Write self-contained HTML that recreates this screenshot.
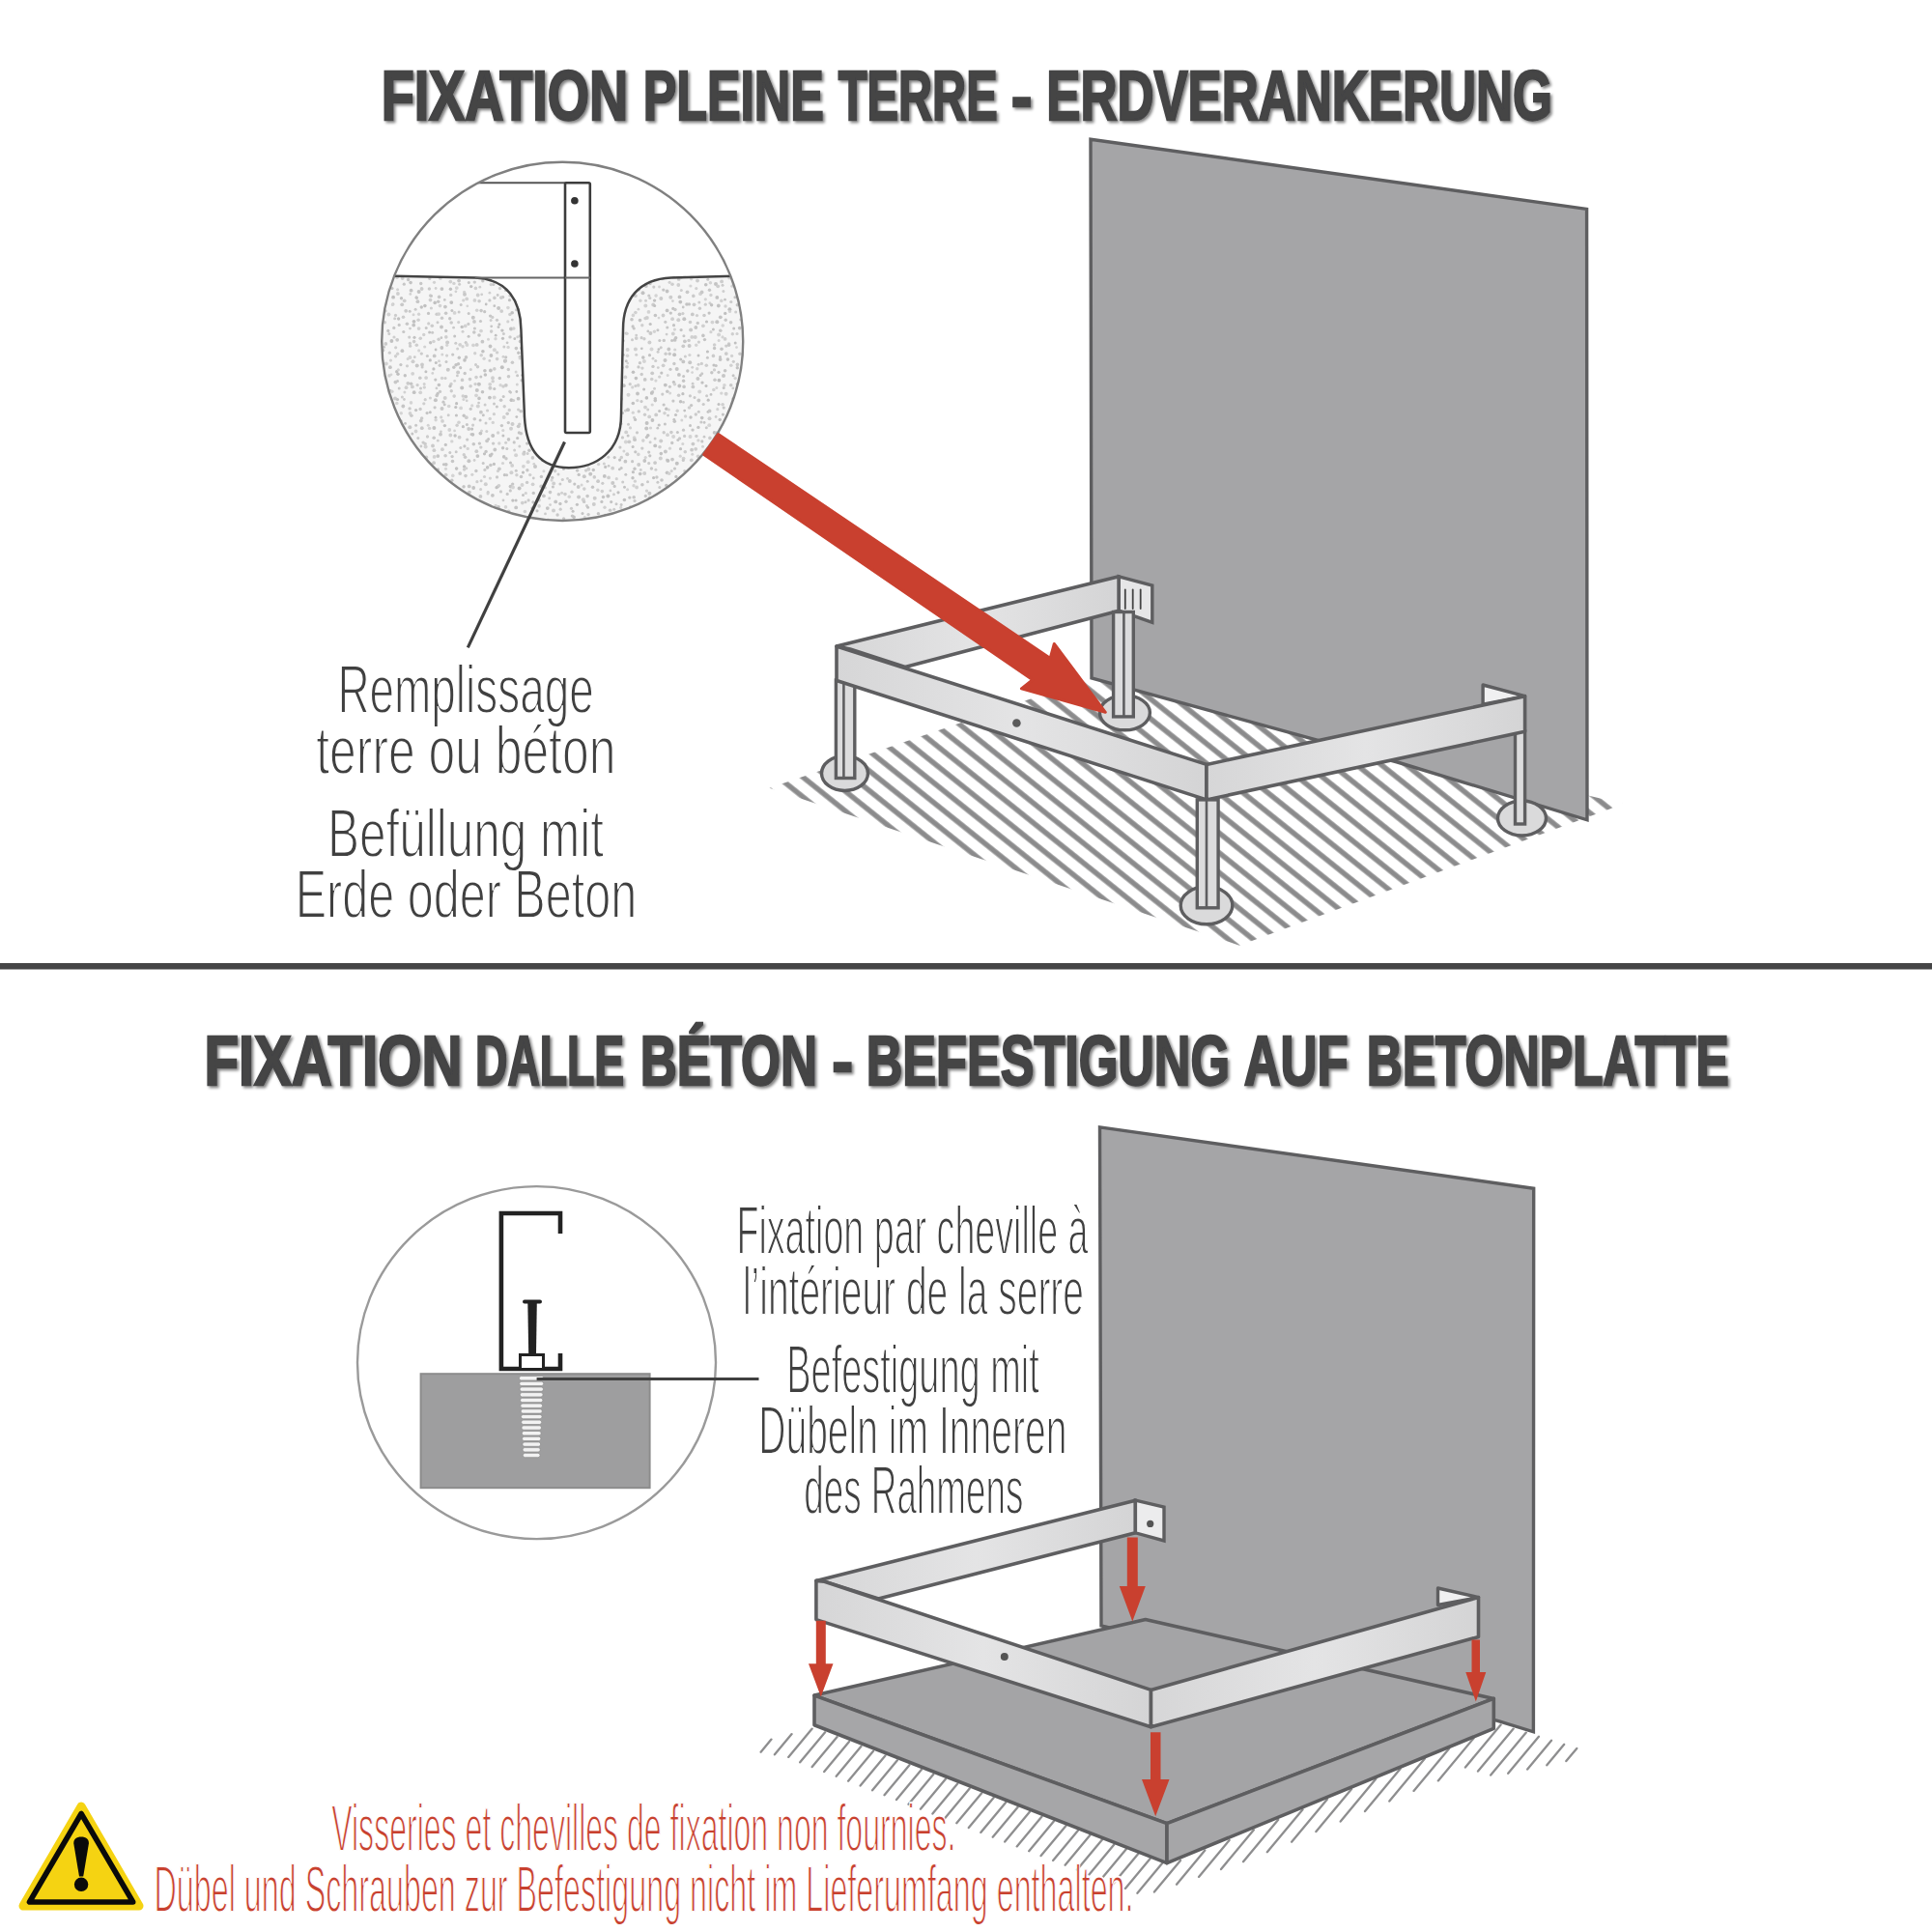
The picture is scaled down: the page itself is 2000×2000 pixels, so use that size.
<!DOCTYPE html>
<html><head><meta charset="utf-8"><title>Fixation</title>
<style>html,body{margin:0;padding:0;background:#fff;width:2000px;height:2000px;overflow:hidden}svg{display:block}text{font-family:"Liberation Sans",sans-serif}</style>
</head><body>
<svg width="2000" height="2000" viewBox="0 0 2000 2000"><defs>
<filter id="tsh" x="-5%" y="-30%" width="110%" height="160%">
  <feGaussianBlur in="SourceAlpha" stdDeviation="1.4"/>
  <feOffset dx="2.2" dy="2.4" result="b"/>
  <feComponentTransfer><feFuncA type="linear" slope="0.5"/></feComponentTransfer>
  <feMerge><feMergeNode/><feMergeNode in="SourceGraphic"/></feMerge>
</filter>
<pattern id="hatch1" patternUnits="userSpaceOnUse" width="40" height="16" patternTransform="rotate(38.66)">
  <rect x="0" y="10.24" width="40" height="5.4" fill="#8b8b8c"/>
</pattern>
<filter id="dblur" x="-5%" y="-5%" width="110%" height="110%"><feGaussianBlur stdDeviation="0.7"/></filter>
<clipPath id="c1"><ellipse cx="582.2" cy="353.4" rx="187" ry="185.6"/></clipPath>
<linearGradient id="railg" x1="0" y1="0" x2="1" y2="0">
  <stop offset="0" stop-color="#d6d6d7"/><stop offset="0.5" stop-color="#e4e4e5"/><stop offset="1" stop-color="#d4d4d5"/>
</linearGradient>
</defs>
<g filter="url(#tsh)">
<text x="394.64" y="124.4" font-family="Liberation Sans" font-size="72.3" font-weight="bold" fill="#444445" textLength="255.71" lengthAdjust="spacingAndGlyphs" stroke="#444445" stroke-width="2.4" stroke-linejoin="miter">FIXATION</text>
<text x="665.73" y="124.4" font-family="Liberation Sans" font-size="72.3" font-weight="bold" fill="#444445" textLength="187.09" lengthAdjust="spacingAndGlyphs" stroke="#444445" stroke-width="2.4" stroke-linejoin="miter">PLEINE</text>
<text x="867.80" y="124.4" font-family="Liberation Sans" font-size="72.3" font-weight="bold" fill="#444445" textLength="164.80" lengthAdjust="spacingAndGlyphs" stroke="#444445" stroke-width="2.4" stroke-linejoin="miter">TERRE</text>
<text x="1046.67" y="124.4" font-family="Liberation Sans" font-size="72.3" font-weight="bold" fill="#444445" textLength="21.68" lengthAdjust="spacingAndGlyphs" stroke="#444445" stroke-width="2.4" stroke-linejoin="miter">-</text>
<text x="1083.27" y="124.4" font-family="Liberation Sans" font-size="72.3" font-weight="bold" fill="#444445" textLength="523.65" lengthAdjust="spacingAndGlyphs" stroke="#444445" stroke-width="2.4" stroke-linejoin="miter">ERDVERANKERUNG</text>
<text x="211.43" y="1122.7" font-family="Liberation Sans" font-size="72.3" font-weight="bold" fill="#444445" textLength="266.94" lengthAdjust="spacingAndGlyphs" stroke="#444445" stroke-width="2.4" stroke-linejoin="miter">FIXATION</text>
<text x="491.96" y="1122.7" font-family="Liberation Sans" font-size="72.3" font-weight="bold" fill="#444445" textLength="154.26" lengthAdjust="spacingAndGlyphs" stroke="#444445" stroke-width="2.4" stroke-linejoin="miter">DALLE</text>
<text x="662.71" y="1122.7" font-family="Liberation Sans" font-size="72.3" font-weight="bold" fill="#444445" textLength="183.35" lengthAdjust="spacingAndGlyphs" stroke="#444445" stroke-width="2.4" stroke-linejoin="miter">BÉTON</text>
<text x="861.33" y="1122.7" font-family="Liberation Sans" font-size="72.3" font-weight="bold" fill="#444445" textLength="21.86" lengthAdjust="spacingAndGlyphs" stroke="#444445" stroke-width="2.4" stroke-linejoin="miter">-</text>
<text x="896.76" y="1122.7" font-family="Liberation Sans" font-size="72.3" font-weight="bold" fill="#444445" textLength="376.27" lengthAdjust="spacingAndGlyphs" stroke="#444445" stroke-width="2.4" stroke-linejoin="miter">BEFESTIGUNG</text>
<text x="1287.70" y="1122.7" font-family="Liberation Sans" font-size="72.3" font-weight="bold" fill="#444445" textLength="107.81" lengthAdjust="spacingAndGlyphs" stroke="#444445" stroke-width="2.4" stroke-linejoin="miter">AUF</text>
<text x="1414.67" y="1122.7" font-family="Liberation Sans" font-size="72.3" font-weight="bold" fill="#444445" textLength="375.04" lengthAdjust="spacingAndGlyphs" stroke="#444445" stroke-width="2.4" stroke-linejoin="miter">BETONPLATTE</text>
</g>
<rect x="0" y="997" width="2000" height="6.5" fill="#454546"/>
<g clip-path="url(#c1)">
<path d="M 380 285.8 L 800 285.8 L 800 560 L 380 560 Z M 491.8 285.8 L 491.8 287.5 C 526 289 539 312 539.4 341 L 543 432 C 545 470 563 484.2 589 484.2 C 616 484.2 643 468 643 430 L 645 341 C 645 310 661 289 694.7 287.5 L 694.7 285.8 Z" fill="#f5f5f5" fill-rule="evenodd"/>
<clipPath id="soilclip"><path d="M 380 285.8 L 800 285.8 L 800 560 L 380 560 Z M 491.8 285.8 L 491.8 287.5 C 526 289 539 312 539.4 341 L 543 432 C 545 470 563 484.2 589 484.2 C 616 484.2 643 468 643 430 L 645 341 C 645 310 661 289 694.7 287.5 L 694.7 285.8 Z" clip-rule="evenodd"/></clipPath>
<g clip-path="url(#soilclip)"><g filter="url(#dblur)"><circle cx="392.3" cy="281.1" r="1.8" fill="#c2c2c2"/><circle cx="402.7" cy="280.7" r="1.7" fill="#d0d0d0"/><circle cx="405.5" cy="280.6" r="1.7" fill="#c7c7c7"/><circle cx="411.6" cy="283.0" r="1.9" fill="#c3c3c3"/><circle cx="424.6" cy="284.4" r="1.7" fill="#c1c1c1"/><circle cx="429.0" cy="282.8" r="2.0" fill="#c1c1c1"/><circle cx="435.9" cy="280.9" r="1.7" fill="#d1d1d1"/><circle cx="439.8" cy="282.2" r="1.9" fill="#c5c5c5"/><circle cx="446.7" cy="284.0" r="1.5" fill="#c3c3c3"/><circle cx="456.8" cy="280.4" r="1.4" fill="#c6c6c6"/><circle cx="463.5" cy="283.7" r="1.9" fill="#cecece"/><circle cx="471.1" cy="283.2" r="1.6" fill="#c5c5c5"/><circle cx="478.9" cy="281.7" r="1.7" fill="#d0d0d0"/><circle cx="484.5" cy="282.4" r="1.7" fill="#d3d3d3"/><circle cx="494.9" cy="280.8" r="1.7" fill="#cacaca"/><circle cx="496.1" cy="283.4" r="1.4" fill="#c2c2c2"/><circle cx="507.4" cy="284.0" r="1.9" fill="#cacaca"/><circle cx="511.4" cy="282.5" r="1.7" fill="#cecece"/><circle cx="516.5" cy="280.7" r="1.6" fill="#c2c2c2"/><circle cx="523.4" cy="284.9" r="1.8" fill="#cecece"/><circle cx="532.0" cy="282.7" r="1.8" fill="#c0c0c0"/><circle cx="543.6" cy="282.5" r="1.8" fill="#cfcfcf"/><circle cx="544.4" cy="285.4" r="1.5" fill="#c7c7c7"/><circle cx="553.8" cy="286.4" r="1.7" fill="#c5c5c5"/><circle cx="561.1" cy="283.8" r="1.9" fill="#cdcdcd"/><circle cx="571.0" cy="281.9" r="1.6" fill="#cbcbcb"/><circle cx="576.8" cy="282.7" r="1.5" fill="#c2c2c2"/><circle cx="580.2" cy="281.6" r="1.5" fill="#cfcfcf"/><circle cx="591.8" cy="281.3" r="1.6" fill="#c4c4c4"/><circle cx="595.9" cy="282.6" r="1.7" fill="#c4c4c4"/><circle cx="604.8" cy="283.6" r="1.8" fill="#c1c1c1"/><circle cx="610.2" cy="286.1" r="2.0" fill="#d1d1d1"/><circle cx="616.7" cy="282.8" r="1.5" fill="#d4d4d4"/><circle cx="623.8" cy="281.3" r="2.0" fill="#cecece"/><circle cx="629.1" cy="282.4" r="1.4" fill="#c0c0c0"/><circle cx="639.0" cy="283.8" r="2.0" fill="#d3d3d3"/><circle cx="642.2" cy="286.1" r="1.8" fill="#c4c4c4"/><circle cx="653.4" cy="286.7" r="1.8" fill="#cfcfcf"/><circle cx="656.9" cy="285.9" r="2.0" fill="#cecece"/><circle cx="666.4" cy="282.2" r="1.5" fill="#cacaca"/><circle cx="675.2" cy="283.4" r="1.8" fill="#d0d0d0"/><circle cx="677.2" cy="286.7" r="1.7" fill="#c4c4c4"/><circle cx="688.8" cy="286.4" r="1.9" fill="#c9c9c9"/><circle cx="697.8" cy="286.0" r="1.8" fill="#c8c8c8"/><circle cx="701.6" cy="286.4" r="1.6" fill="#c7c7c7"/><circle cx="708.7" cy="285.5" r="1.6" fill="#c7c7c7"/><circle cx="716.3" cy="285.5" r="1.9" fill="#c6c6c6"/><circle cx="724.6" cy="285.7" r="1.8" fill="#c7c7c7"/><circle cx="727.4" cy="283.4" r="1.8" fill="#c0c0c0"/><circle cx="738.5" cy="283.3" r="1.5" fill="#d3d3d3"/><circle cx="746.7" cy="283.1" r="2.0" fill="#cbcbcb"/><circle cx="753.7" cy="282.6" r="1.5" fill="#c7c7c7"/><circle cx="757.3" cy="282.4" r="1.7" fill="#d3d3d3"/><circle cx="766.9" cy="283.4" r="1.8" fill="#d4d4d4"/><circle cx="768.6" cy="284.6" r="1.9" fill="#c6c6c6"/><circle cx="778.3" cy="281.2" r="1.9" fill="#cacaca"/><circle cx="390.6" cy="293.6" r="1.8" fill="#cecece"/><circle cx="399.8" cy="293.6" r="1.8" fill="#c5c5c5"/><circle cx="411.0" cy="287.2" r="1.8" fill="#cecece"/><circle cx="416.6" cy="288.0" r="1.9" fill="#cfcfcf"/><circle cx="422.6" cy="289.5" r="1.7" fill="#c4c4c4"/><circle cx="425.1" cy="292.6" r="1.8" fill="#c3c3c3"/><circle cx="435.7" cy="293.5" r="1.7" fill="#c6c6c6"/><circle cx="444.8" cy="288.5" r="1.6" fill="#c9c9c9"/><circle cx="449.5" cy="292.3" r="1.6" fill="#d1d1d1"/><circle cx="455.9" cy="287.9" r="1.9" fill="#cbcbcb"/><circle cx="466.3" cy="291.6" r="1.9" fill="#d0d0d0"/><circle cx="469.9" cy="293.4" r="1.7" fill="#d1d1d1"/><circle cx="475.1" cy="290.6" r="1.9" fill="#c5c5c5"/><circle cx="485.3" cy="292.4" r="1.5" fill="#c4c4c4"/><circle cx="491.3" cy="292.1" r="1.7" fill="#cacaca"/><circle cx="499.8" cy="290.7" r="1.7" fill="#c3c3c3"/><circle cx="508.2" cy="287.4" r="1.5" fill="#c1c1c1"/><circle cx="514.4" cy="290.6" r="1.7" fill="#c2c2c2"/><circle cx="519.1" cy="291.3" r="1.7" fill="#d0d0d0"/><circle cx="524.4" cy="288.9" r="1.7" fill="#cfcfcf"/><circle cx="533.6" cy="288.7" r="1.7" fill="#c8c8c8"/><circle cx="543.5" cy="293.2" r="1.5" fill="#cecece"/><circle cx="545.0" cy="287.9" r="1.7" fill="#c2c2c2"/><circle cx="555.7" cy="290.0" r="1.5" fill="#c9c9c9"/><circle cx="563.5" cy="293.3" r="1.5" fill="#d4d4d4"/><circle cx="569.6" cy="288.0" r="1.9" fill="#cecece"/><circle cx="573.5" cy="293.7" r="1.6" fill="#cfcfcf"/><circle cx="580.1" cy="291.7" r="1.5" fill="#cdcdcd"/><circle cx="593.0" cy="289.8" r="1.7" fill="#cbcbcb"/><circle cx="595.2" cy="292.1" r="1.4" fill="#d1d1d1"/><circle cx="603.2" cy="291.9" r="1.6" fill="#d0d0d0"/><circle cx="611.4" cy="290.6" r="1.4" fill="#c7c7c7"/><circle cx="620.8" cy="287.7" r="1.6" fill="#c1c1c1"/><circle cx="627.3" cy="288.3" r="1.9" fill="#cdcdcd"/><circle cx="633.9" cy="291.7" r="2.0" fill="#cccccc"/><circle cx="636.0" cy="293.4" r="1.7" fill="#cacaca"/><circle cx="642.6" cy="287.4" r="1.8" fill="#cdcdcd"/><circle cx="655.3" cy="288.9" r="1.4" fill="#c2c2c2"/><circle cx="661.6" cy="287.6" r="1.9" fill="#c2c2c2"/><circle cx="664.9" cy="287.9" r="1.4" fill="#d1d1d1"/><circle cx="672.9" cy="293.4" r="1.8" fill="#c1c1c1"/><circle cx="680.7" cy="288.7" r="1.5" fill="#c5c5c5"/><circle cx="685.8" cy="288.3" r="2.0" fill="#d4d4d4"/><circle cx="693.1" cy="292.3" r="1.6" fill="#d0d0d0"/><circle cx="702.7" cy="288.9" r="1.9" fill="#c8c8c8"/><circle cx="705.3" cy="287.1" r="1.7" fill="#c6c6c6"/><circle cx="715.6" cy="288.7" r="1.7" fill="#d4d4d4"/><circle cx="722.0" cy="290.5" r="1.9" fill="#cccccc"/><circle cx="732.8" cy="289.2" r="1.5" fill="#c7c7c7"/><circle cx="735.4" cy="292.8" r="1.8" fill="#d4d4d4"/><circle cx="741.0" cy="293.9" r="2.0" fill="#c4c4c4"/><circle cx="747.1" cy="291.4" r="1.9" fill="#cdcdcd"/><circle cx="755.1" cy="287.6" r="1.9" fill="#d0d0d0"/><circle cx="765.7" cy="289.0" r="1.5" fill="#c9c9c9"/><circle cx="768.3" cy="288.3" r="1.6" fill="#c0c0c0"/><circle cx="776.8" cy="293.7" r="2.0" fill="#d1d1d1"/><circle cx="392.3" cy="294.2" r="1.9" fill="#c6c6c6"/><circle cx="399.5" cy="294.0" r="1.6" fill="#cfcfcf"/><circle cx="406.0" cy="298.6" r="1.5" fill="#c0c0c0"/><circle cx="411.6" cy="299.7" r="1.5" fill="#d2d2d2"/><circle cx="418.3" cy="294.2" r="1.6" fill="#c7c7c7"/><circle cx="425.6" cy="300.7" r="1.9" fill="#c4c4c4"/><circle cx="436.6" cy="299.0" r="1.9" fill="#cccccc"/><circle cx="444.4" cy="299.0" r="1.7" fill="#c9c9c9"/><circle cx="451.1" cy="298.5" r="1.4" fill="#d0d0d0"/><circle cx="457.4" cy="299.1" r="1.9" fill="#c4c4c4"/><circle cx="466.4" cy="299.3" r="1.7" fill="#c0c0c0"/><circle cx="472.8" cy="298.1" r="1.9" fill="#d4d4d4"/><circle cx="475.6" cy="294.2" r="1.5" fill="#cbcbcb"/><circle cx="487.7" cy="296.6" r="1.7" fill="#c1c1c1"/><circle cx="492.4" cy="298.4" r="1.8" fill="#cfcfcf"/><circle cx="496.8" cy="297.2" r="1.4" fill="#d0d0d0"/><circle cx="508.3" cy="294.6" r="1.7" fill="#cfcfcf"/><circle cx="510.8" cy="294.5" r="1.6" fill="#c6c6c6"/><circle cx="517.6" cy="298.5" r="1.7" fill="#cccccc"/><circle cx="523.5" cy="300.4" r="1.6" fill="#c1c1c1"/><circle cx="534.3" cy="298.5" r="1.4" fill="#c4c4c4"/><circle cx="539.3" cy="298.6" r="1.8" fill="#d3d3d3"/><circle cx="548.0" cy="294.1" r="1.4" fill="#c8c8c8"/><circle cx="557.8" cy="294.7" r="1.5" fill="#cfcfcf"/><circle cx="560.0" cy="297.6" r="1.7" fill="#cecece"/><circle cx="570.4" cy="301.0" r="1.7" fill="#c9c9c9"/><circle cx="578.8" cy="300.6" r="1.4" fill="#cecece"/><circle cx="579.5" cy="297.5" r="2.0" fill="#c8c8c8"/><circle cx="588.7" cy="300.4" r="2.0" fill="#c2c2c2"/><circle cx="597.1" cy="295.0" r="1.7" fill="#cbcbcb"/><circle cx="600.9" cy="299.7" r="1.7" fill="#c3c3c3"/><circle cx="611.9" cy="295.6" r="1.9" fill="#cfcfcf"/><circle cx="616.8" cy="295.1" r="2.0" fill="#cecece"/><circle cx="623.8" cy="299.1" r="1.6" fill="#cccccc"/><circle cx="630.2" cy="299.9" r="1.4" fill="#cacaca"/><circle cx="640.9" cy="294.8" r="2.0" fill="#c0c0c0"/><circle cx="648.3" cy="296.0" r="1.6" fill="#cccccc"/><circle cx="651.7" cy="300.1" r="1.4" fill="#cdcdcd"/><circle cx="661.3" cy="300.0" r="1.6" fill="#c1c1c1"/><circle cx="668.8" cy="296.0" r="2.0" fill="#c7c7c7"/><circle cx="676.8" cy="297.1" r="1.6" fill="#cbcbcb"/><circle cx="682.5" cy="297.0" r="1.4" fill="#d4d4d4"/><circle cx="686.8" cy="300.1" r="1.7" fill="#c6c6c6"/><circle cx="696.0" cy="294.3" r="1.8" fill="#cecece"/><circle cx="702.3" cy="295.0" r="1.9" fill="#cfcfcf"/><circle cx="705.3" cy="300.5" r="1.5" fill="#cfcfcf"/><circle cx="714.9" cy="296.0" r="1.6" fill="#d4d4d4"/><circle cx="720.8" cy="298.6" r="1.6" fill="#d1d1d1"/><circle cx="730.7" cy="294.8" r="1.8" fill="#c2c2c2"/><circle cx="734.5" cy="300.3" r="1.7" fill="#c7c7c7"/><circle cx="743.2" cy="296.3" r="1.9" fill="#cdcdcd"/><circle cx="748.0" cy="295.3" r="1.5" fill="#cacaca"/><circle cx="757.9" cy="296.2" r="1.6" fill="#d2d2d2"/><circle cx="762.4" cy="294.1" r="1.9" fill="#cccccc"/><circle cx="770.9" cy="297.7" r="1.6" fill="#cacaca"/><circle cx="780.3" cy="297.5" r="1.7" fill="#cbcbcb"/><circle cx="390.9" cy="304.5" r="1.8" fill="#c6c6c6"/><circle cx="397.6" cy="307.3" r="1.6" fill="#d4d4d4"/><circle cx="407.1" cy="307.7" r="1.9" fill="#c0c0c0"/><circle cx="411.9" cy="304.0" r="1.9" fill="#cfcfcf"/><circle cx="424.8" cy="304.4" r="1.4" fill="#d0d0d0"/><circle cx="431.0" cy="307.8" r="1.5" fill="#c3c3c3"/><circle cx="433.6" cy="302.1" r="2.0" fill="#c3c3c3"/><circle cx="445.6" cy="306.1" r="1.8" fill="#cecece"/><circle cx="446.6" cy="306.4" r="1.4" fill="#c4c4c4"/><circle cx="454.6" cy="307.4" r="1.8" fill="#c9c9c9"/><circle cx="466.7" cy="305.4" r="1.7" fill="#cdcdcd"/><circle cx="471.9" cy="301.8" r="1.4" fill="#d0d0d0"/><circle cx="480.6" cy="302.3" r="1.6" fill="#d3d3d3"/><circle cx="481.0" cy="304.8" r="2.0" fill="#c8c8c8"/><circle cx="494.7" cy="305.5" r="1.9" fill="#cfcfcf"/><circle cx="498.7" cy="304.8" r="1.4" fill="#cdcdcd"/><circle cx="506.9" cy="303.2" r="1.4" fill="#cfcfcf"/><circle cx="515.2" cy="305.5" r="1.4" fill="#c7c7c7"/><circle cx="520.7" cy="307.5" r="1.5" fill="#c1c1c1"/><circle cx="527.9" cy="306.0" r="1.6" fill="#cccccc"/><circle cx="531.4" cy="306.6" r="1.8" fill="#d0d0d0"/><circle cx="537.5" cy="304.5" r="1.5" fill="#c6c6c6"/><circle cx="545.6" cy="302.6" r="1.9" fill="#c9c9c9"/><circle cx="551.8" cy="305.4" r="1.8" fill="#c7c7c7"/><circle cx="561.4" cy="307.4" r="1.4" fill="#d3d3d3"/><circle cx="566.0" cy="303.8" r="1.5" fill="#d3d3d3"/><circle cx="573.0" cy="301.4" r="1.4" fill="#cccccc"/><circle cx="582.1" cy="306.0" r="1.6" fill="#c3c3c3"/><circle cx="593.0" cy="307.5" r="1.6" fill="#c5c5c5"/><circle cx="597.6" cy="304.7" r="1.7" fill="#c9c9c9"/><circle cx="604.7" cy="303.7" r="1.6" fill="#cacaca"/><circle cx="610.1" cy="301.8" r="1.4" fill="#c2c2c2"/><circle cx="616.5" cy="307.7" r="1.5" fill="#c6c6c6"/><circle cx="623.7" cy="306.4" r="1.6" fill="#cdcdcd"/><circle cx="628.6" cy="305.9" r="1.5" fill="#d1d1d1"/><circle cx="641.4" cy="302.4" r="1.6" fill="#cfcfcf"/><circle cx="642.2" cy="303.9" r="1.9" fill="#cccccc"/><circle cx="649.3" cy="301.2" r="1.4" fill="#c1c1c1"/><circle cx="657.8" cy="306.2" r="1.9" fill="#cacaca"/><circle cx="665.5" cy="303.3" r="2.0" fill="#c1c1c1"/><circle cx="671.8" cy="306.0" r="1.6" fill="#c8c8c8"/><circle cx="679.1" cy="306.1" r="1.8" fill="#d4d4d4"/><circle cx="690.6" cy="301.5" r="1.9" fill="#c3c3c3"/><circle cx="694.3" cy="307.7" r="2.0" fill="#cccccc"/><circle cx="703.5" cy="307.4" r="1.9" fill="#c4c4c4"/><circle cx="711.5" cy="302.3" r="1.9" fill="#c9c9c9"/><circle cx="717.8" cy="306.4" r="1.8" fill="#cacaca"/><circle cx="725.0" cy="304.2" r="1.9" fill="#d3d3d3"/><circle cx="726.6" cy="302.4" r="1.9" fill="#c7c7c7"/><circle cx="735.9" cy="305.5" r="1.7" fill="#d1d1d1"/><circle cx="742.3" cy="307.9" r="1.9" fill="#c2c2c2"/><circle cx="748.9" cy="301.6" r="1.5" fill="#cfcfcf"/><circle cx="760.9" cy="307.8" r="1.5" fill="#c4c4c4"/><circle cx="763.9" cy="305.3" r="1.8" fill="#d1d1d1"/><circle cx="773.9" cy="305.7" r="1.5" fill="#c9c9c9"/><circle cx="777.1" cy="305.0" r="1.6" fill="#c8c8c8"/><circle cx="391.4" cy="309.7" r="1.5" fill="#c4c4c4"/><circle cx="399.0" cy="314.4" r="1.5" fill="#c2c2c2"/><circle cx="406.8" cy="314.9" r="1.7" fill="#c7c7c7"/><circle cx="415.5" cy="308.7" r="1.7" fill="#c1c1c1"/><circle cx="418.7" cy="311.3" r="1.9" fill="#cecece"/><circle cx="431.4" cy="308.3" r="1.6" fill="#c3c3c3"/><circle cx="432.4" cy="312.2" r="1.9" fill="#c6c6c6"/><circle cx="445.5" cy="310.6" r="1.9" fill="#cecece"/><circle cx="450.2" cy="313.4" r="1.8" fill="#c0c0c0"/><circle cx="453.7" cy="312.2" r="1.8" fill="#c6c6c6"/><circle cx="460.3" cy="310.4" r="1.4" fill="#c8c8c8"/><circle cx="467.3" cy="313.1" r="1.9" fill="#c0c0c0"/><circle cx="479.7" cy="310.9" r="1.6" fill="#d3d3d3"/><circle cx="483.2" cy="309.4" r="1.9" fill="#d1d1d1"/><circle cx="491.4" cy="310.9" r="1.9" fill="#d1d1d1"/><circle cx="496.1" cy="311.7" r="1.8" fill="#cccccc"/><circle cx="506.9" cy="310.9" r="1.6" fill="#c9c9c9"/><circle cx="511.9" cy="308.4" r="1.8" fill="#cbcbcb"/><circle cx="518.9" cy="308.1" r="1.9" fill="#cbcbcb"/><circle cx="527.5" cy="310.7" r="1.6" fill="#c0c0c0"/><circle cx="533.0" cy="309.1" r="1.5" fill="#c2c2c2"/><circle cx="539.8" cy="314.2" r="1.7" fill="#c5c5c5"/><circle cx="544.9" cy="308.4" r="1.5" fill="#cccccc"/><circle cx="551.6" cy="312.4" r="1.6" fill="#d0d0d0"/><circle cx="559.2" cy="310.4" r="1.5" fill="#c5c5c5"/><circle cx="571.5" cy="308.8" r="1.7" fill="#c6c6c6"/><circle cx="574.1" cy="313.9" r="1.4" fill="#cfcfcf"/><circle cx="581.2" cy="312.3" r="1.8" fill="#c2c2c2"/><circle cx="592.3" cy="312.3" r="1.9" fill="#c5c5c5"/><circle cx="597.5" cy="314.0" r="1.8" fill="#d3d3d3"/><circle cx="605.9" cy="313.8" r="1.5" fill="#c6c6c6"/><circle cx="607.3" cy="314.6" r="1.5" fill="#cbcbcb"/><circle cx="614.9" cy="309.7" r="1.8" fill="#c6c6c6"/><circle cx="621.3" cy="311.9" r="1.9" fill="#c1c1c1"/><circle cx="632.7" cy="310.3" r="1.6" fill="#cecece"/><circle cx="638.9" cy="312.4" r="1.6" fill="#cdcdcd"/><circle cx="644.2" cy="309.7" r="1.6" fill="#cbcbcb"/><circle cx="652.1" cy="311.1" r="1.4" fill="#d3d3d3"/><circle cx="662.9" cy="311.3" r="1.7" fill="#d3d3d3"/><circle cx="668.5" cy="311.2" r="1.5" fill="#cfcfcf"/><circle cx="672.8" cy="308.5" r="1.6" fill="#cbcbcb"/><circle cx="677.6" cy="311.1" r="1.7" fill="#c1c1c1"/><circle cx="684.3" cy="308.9" r="2.0" fill="#cacaca"/><circle cx="696.4" cy="311.6" r="1.4" fill="#d0d0d0"/><circle cx="704.3" cy="312.6" r="1.9" fill="#c0c0c0"/><circle cx="711.0" cy="315.0" r="1.8" fill="#c3c3c3"/><circle cx="713.4" cy="314.9" r="1.7" fill="#c5c5c5"/><circle cx="723.8" cy="313.0" r="1.5" fill="#cbcbcb"/><circle cx="730.3" cy="309.8" r="1.6" fill="#d3d3d3"/><circle cx="734.9" cy="313.7" r="1.5" fill="#d0d0d0"/><circle cx="746.8" cy="311.4" r="1.8" fill="#d3d3d3"/><circle cx="750.5" cy="310.2" r="1.4" fill="#c5c5c5"/><circle cx="756.8" cy="312.5" r="1.6" fill="#cacaca"/><circle cx="767.3" cy="309.2" r="1.9" fill="#c3c3c3"/><circle cx="773.4" cy="308.3" r="1.9" fill="#cecece"/><circle cx="778.9" cy="312.1" r="1.9" fill="#c3c3c3"/><circle cx="391.8" cy="318.7" r="1.9" fill="#cbcbcb"/><circle cx="398.9" cy="321.9" r="1.7" fill="#cbcbcb"/><circle cx="406.3" cy="315.6" r="1.5" fill="#d3d3d3"/><circle cx="416.2" cy="315.3" r="1.9" fill="#c8c8c8"/><circle cx="420.2" cy="321.8" r="1.9" fill="#cacaca"/><circle cx="430.1" cy="320.2" r="1.5" fill="#c9c9c9"/><circle cx="436.3" cy="318.0" r="1.7" fill="#c1c1c1"/><circle cx="439.9" cy="316.6" r="1.8" fill="#c0c0c0"/><circle cx="446.4" cy="319.0" r="1.6" fill="#d0d0d0"/><circle cx="455.5" cy="316.6" r="1.8" fill="#d2d2d2"/><circle cx="460.9" cy="317.6" r="1.9" fill="#c5c5c5"/><circle cx="467.9" cy="321.6" r="1.5" fill="#c4c4c4"/><circle cx="477.2" cy="315.4" r="1.5" fill="#c8c8c8"/><circle cx="483.8" cy="316.8" r="1.4" fill="#d4d4d4"/><circle cx="493.7" cy="321.2" r="1.8" fill="#d2d2d2"/><circle cx="498.1" cy="321.6" r="1.8" fill="#c7c7c7"/><circle cx="503.2" cy="315.0" r="1.4" fill="#c0c0c0"/><circle cx="511.8" cy="316.7" r="1.4" fill="#c3c3c3"/><circle cx="516.1" cy="318.9" r="2.0" fill="#c4c4c4"/><circle cx="525.9" cy="318.6" r="1.8" fill="#d4d4d4"/><circle cx="534.5" cy="320.7" r="1.5" fill="#c9c9c9"/><circle cx="537.4" cy="319.4" r="2.0" fill="#cfcfcf"/><circle cx="549.0" cy="315.0" r="1.9" fill="#cecece"/><circle cx="551.6" cy="319.6" r="1.5" fill="#c3c3c3"/><circle cx="559.8" cy="319.5" r="1.5" fill="#c8c8c8"/><circle cx="570.0" cy="316.9" r="1.7" fill="#cdcdcd"/><circle cx="576.8" cy="321.4" r="2.0" fill="#c9c9c9"/><circle cx="583.5" cy="321.8" r="1.5" fill="#d0d0d0"/><circle cx="586.1" cy="316.8" r="1.5" fill="#c6c6c6"/><circle cx="599.6" cy="320.2" r="1.6" fill="#cccccc"/><circle cx="602.3" cy="316.7" r="1.9" fill="#d4d4d4"/><circle cx="613.5" cy="321.9" r="1.9" fill="#d1d1d1"/><circle cx="617.3" cy="320.9" r="1.8" fill="#c0c0c0"/><circle cx="624.1" cy="320.1" r="1.7" fill="#c9c9c9"/><circle cx="633.5" cy="317.7" r="1.8" fill="#d2d2d2"/><circle cx="641.4" cy="316.0" r="1.4" fill="#c3c3c3"/><circle cx="646.4" cy="316.1" r="2.0" fill="#c0c0c0"/><circle cx="649.2" cy="316.0" r="1.8" fill="#c1c1c1"/><circle cx="660.9" cy="320.2" r="1.4" fill="#d2d2d2"/><circle cx="668.3" cy="316.4" r="2.0" fill="#d1d1d1"/><circle cx="676.2" cy="315.5" r="1.9" fill="#cccccc"/><circle cx="677.7" cy="316.4" r="1.5" fill="#c1c1c1"/><circle cx="690.6" cy="321.4" r="1.9" fill="#c2c2c2"/><circle cx="696.8" cy="319.4" r="1.6" fill="#c3c3c3"/><circle cx="698.9" cy="320.5" r="1.8" fill="#c9c9c9"/><circle cx="707.2" cy="318.0" r="1.4" fill="#c8c8c8"/><circle cx="718.5" cy="315.3" r="1.9" fill="#cacaca"/><circle cx="724.4" cy="319.2" r="1.7" fill="#c9c9c9"/><circle cx="730.3" cy="315.2" r="1.6" fill="#cdcdcd"/><circle cx="736.6" cy="315.7" r="1.7" fill="#c1c1c1"/><circle cx="743.8" cy="316.5" r="1.9" fill="#c2c2c2"/><circle cx="751.0" cy="317.0" r="1.7" fill="#d0d0d0"/><circle cx="755.4" cy="320.3" r="2.0" fill="#c0c0c0"/><circle cx="763.4" cy="315.7" r="1.8" fill="#c5c5c5"/><circle cx="774.8" cy="319.1" r="2.0" fill="#d0d0d0"/><circle cx="776.8" cy="321.6" r="1.6" fill="#c6c6c6"/><circle cx="396.6" cy="323.6" r="1.5" fill="#d4d4d4"/><circle cx="402.4" cy="325.4" r="2.0" fill="#d1d1d1"/><circle cx="409.5" cy="326.4" r="1.6" fill="#cccccc"/><circle cx="417.5" cy="328.2" r="1.8" fill="#cdcdcd"/><circle cx="424.2" cy="322.2" r="1.5" fill="#c8c8c8"/><circle cx="428.0" cy="325.8" r="1.5" fill="#d4d4d4"/><circle cx="433.6" cy="325.2" r="1.7" fill="#d3d3d3"/><circle cx="443.5" cy="324.4" r="1.6" fill="#c4c4c4"/><circle cx="452.1" cy="325.2" r="1.7" fill="#cacaca"/><circle cx="454.2" cy="325.1" r="1.9" fill="#d2d2d2"/><circle cx="461.6" cy="324.3" r="1.8" fill="#c7c7c7"/><circle cx="470.6" cy="323.9" r="1.9" fill="#d3d3d3"/><circle cx="475.1" cy="323.1" r="1.5" fill="#cacaca"/><circle cx="485.2" cy="324.4" r="1.5" fill="#c6c6c6"/><circle cx="489.8" cy="328.7" r="2.0" fill="#c5c5c5"/><circle cx="501.7" cy="322.7" r="1.6" fill="#c4c4c4"/><circle cx="507.6" cy="327.1" r="1.7" fill="#c6c6c6"/><circle cx="509.8" cy="328.4" r="1.6" fill="#cccccc"/><circle cx="519.2" cy="322.1" r="1.9" fill="#cdcdcd"/><circle cx="527.9" cy="325.5" r="1.8" fill="#cecece"/><circle cx="530.2" cy="323.8" r="1.8" fill="#c0c0c0"/><circle cx="542.2" cy="328.4" r="1.7" fill="#d2d2d2"/><circle cx="548.1" cy="326.5" r="1.9" fill="#d4d4d4"/><circle cx="557.2" cy="327.4" r="1.8" fill="#c7c7c7"/><circle cx="562.8" cy="326.5" r="1.7" fill="#cacaca"/><circle cx="566.8" cy="326.9" r="1.9" fill="#c7c7c7"/><circle cx="577.5" cy="327.0" r="1.8" fill="#c8c8c8"/><circle cx="584.9" cy="325.4" r="1.4" fill="#cdcdcd"/><circle cx="589.6" cy="326.6" r="1.9" fill="#d4d4d4"/><circle cx="595.3" cy="322.1" r="1.9" fill="#c3c3c3"/><circle cx="600.3" cy="325.8" r="1.5" fill="#c6c6c6"/><circle cx="610.6" cy="322.7" r="1.7" fill="#d1d1d1"/><circle cx="615.4" cy="325.3" r="1.4" fill="#cbcbcb"/><circle cx="624.7" cy="324.9" r="2.0" fill="#c6c6c6"/><circle cx="634.9" cy="323.3" r="1.7" fill="#c3c3c3"/><circle cx="640.1" cy="326.3" r="1.8" fill="#c8c8c8"/><circle cx="643.9" cy="324.8" r="1.4" fill="#cdcdcd"/><circle cx="655.4" cy="326.4" r="1.8" fill="#d2d2d2"/><circle cx="657.9" cy="323.6" r="1.8" fill="#d0d0d0"/><circle cx="669.8" cy="329.0" r="2.0" fill="#cecece"/><circle cx="671.5" cy="322.9" r="1.9" fill="#d4d4d4"/><circle cx="678.4" cy="326.5" r="1.8" fill="#c4c4c4"/><circle cx="686.5" cy="326.5" r="1.9" fill="#cdcdcd"/><circle cx="694.3" cy="324.1" r="1.7" fill="#c4c4c4"/><circle cx="703.5" cy="325.3" r="1.9" fill="#c7c7c7"/><circle cx="706.9" cy="324.6" r="1.6" fill="#cdcdcd"/><circle cx="716.8" cy="325.4" r="1.9" fill="#c8c8c8"/><circle cx="721.5" cy="326.6" r="1.6" fill="#cfcfcf"/><circle cx="729.0" cy="326.5" r="1.8" fill="#cbcbcb"/><circle cx="734.1" cy="324.1" r="1.6" fill="#c2c2c2"/><circle cx="745.8" cy="328.3" r="1.9" fill="#c4c4c4"/><circle cx="750.7" cy="324.4" r="1.7" fill="#c0c0c0"/><circle cx="755.5" cy="322.5" r="1.6" fill="#d3d3d3"/><circle cx="761.7" cy="323.0" r="1.5" fill="#cecece"/><circle cx="770.4" cy="323.1" r="1.9" fill="#d1d1d1"/><circle cx="776.2" cy="328.2" r="1.8" fill="#c2c2c2"/><circle cx="394.7" cy="335.3" r="1.9" fill="#c9c9c9"/><circle cx="398.4" cy="333.8" r="1.7" fill="#cecece"/><circle cx="408.7" cy="329.8" r="1.5" fill="#cdcdcd"/><circle cx="412.6" cy="330.0" r="1.7" fill="#c1c1c1"/><circle cx="421.4" cy="335.3" r="1.8" fill="#c7c7c7"/><circle cx="428.5" cy="332.8" r="1.9" fill="#c0c0c0"/><circle cx="433.1" cy="331.2" r="1.8" fill="#cfcfcf"/><circle cx="443.7" cy="334.9" r="1.6" fill="#cdcdcd"/><circle cx="453.0" cy="333.7" r="1.5" fill="#cbcbcb"/><circle cx="457.5" cy="329.2" r="1.8" fill="#cacaca"/><circle cx="465.7" cy="329.7" r="1.7" fill="#c4c4c4"/><circle cx="467.2" cy="334.0" r="1.8" fill="#cacaca"/><circle cx="474.7" cy="333.6" r="1.6" fill="#d0d0d0"/><circle cx="484.9" cy="335.4" r="1.6" fill="#cacaca"/><circle cx="491.0" cy="332.9" r="1.9" fill="#c9c9c9"/><circle cx="497.5" cy="332.5" r="1.6" fill="#c8c8c8"/><circle cx="508.1" cy="331.4" r="1.5" fill="#cfcfcf"/><circle cx="514.5" cy="331.3" r="1.6" fill="#c9c9c9"/><circle cx="516.9" cy="335.8" r="1.5" fill="#c1c1c1"/><circle cx="525.8" cy="332.9" r="1.6" fill="#d2d2d2"/><circle cx="530.3" cy="331.1" r="1.4" fill="#c6c6c6"/><circle cx="542.8" cy="332.3" r="1.9" fill="#c1c1c1"/><circle cx="549.5" cy="335.4" r="1.8" fill="#d3d3d3"/><circle cx="552.0" cy="333.7" r="1.8" fill="#c2c2c2"/><circle cx="559.5" cy="333.7" r="1.7" fill="#c5c5c5"/><circle cx="565.7" cy="330.3" r="1.4" fill="#c3c3c3"/><circle cx="578.4" cy="333.6" r="1.6" fill="#c4c4c4"/><circle cx="584.5" cy="332.9" r="1.6" fill="#c9c9c9"/><circle cx="587.3" cy="329.2" r="1.4" fill="#d2d2d2"/><circle cx="597.5" cy="335.5" r="1.4" fill="#d2d2d2"/><circle cx="603.7" cy="334.8" r="1.9" fill="#cdcdcd"/><circle cx="611.0" cy="335.4" r="1.7" fill="#c0c0c0"/><circle cx="618.8" cy="333.2" r="2.0" fill="#c4c4c4"/><circle cx="624.3" cy="331.9" r="1.5" fill="#d4d4d4"/><circle cx="631.3" cy="335.3" r="1.8" fill="#cdcdcd"/><circle cx="635.0" cy="333.8" r="1.5" fill="#c2c2c2"/><circle cx="643.5" cy="329.8" r="1.7" fill="#c8c8c8"/><circle cx="654.0" cy="330.7" r="1.8" fill="#c5c5c5"/><circle cx="662.5" cy="331.6" r="1.8" fill="#c4c4c4"/><circle cx="668.1" cy="329.6" r="1.8" fill="#cfcfcf"/><circle cx="673.2" cy="335.5" r="1.6" fill="#c1c1c1"/><circle cx="682.0" cy="329.1" r="1.4" fill="#d4d4d4"/><circle cx="688.8" cy="333.3" r="1.6" fill="#c9c9c9"/><circle cx="696.1" cy="330.2" r="1.9" fill="#cfcfcf"/><circle cx="702.3" cy="331.2" r="2.0" fill="#cecece"/><circle cx="708.3" cy="330.2" r="2.0" fill="#c3c3c3"/><circle cx="714.5" cy="333.5" r="1.8" fill="#cdcdcd"/><circle cx="722.3" cy="334.4" r="1.7" fill="#c8c8c8"/><circle cx="731.5" cy="333.0" r="1.6" fill="#c1c1c1"/><circle cx="737.4" cy="333.6" r="1.9" fill="#d3d3d3"/><circle cx="742.3" cy="333.2" r="2.0" fill="#c4c4c4"/><circle cx="751.2" cy="331.2" r="1.7" fill="#c7c7c7"/><circle cx="756.6" cy="333.8" r="1.8" fill="#c7c7c7"/><circle cx="766.7" cy="331.0" r="1.4" fill="#c8c8c8"/><circle cx="769.9" cy="330.1" r="2.0" fill="#c1c1c1"/><circle cx="777.0" cy="330.0" r="1.9" fill="#d2d2d2"/><circle cx="391.0" cy="342.8" r="1.9" fill="#d1d1d1"/><circle cx="401.8" cy="342.4" r="1.6" fill="#c2c2c2"/><circle cx="407.8" cy="339.4" r="1.6" fill="#c7c7c7"/><circle cx="413.2" cy="336.4" r="1.6" fill="#c6c6c6"/><circle cx="424.5" cy="340.1" r="1.4" fill="#cccccc"/><circle cx="428.2" cy="336.6" r="1.9" fill="#c2c2c2"/><circle cx="433.6" cy="340.1" r="1.9" fill="#d0d0d0"/><circle cx="441.2" cy="339.5" r="1.5" fill="#c6c6c6"/><circle cx="447.3" cy="337.3" r="1.8" fill="#cbcbcb"/><circle cx="457.0" cy="338.5" r="1.9" fill="#c4c4c4"/><circle cx="461.7" cy="342.5" r="1.7" fill="#c3c3c3"/><circle cx="469.6" cy="339.2" r="1.4" fill="#cacaca"/><circle cx="478.2" cy="338.4" r="1.7" fill="#c0c0c0"/><circle cx="481.7" cy="337.4" r="1.9" fill="#d2d2d2"/><circle cx="491.4" cy="340.0" r="1.6" fill="#c8c8c8"/><circle cx="498.0" cy="342.6" r="1.9" fill="#d3d3d3"/><circle cx="508.7" cy="337.8" r="1.4" fill="#c6c6c6"/><circle cx="516.0" cy="338.6" r="1.4" fill="#c1c1c1"/><circle cx="519.9" cy="342.1" r="1.7" fill="#c2c2c2"/><circle cx="529.0" cy="340.5" r="2.0" fill="#c2c2c2"/><circle cx="531.8" cy="340.0" r="1.8" fill="#d0d0d0"/><circle cx="539.8" cy="339.1" r="1.5" fill="#c7c7c7"/><circle cx="550.9" cy="337.6" r="1.4" fill="#c8c8c8"/><circle cx="557.6" cy="336.4" r="1.7" fill="#c0c0c0"/><circle cx="563.9" cy="336.3" r="1.9" fill="#d4d4d4"/><circle cx="570.3" cy="339.4" r="1.5" fill="#cacaca"/><circle cx="577.3" cy="342.6" r="1.8" fill="#c9c9c9"/><circle cx="583.1" cy="339.1" r="1.8" fill="#cfcfcf"/><circle cx="588.3" cy="337.8" r="1.5" fill="#cfcfcf"/><circle cx="595.7" cy="339.1" r="1.9" fill="#c0c0c0"/><circle cx="603.3" cy="342.4" r="1.9" fill="#c5c5c5"/><circle cx="613.5" cy="337.5" r="2.0" fill="#cbcbcb"/><circle cx="620.2" cy="337.0" r="1.7" fill="#c3c3c3"/><circle cx="627.5" cy="338.7" r="1.4" fill="#c2c2c2"/><circle cx="631.2" cy="338.4" r="1.9" fill="#cfcfcf"/><circle cx="635.8" cy="338.6" r="1.6" fill="#c1c1c1"/><circle cx="643.3" cy="339.2" r="1.9" fill="#cecece"/><circle cx="655.1" cy="337.9" r="1.6" fill="#c4c4c4"/><circle cx="656.2" cy="340.0" r="1.6" fill="#c5c5c5"/><circle cx="664.8" cy="336.8" r="1.7" fill="#cfcfcf"/><circle cx="670.8" cy="342.9" r="1.4" fill="#c6c6c6"/><circle cx="680.9" cy="341.8" r="1.5" fill="#c6c6c6"/><circle cx="690.8" cy="339.0" r="1.6" fill="#c7c7c7"/><circle cx="697.5" cy="336.7" r="1.6" fill="#c5c5c5"/><circle cx="698.4" cy="341.1" r="1.6" fill="#d4d4d4"/><circle cx="705.1" cy="341.6" r="1.6" fill="#c4c4c4"/><circle cx="715.1" cy="341.5" r="2.0" fill="#c9c9c9"/><circle cx="720.3" cy="339.0" r="1.9" fill="#c6c6c6"/><circle cx="727.9" cy="337.3" r="1.9" fill="#d0d0d0"/><circle cx="738.4" cy="341.0" r="1.5" fill="#c2c2c2"/><circle cx="745.8" cy="342.2" r="1.8" fill="#c8c8c8"/><circle cx="748.2" cy="337.0" r="1.8" fill="#d4d4d4"/><circle cx="759.7" cy="340.1" r="1.5" fill="#c2c2c2"/><circle cx="765.8" cy="339.6" r="1.9" fill="#c1c1c1"/><circle cx="771.6" cy="338.4" r="1.6" fill="#d4d4d4"/><circle cx="781.1" cy="339.5" r="1.4" fill="#cfcfcf"/><circle cx="390.9" cy="347.7" r="1.5" fill="#d2d2d2"/><circle cx="402.8" cy="345.6" r="1.5" fill="#cbcbcb"/><circle cx="408.0" cy="349.0" r="1.6" fill="#cecece"/><circle cx="417.8" cy="343.5" r="1.6" fill="#c7c7c7"/><circle cx="423.7" cy="349.1" r="1.6" fill="#cccccc"/><circle cx="429.0" cy="349.3" r="1.6" fill="#c3c3c3"/><circle cx="438.7" cy="346.5" r="1.7" fill="#d0d0d0"/><circle cx="444.6" cy="343.9" r="1.5" fill="#c2c2c2"/><circle cx="447.6" cy="344.3" r="1.5" fill="#c8c8c8"/><circle cx="456.9" cy="349.7" r="1.4" fill="#c6c6c6"/><circle cx="461.8" cy="348.9" r="1.8" fill="#cecece"/><circle cx="470.7" cy="347.9" r="1.5" fill="#c3c3c3"/><circle cx="479.0" cy="343.3" r="1.5" fill="#cfcfcf"/><circle cx="485.1" cy="348.3" r="1.5" fill="#c3c3c3"/><circle cx="490.8" cy="344.0" r="1.8" fill="#c7c7c7"/><circle cx="496.0" cy="347.0" r="1.8" fill="#c5c5c5"/><circle cx="508.6" cy="343.1" r="1.8" fill="#cdcdcd"/><circle cx="513.2" cy="347.2" r="1.4" fill="#c1c1c1"/><circle cx="521.4" cy="345.4" r="1.5" fill="#cacaca"/><circle cx="528.0" cy="348.9" r="1.7" fill="#cacaca"/><circle cx="535.7" cy="348.9" r="1.4" fill="#d0d0d0"/><circle cx="538.0" cy="347.8" r="1.6" fill="#cdcdcd"/><circle cx="548.6" cy="343.1" r="1.5" fill="#c5c5c5"/><circle cx="551.5" cy="346.0" r="1.7" fill="#c0c0c0"/><circle cx="559.6" cy="345.9" r="1.6" fill="#cecece"/><circle cx="569.4" cy="348.7" r="1.9" fill="#c1c1c1"/><circle cx="572.2" cy="347.5" r="1.6" fill="#d3d3d3"/><circle cx="580.9" cy="346.8" r="2.0" fill="#d3d3d3"/><circle cx="586.7" cy="343.9" r="1.4" fill="#c7c7c7"/><circle cx="599.7" cy="345.0" r="1.6" fill="#d4d4d4"/><circle cx="601.2" cy="343.4" r="2.0" fill="#d0d0d0"/><circle cx="613.3" cy="343.6" r="1.8" fill="#c4c4c4"/><circle cx="617.1" cy="346.6" r="1.9" fill="#cdcdcd"/><circle cx="625.0" cy="344.9" r="1.8" fill="#d1d1d1"/><circle cx="630.0" cy="346.2" r="1.8" fill="#c7c7c7"/><circle cx="639.6" cy="344.4" r="1.8" fill="#cecece"/><circle cx="648.2" cy="345.1" r="1.7" fill="#c9c9c9"/><circle cx="649.2" cy="345.3" r="1.5" fill="#d1d1d1"/><circle cx="658.7" cy="347.1" r="1.4" fill="#cbcbcb"/><circle cx="664.1" cy="349.7" r="1.6" fill="#cacaca"/><circle cx="673.4" cy="345.0" r="2.0" fill="#c9c9c9"/><circle cx="677.4" cy="343.2" r="1.7" fill="#d3d3d3"/><circle cx="690.1" cy="346.1" r="1.4" fill="#cccccc"/><circle cx="696.8" cy="345.5" r="1.9" fill="#d0d0d0"/><circle cx="699.6" cy="349.7" r="1.8" fill="#c4c4c4"/><circle cx="707.9" cy="347.7" r="1.5" fill="#c6c6c6"/><circle cx="716.3" cy="348.9" r="1.9" fill="#d0d0d0"/><circle cx="719.7" cy="349.0" r="2.0" fill="#cfcfcf"/><circle cx="727.9" cy="347.4" r="1.8" fill="#c4c4c4"/><circle cx="735.9" cy="343.7" r="1.6" fill="#d1d1d1"/><circle cx="744.1" cy="346.5" r="2.0" fill="#d2d2d2"/><circle cx="748.0" cy="348.9" r="1.6" fill="#d3d3d3"/><circle cx="758.3" cy="345.7" r="1.7" fill="#cecece"/><circle cx="763.0" cy="345.5" r="1.6" fill="#d0d0d0"/><circle cx="771.9" cy="345.7" r="1.6" fill="#cfcfcf"/><circle cx="777.7" cy="345.1" r="1.7" fill="#c4c4c4"/><circle cx="393.0" cy="352.6" r="1.5" fill="#cacaca"/><circle cx="399.3" cy="355.9" r="1.9" fill="#cacaca"/><circle cx="405.4" cy="353.0" r="1.9" fill="#c0c0c0"/><circle cx="411.2" cy="351.8" r="1.9" fill="#c9c9c9"/><circle cx="424.4" cy="355.4" r="1.7" fill="#cdcdcd"/><circle cx="428.6" cy="353.6" r="1.8" fill="#cccccc"/><circle cx="435.2" cy="350.3" r="1.8" fill="#cecece"/><circle cx="445.6" cy="354.7" r="1.7" fill="#c3c3c3"/><circle cx="448.9" cy="353.5" r="1.8" fill="#d2d2d2"/><circle cx="454.1" cy="351.3" r="1.7" fill="#cccccc"/><circle cx="463.1" cy="354.4" r="2.0" fill="#cacaca"/><circle cx="471.8" cy="355.2" r="1.5" fill="#cbcbcb"/><circle cx="476.2" cy="356.8" r="1.9" fill="#d0d0d0"/><circle cx="482.2" cy="354.6" r="1.6" fill="#cacaca"/><circle cx="493.7" cy="356.9" r="1.9" fill="#cdcdcd"/><circle cx="499.4" cy="353.7" r="1.9" fill="#c6c6c6"/><circle cx="505.5" cy="351.3" r="1.5" fill="#d4d4d4"/><circle cx="513.0" cy="350.7" r="1.7" fill="#d4d4d4"/><circle cx="520.5" cy="350.3" r="1.6" fill="#c0c0c0"/><circle cx="525.1" cy="354.8" r="1.4" fill="#c9c9c9"/><circle cx="532.8" cy="350.7" r="1.4" fill="#c0c0c0"/><circle cx="538.4" cy="353.5" r="1.7" fill="#c8c8c8"/><circle cx="550.1" cy="356.3" r="1.7" fill="#c4c4c4"/><circle cx="555.0" cy="352.9" r="1.5" fill="#c5c5c5"/><circle cx="561.6" cy="353.6" r="1.4" fill="#c2c2c2"/><circle cx="566.2" cy="353.7" r="1.9" fill="#d3d3d3"/><circle cx="575.0" cy="355.6" r="1.8" fill="#d2d2d2"/><circle cx="581.3" cy="355.0" r="1.6" fill="#c5c5c5"/><circle cx="586.2" cy="354.4" r="1.9" fill="#d2d2d2"/><circle cx="593.4" cy="351.3" r="1.8" fill="#c0c0c0"/><circle cx="600.4" cy="356.2" r="1.7" fill="#c1c1c1"/><circle cx="610.1" cy="354.3" r="1.5" fill="#c1c1c1"/><circle cx="615.1" cy="354.1" r="1.5" fill="#c0c0c0"/><circle cx="627.3" cy="355.7" r="1.6" fill="#d3d3d3"/><circle cx="629.8" cy="356.2" r="2.0" fill="#c2c2c2"/><circle cx="636.7" cy="352.7" r="1.8" fill="#c7c7c7"/><circle cx="644.9" cy="352.8" r="1.8" fill="#c0c0c0"/><circle cx="654.5" cy="351.7" r="1.5" fill="#cbcbcb"/><circle cx="658.7" cy="350.1" r="1.9" fill="#cccccc"/><circle cx="666.9" cy="350.8" r="1.7" fill="#cccccc"/><circle cx="672.4" cy="354.6" r="2.0" fill="#cdcdcd"/><circle cx="682.8" cy="352.5" r="1.5" fill="#c6c6c6"/><circle cx="687.3" cy="352.4" r="1.7" fill="#c8c8c8"/><circle cx="695.6" cy="352.4" r="1.5" fill="#c4c4c4"/><circle cx="698.6" cy="351.9" r="1.9" fill="#c4c4c4"/><circle cx="708.9" cy="353.3" r="1.9" fill="#c7c7c7"/><circle cx="713.1" cy="352.5" r="1.8" fill="#cccccc"/><circle cx="723.4" cy="354.1" r="1.6" fill="#cfcfcf"/><circle cx="729.5" cy="351.6" r="1.7" fill="#c4c4c4"/><circle cx="739.6" cy="357.0" r="1.8" fill="#cecece"/><circle cx="744.1" cy="352.6" r="1.5" fill="#d3d3d3"/><circle cx="750.6" cy="350.9" r="1.9" fill="#d0d0d0"/><circle cx="754.6" cy="356.0" r="1.8" fill="#cccccc"/><circle cx="761.2" cy="355.0" r="1.5" fill="#c0c0c0"/><circle cx="770.7" cy="350.6" r="1.5" fill="#c7c7c7"/><circle cx="777.2" cy="354.6" r="1.5" fill="#d1d1d1"/><circle cx="396.4" cy="362.6" r="1.9" fill="#c6c6c6"/><circle cx="397.5" cy="359.2" r="1.5" fill="#c4c4c4"/><circle cx="409.7" cy="359.8" r="1.6" fill="#cecece"/><circle cx="416.4" cy="363.2" r="1.9" fill="#c4c4c4"/><circle cx="424.6" cy="358.2" r="1.6" fill="#cbcbcb"/><circle cx="431.3" cy="357.2" r="1.8" fill="#cecece"/><circle cx="433.7" cy="362.9" r="1.6" fill="#d4d4d4"/><circle cx="439.7" cy="359.0" r="1.6" fill="#d3d3d3"/><circle cx="451.1" cy="362.0" r="1.4" fill="#c1c1c1"/><circle cx="457.3" cy="360.0" r="1.9" fill="#c4c4c4"/><circle cx="462.7" cy="357.3" r="1.6" fill="#d4d4d4"/><circle cx="473.6" cy="361.0" r="1.5" fill="#cfcfcf"/><circle cx="479.0" cy="358.8" r="1.7" fill="#d2d2d2"/><circle cx="483.4" cy="357.0" r="1.9" fill="#d4d4d4"/><circle cx="490.0" cy="357.3" r="1.9" fill="#d3d3d3"/><circle cx="499.9" cy="363.8" r="1.8" fill="#c1c1c1"/><circle cx="507.5" cy="358.5" r="1.9" fill="#c2c2c2"/><circle cx="511.9" cy="362.2" r="2.0" fill="#d3d3d3"/><circle cx="521.8" cy="359.0" r="1.5" fill="#cdcdcd"/><circle cx="526.1" cy="359.4" r="1.7" fill="#d4d4d4"/><circle cx="534.4" cy="360.6" r="1.8" fill="#c6c6c6"/><circle cx="540.0" cy="360.6" r="2.0" fill="#c4c4c4"/><circle cx="547.4" cy="358.3" r="2.0" fill="#d1d1d1"/><circle cx="552.8" cy="360.8" r="2.0" fill="#d4d4d4"/><circle cx="559.7" cy="358.8" r="2.0" fill="#c5c5c5"/><circle cx="567.5" cy="359.9" r="1.5" fill="#c9c9c9"/><circle cx="573.0" cy="361.8" r="1.7" fill="#cfcfcf"/><circle cx="580.7" cy="358.7" r="1.7" fill="#cecece"/><circle cx="586.9" cy="361.5" r="1.8" fill="#c4c4c4"/><circle cx="599.2" cy="358.0" r="1.7" fill="#cacaca"/><circle cx="604.4" cy="357.8" r="1.7" fill="#c5c5c5"/><circle cx="611.7" cy="358.1" r="2.0" fill="#cccccc"/><circle cx="619.8" cy="357.8" r="1.6" fill="#cbcbcb"/><circle cx="624.4" cy="357.3" r="1.9" fill="#c9c9c9"/><circle cx="629.4" cy="361.9" r="1.7" fill="#c3c3c3"/><circle cx="636.1" cy="360.1" r="1.7" fill="#c9c9c9"/><circle cx="643.2" cy="357.5" r="1.4" fill="#cfcfcf"/><circle cx="649.6" cy="362.0" r="2.0" fill="#d2d2d2"/><circle cx="657.9" cy="361.5" r="2.0" fill="#cfcfcf"/><circle cx="664.3" cy="360.8" r="1.4" fill="#c2c2c2"/><circle cx="674.5" cy="361.4" r="2.0" fill="#d4d4d4"/><circle cx="681.9" cy="361.6" r="1.4" fill="#c0c0c0"/><circle cx="684.2" cy="359.8" r="1.5" fill="#cbcbcb"/><circle cx="692.3" cy="361.5" r="1.9" fill="#c5c5c5"/><circle cx="698.7" cy="362.0" r="1.6" fill="#d3d3d3"/><circle cx="707.3" cy="358.3" r="1.9" fill="#cacaca"/><circle cx="713.6" cy="358.0" r="2.0" fill="#c8c8c8"/><circle cx="720.7" cy="357.3" r="1.7" fill="#d4d4d4"/><circle cx="732.4" cy="364.0" r="1.6" fill="#c1c1c1"/><circle cx="739.6" cy="360.5" r="1.7" fill="#c5c5c5"/><circle cx="747.0" cy="361.2" r="1.8" fill="#c4c4c4"/><circle cx="751.8" cy="358.1" r="1.7" fill="#cccccc"/><circle cx="754.6" cy="357.3" r="1.7" fill="#c6c6c6"/><circle cx="762.5" cy="359.6" r="1.4" fill="#d3d3d3"/><circle cx="774.0" cy="362.5" r="1.7" fill="#c9c9c9"/><circle cx="775.5" cy="357.4" r="1.8" fill="#cacaca"/><circle cx="390.4" cy="364.1" r="2.0" fill="#c5c5c5"/><circle cx="403.3" cy="365.2" r="1.6" fill="#cecece"/><circle cx="409.6" cy="368.7" r="1.7" fill="#cfcfcf"/><circle cx="411.6" cy="366.3" r="1.7" fill="#d1d1d1"/><circle cx="424.4" cy="370.1" r="2.0" fill="#d3d3d3"/><circle cx="429.3" cy="369.7" r="1.4" fill="#cacaca"/><circle cx="436.3" cy="366.1" r="1.7" fill="#cbcbcb"/><circle cx="442.4" cy="368.5" r="1.6" fill="#cacaca"/><circle cx="449.7" cy="368.4" r="1.9" fill="#c7c7c7"/><circle cx="457.8" cy="367.1" r="1.5" fill="#d2d2d2"/><circle cx="462.6" cy="368.1" r="1.6" fill="#d0d0d0"/><circle cx="468.7" cy="367.1" r="1.6" fill="#c7c7c7"/><circle cx="475.3" cy="370.2" r="1.7" fill="#c3c3c3"/><circle cx="482.5" cy="369.9" r="1.8" fill="#c6c6c6"/><circle cx="491.7" cy="365.8" r="1.7" fill="#d1d1d1"/><circle cx="498.2" cy="367.8" r="1.8" fill="#d0d0d0"/><circle cx="508.4" cy="368.0" r="1.9" fill="#c2c2c2"/><circle cx="514.6" cy="364.9" r="1.7" fill="#d0d0d0"/><circle cx="521.0" cy="369.3" r="1.5" fill="#d0d0d0"/><circle cx="523.7" cy="369.8" r="1.6" fill="#c5c5c5"/><circle cx="536.8" cy="365.3" r="1.7" fill="#c2c2c2"/><circle cx="538.0" cy="369.4" r="1.4" fill="#c7c7c7"/><circle cx="544.3" cy="364.3" r="1.8" fill="#c6c6c6"/><circle cx="554.2" cy="364.8" r="1.5" fill="#c2c2c2"/><circle cx="562.3" cy="370.1" r="1.7" fill="#cbcbcb"/><circle cx="566.2" cy="369.2" r="1.6" fill="#c0c0c0"/><circle cx="577.8" cy="364.9" r="1.6" fill="#d0d0d0"/><circle cx="585.6" cy="369.1" r="1.4" fill="#d3d3d3"/><circle cx="588.5" cy="366.5" r="1.6" fill="#d3d3d3"/><circle cx="593.8" cy="370.5" r="1.8" fill="#c8c8c8"/><circle cx="602.5" cy="368.9" r="1.4" fill="#d2d2d2"/><circle cx="610.1" cy="369.5" r="1.7" fill="#c2c2c2"/><circle cx="619.6" cy="365.3" r="1.7" fill="#c9c9c9"/><circle cx="627.1" cy="368.7" r="1.9" fill="#d2d2d2"/><circle cx="634.1" cy="367.8" r="1.8" fill="#c8c8c8"/><circle cx="641.6" cy="364.1" r="1.6" fill="#c4c4c4"/><circle cx="645.4" cy="367.4" r="1.4" fill="#c1c1c1"/><circle cx="649.5" cy="368.3" r="1.8" fill="#d3d3d3"/><circle cx="658.7" cy="367.3" r="1.5" fill="#cecece"/><circle cx="665.8" cy="370.1" r="1.8" fill="#c2c2c2"/><circle cx="672.5" cy="367.7" r="1.6" fill="#c4c4c4"/><circle cx="681.1" cy="364.3" r="1.5" fill="#cbcbcb"/><circle cx="689.1" cy="366.3" r="1.7" fill="#cbcbcb"/><circle cx="693.2" cy="366.3" r="1.7" fill="#c7c7c7"/><circle cx="698.1" cy="367.2" r="2.0" fill="#c1c1c1"/><circle cx="709.4" cy="369.1" r="1.5" fill="#cccccc"/><circle cx="713.9" cy="367.5" r="1.6" fill="#d2d2d2"/><circle cx="723.0" cy="368.1" r="1.5" fill="#c1c1c1"/><circle cx="732.4" cy="370.3" r="1.5" fill="#c6c6c6"/><circle cx="738.4" cy="368.4" r="1.8" fill="#cbcbcb"/><circle cx="745.5" cy="369.6" r="1.5" fill="#c4c4c4"/><circle cx="751.8" cy="366.1" r="1.9" fill="#cbcbcb"/><circle cx="757.6" cy="368.4" r="1.6" fill="#d1d1d1"/><circle cx="766.0" cy="366.3" r="1.8" fill="#cacaca"/><circle cx="774.2" cy="369.5" r="1.7" fill="#c7c7c7"/><circle cx="780.7" cy="371.0" r="1.5" fill="#c6c6c6"/><circle cx="390.1" cy="377.1" r="1.7" fill="#cecece"/><circle cx="399.8" cy="376.4" r="2.0" fill="#d2d2d2"/><circle cx="404.5" cy="373.1" r="1.6" fill="#d2d2d2"/><circle cx="414.9" cy="377.6" r="1.6" fill="#c6c6c6"/><circle cx="422.1" cy="371.6" r="1.5" fill="#d2d2d2"/><circle cx="427.5" cy="374.3" r="2.0" fill="#cdcdcd"/><circle cx="437.0" cy="377.5" r="1.9" fill="#cacaca"/><circle cx="445.3" cy="372.9" r="1.6" fill="#c0c0c0"/><circle cx="451.3" cy="375.4" r="1.5" fill="#c0c0c0"/><circle cx="454.5" cy="373.8" r="1.5" fill="#d3d3d3"/><circle cx="462.0" cy="374.5" r="1.5" fill="#c7c7c7"/><circle cx="472.1" cy="377.7" r="1.8" fill="#c2c2c2"/><circle cx="474.5" cy="376.7" r="1.7" fill="#c4c4c4"/><circle cx="481.0" cy="372.9" r="1.8" fill="#c0c0c0"/><circle cx="492.5" cy="377.5" r="1.5" fill="#cacaca"/><circle cx="501.1" cy="371.2" r="1.7" fill="#d3d3d3"/><circle cx="506.8" cy="373.4" r="1.4" fill="#cdcdcd"/><circle cx="514.6" cy="371.6" r="1.8" fill="#cfcfcf"/><circle cx="522.9" cy="373.8" r="2.0" fill="#c0c0c0"/><circle cx="523.2" cy="373.2" r="1.8" fill="#cacaca"/><circle cx="530.4" cy="375.3" r="1.8" fill="#cacaca"/><circle cx="538.1" cy="371.1" r="1.5" fill="#d0d0d0"/><circle cx="549.4" cy="371.6" r="1.9" fill="#cdcdcd"/><circle cx="553.4" cy="375.8" r="1.9" fill="#c4c4c4"/><circle cx="562.6" cy="375.2" r="1.6" fill="#d3d3d3"/><circle cx="566.8" cy="376.0" r="1.9" fill="#d4d4d4"/><circle cx="574.2" cy="376.4" r="2.0" fill="#cecece"/><circle cx="582.9" cy="373.5" r="1.7" fill="#c8c8c8"/><circle cx="586.9" cy="371.1" r="1.7" fill="#d4d4d4"/><circle cx="598.7" cy="377.8" r="1.5" fill="#d4d4d4"/><circle cx="601.6" cy="376.3" r="1.5" fill="#c0c0c0"/><circle cx="611.4" cy="371.9" r="1.7" fill="#c6c6c6"/><circle cx="617.9" cy="372.3" r="2.0" fill="#cbcbcb"/><circle cx="626.2" cy="377.3" r="1.9" fill="#c5c5c5"/><circle cx="631.7" cy="373.5" r="1.8" fill="#cecece"/><circle cx="641.9" cy="374.5" r="1.8" fill="#cbcbcb"/><circle cx="648.3" cy="373.7" r="1.5" fill="#c0c0c0"/><circle cx="649.8" cy="376.1" r="1.4" fill="#d4d4d4"/><circle cx="662.4" cy="375.7" r="1.6" fill="#c7c7c7"/><circle cx="666.9" cy="373.9" r="2.0" fill="#d4d4d4"/><circle cx="676.0" cy="371.2" r="1.4" fill="#cdcdcd"/><circle cx="678.7" cy="373.5" r="1.6" fill="#cdcdcd"/><circle cx="688.5" cy="373.1" r="2.0" fill="#c6c6c6"/><circle cx="697.9" cy="376.5" r="1.7" fill="#c8c8c8"/><circle cx="704.7" cy="372.0" r="1.6" fill="#c2c2c2"/><circle cx="707.3" cy="374.4" r="1.9" fill="#c5c5c5"/><circle cx="714.2" cy="375.3" r="2.0" fill="#c6c6c6"/><circle cx="723.1" cy="377.2" r="1.5" fill="#cbcbcb"/><circle cx="726.3" cy="376.4" r="1.7" fill="#cdcdcd"/><circle cx="739.0" cy="378.0" r="1.6" fill="#c0c0c0"/><circle cx="745.6" cy="372.1" r="1.9" fill="#c4c4c4"/><circle cx="753.4" cy="372.1" r="1.8" fill="#c3c3c3"/><circle cx="759.3" cy="374.3" r="1.6" fill="#cdcdcd"/><circle cx="763.4" cy="377.4" r="1.8" fill="#cacaca"/><circle cx="774.9" cy="371.2" r="1.5" fill="#d4d4d4"/><circle cx="779.8" cy="371.3" r="1.7" fill="#c7c7c7"/><circle cx="394.0" cy="382.9" r="1.8" fill="#c1c1c1"/><circle cx="403.9" cy="380.2" r="1.9" fill="#c3c3c3"/><circle cx="410.7" cy="384.8" r="1.7" fill="#c0c0c0"/><circle cx="412.3" cy="382.8" r="1.5" fill="#d1d1d1"/><circle cx="421.5" cy="378.8" r="1.6" fill="#cfcfcf"/><circle cx="431.7" cy="378.5" r="2.0" fill="#c7c7c7"/><circle cx="437.1" cy="379.9" r="1.5" fill="#c8c8c8"/><circle cx="440.9" cy="384.8" r="1.5" fill="#c1c1c1"/><circle cx="448.9" cy="381.9" r="1.6" fill="#c0c0c0"/><circle cx="455.3" cy="378.3" r="1.7" fill="#c9c9c9"/><circle cx="463.8" cy="382.8" r="2.0" fill="#c8c8c8"/><circle cx="469.8" cy="380.2" r="1.7" fill="#c4c4c4"/><circle cx="476.7" cy="380.7" r="1.6" fill="#c4c4c4"/><circle cx="487.3" cy="382.4" r="1.5" fill="#d0d0d0"/><circle cx="494.5" cy="379.8" r="1.8" fill="#cccccc"/><circle cx="501.9" cy="383.8" r="1.8" fill="#c2c2c2"/><circle cx="507.9" cy="383.5" r="1.9" fill="#c1c1c1"/><circle cx="511.8" cy="381.9" r="1.8" fill="#cecece"/><circle cx="519.8" cy="380.2" r="2.0" fill="#c0c0c0"/><circle cx="526.3" cy="382.5" r="1.7" fill="#cacaca"/><circle cx="534.1" cy="385.0" r="1.5" fill="#d4d4d4"/><circle cx="542.5" cy="384.1" r="1.6" fill="#c2c2c2"/><circle cx="546.8" cy="381.7" r="1.8" fill="#cacaca"/><circle cx="551.5" cy="383.6" r="1.8" fill="#d3d3d3"/><circle cx="563.4" cy="379.8" r="1.9" fill="#cbcbcb"/><circle cx="568.7" cy="381.3" r="1.5" fill="#c4c4c4"/><circle cx="572.5" cy="383.3" r="1.6" fill="#c6c6c6"/><circle cx="582.7" cy="383.7" r="1.5" fill="#c5c5c5"/><circle cx="587.1" cy="382.6" r="1.5" fill="#d4d4d4"/><circle cx="599.1" cy="378.3" r="1.6" fill="#cdcdcd"/><circle cx="600.9" cy="379.1" r="1.6" fill="#c3c3c3"/><circle cx="609.6" cy="382.6" r="1.7" fill="#c9c9c9"/><circle cx="617.2" cy="378.6" r="1.6" fill="#cecece"/><circle cx="625.9" cy="381.1" r="1.7" fill="#c5c5c5"/><circle cx="633.3" cy="379.0" r="1.8" fill="#cbcbcb"/><circle cx="638.4" cy="382.6" r="1.8" fill="#d0d0d0"/><circle cx="644.4" cy="380.7" r="1.4" fill="#c6c6c6"/><circle cx="649.0" cy="379.8" r="1.8" fill="#c9c9c9"/><circle cx="661.0" cy="379.9" r="1.6" fill="#c7c7c7"/><circle cx="664.9" cy="381.1" r="1.7" fill="#cfcfcf"/><circle cx="676.0" cy="379.4" r="1.7" fill="#c9c9c9"/><circle cx="681.3" cy="380.6" r="1.4" fill="#cecece"/><circle cx="686.6" cy="378.3" r="1.9" fill="#cdcdcd"/><circle cx="694.0" cy="382.3" r="1.6" fill="#c7c7c7"/><circle cx="700.7" cy="382.1" r="2.0" fill="#c6c6c6"/><circle cx="711.8" cy="384.0" r="1.7" fill="#c2c2c2"/><circle cx="716.7" cy="380.3" r="1.4" fill="#cecece"/><circle cx="721.7" cy="381.7" r="1.7" fill="#d4d4d4"/><circle cx="731.3" cy="378.2" r="1.8" fill="#cecece"/><circle cx="739.5" cy="382.9" r="1.7" fill="#cfcfcf"/><circle cx="741.2" cy="378.5" r="1.6" fill="#c4c4c4"/><circle cx="750.6" cy="383.8" r="1.8" fill="#c6c6c6"/><circle cx="756.8" cy="378.3" r="1.8" fill="#d1d1d1"/><circle cx="763.3" cy="380.7" r="1.7" fill="#c2c2c2"/><circle cx="769.5" cy="378.5" r="1.9" fill="#c3c3c3"/><circle cx="778.5" cy="383.9" r="1.5" fill="#cecece"/><circle cx="390.4" cy="389.8" r="1.8" fill="#cfcfcf"/><circle cx="403.0" cy="388.9" r="1.8" fill="#d2d2d2"/><circle cx="405.0" cy="387.8" r="1.4" fill="#d4d4d4"/><circle cx="412.0" cy="387.3" r="1.7" fill="#c0c0c0"/><circle cx="419.3" cy="388.8" r="1.7" fill="#c2c2c2"/><circle cx="427.2" cy="386.8" r="1.9" fill="#d1d1d1"/><circle cx="434.8" cy="391.2" r="1.8" fill="#c9c9c9"/><circle cx="441.1" cy="391.1" r="1.9" fill="#d1d1d1"/><circle cx="447.8" cy="386.4" r="1.4" fill="#d1d1d1"/><circle cx="457.6" cy="391.5" r="1.8" fill="#d2d2d2"/><circle cx="461.0" cy="391.5" r="1.6" fill="#cecece"/><circle cx="473.4" cy="388.9" r="1.4" fill="#cacaca"/><circle cx="474.1" cy="385.5" r="2.0" fill="#cacaca"/><circle cx="481.2" cy="386.5" r="1.7" fill="#c6c6c6"/><circle cx="493.0" cy="390.6" r="1.8" fill="#cecece"/><circle cx="497.8" cy="390.1" r="1.5" fill="#c6c6c6"/><circle cx="502.4" cy="388.0" r="1.8" fill="#c1c1c1"/><circle cx="510.0" cy="391.2" r="1.9" fill="#cfcfcf"/><circle cx="517.3" cy="391.5" r="1.7" fill="#c5c5c5"/><circle cx="526.5" cy="389.7" r="1.8" fill="#c9c9c9"/><circle cx="535.6" cy="388.7" r="1.5" fill="#c6c6c6"/><circle cx="540.6" cy="388.3" r="1.5" fill="#c2c2c2"/><circle cx="550.7" cy="387.9" r="1.8" fill="#c8c8c8"/><circle cx="555.9" cy="388.1" r="1.7" fill="#c1c1c1"/><circle cx="564.5" cy="385.9" r="1.5" fill="#cecece"/><circle cx="567.1" cy="386.6" r="1.7" fill="#cacaca"/><circle cx="576.9" cy="390.0" r="1.6" fill="#c8c8c8"/><circle cx="581.3" cy="390.9" r="1.5" fill="#c7c7c7"/><circle cx="588.7" cy="385.2" r="1.6" fill="#d4d4d4"/><circle cx="595.0" cy="389.6" r="1.8" fill="#c6c6c6"/><circle cx="603.3" cy="390.1" r="1.7" fill="#cccccc"/><circle cx="607.8" cy="390.8" r="1.5" fill="#c6c6c6"/><circle cx="621.0" cy="391.6" r="1.7" fill="#c9c9c9"/><circle cx="624.4" cy="385.1" r="1.9" fill="#c2c2c2"/><circle cx="629.4" cy="387.0" r="1.6" fill="#d2d2d2"/><circle cx="638.8" cy="385.6" r="1.5" fill="#c8c8c8"/><circle cx="647.4" cy="390.4" r="1.9" fill="#d2d2d2"/><circle cx="655.5" cy="385.2" r="1.8" fill="#c0c0c0"/><circle cx="658.4" cy="391.6" r="1.8" fill="#c1c1c1"/><circle cx="664.2" cy="387.5" r="1.7" fill="#cacaca"/><circle cx="675.2" cy="386.3" r="1.9" fill="#c9c9c9"/><circle cx="682.7" cy="390.1" r="1.7" fill="#d1d1d1"/><circle cx="684.8" cy="386.1" r="1.6" fill="#c1c1c1"/><circle cx="691.2" cy="388.6" r="1.5" fill="#d4d4d4"/><circle cx="702.9" cy="387.9" r="1.9" fill="#c2c2c2"/><circle cx="707.6" cy="389.6" r="1.5" fill="#c5c5c5"/><circle cx="716.6" cy="385.6" r="1.4" fill="#d4d4d4"/><circle cx="725.1" cy="388.4" r="1.5" fill="#c3c3c3"/><circle cx="726.7" cy="386.7" r="1.5" fill="#c8c8c8"/><circle cx="736.8" cy="385.8" r="1.7" fill="#c5c5c5"/><circle cx="744.0" cy="385.3" r="1.6" fill="#c6c6c6"/><circle cx="749.0" cy="388.9" r="2.0" fill="#c7c7c7"/><circle cx="759.1" cy="388.7" r="1.5" fill="#c3c3c3"/><circle cx="761.1" cy="391.6" r="1.7" fill="#d2d2d2"/><circle cx="769.5" cy="390.2" r="1.5" fill="#c5c5c5"/><circle cx="776.1" cy="386.8" r="1.4" fill="#cccccc"/><circle cx="394.4" cy="392.8" r="1.7" fill="#c3c3c3"/><circle cx="397.6" cy="396.0" r="1.5" fill="#d3d3d3"/><circle cx="409.4" cy="395.6" r="1.9" fill="#c7c7c7"/><circle cx="411.5" cy="394.4" r="1.5" fill="#c6c6c6"/><circle cx="422.3" cy="396.8" r="1.9" fill="#cacaca"/><circle cx="425.6" cy="397.3" r="1.8" fill="#c5c5c5"/><circle cx="432.1" cy="398.6" r="1.6" fill="#cdcdcd"/><circle cx="439.2" cy="397.5" r="1.5" fill="#d0d0d0"/><circle cx="450.8" cy="393.1" r="1.6" fill="#c4c4c4"/><circle cx="454.4" cy="398.5" r="1.8" fill="#c2c2c2"/><circle cx="467.0" cy="397.5" r="1.7" fill="#cfcfcf"/><circle cx="470.7" cy="394.3" r="1.4" fill="#d3d3d3"/><circle cx="478.5" cy="393.4" r="1.8" fill="#cbcbcb"/><circle cx="486.5" cy="392.6" r="1.8" fill="#cbcbcb"/><circle cx="492.1" cy="397.6" r="1.7" fill="#cfcfcf"/><circle cx="495.9" cy="397.8" r="2.0" fill="#c1c1c1"/><circle cx="507.2" cy="397.8" r="1.9" fill="#d2d2d2"/><circle cx="510.2" cy="394.7" r="1.8" fill="#d0d0d0"/><circle cx="518.1" cy="398.7" r="1.7" fill="#d4d4d4"/><circle cx="523.8" cy="398.8" r="1.9" fill="#c8c8c8"/><circle cx="535.3" cy="397.9" r="1.5" fill="#d2d2d2"/><circle cx="540.2" cy="393.7" r="1.7" fill="#c1c1c1"/><circle cx="546.7" cy="397.5" r="1.9" fill="#cacaca"/><circle cx="556.8" cy="394.8" r="1.5" fill="#d4d4d4"/><circle cx="562.7" cy="397.5" r="1.8" fill="#cdcdcd"/><circle cx="570.6" cy="392.0" r="1.7" fill="#c0c0c0"/><circle cx="578.7" cy="398.1" r="1.7" fill="#cdcdcd"/><circle cx="583.2" cy="395.2" r="1.6" fill="#c6c6c6"/><circle cx="586.6" cy="394.8" r="1.7" fill="#c1c1c1"/><circle cx="595.0" cy="392.6" r="1.6" fill="#cecece"/><circle cx="602.9" cy="395.8" r="1.5" fill="#c6c6c6"/><circle cx="611.8" cy="392.3" r="1.9" fill="#c5c5c5"/><circle cx="616.7" cy="394.3" r="1.5" fill="#c5c5c5"/><circle cx="622.6" cy="398.2" r="1.8" fill="#cccccc"/><circle cx="630.2" cy="394.2" r="1.9" fill="#d3d3d3"/><circle cx="636.3" cy="397.8" r="1.5" fill="#d0d0d0"/><circle cx="642.1" cy="398.0" r="1.5" fill="#c7c7c7"/><circle cx="652.2" cy="397.7" r="1.6" fill="#cbcbcb"/><circle cx="660.7" cy="398.9" r="1.8" fill="#d0d0d0"/><circle cx="667.7" cy="392.9" r="1.9" fill="#c8c8c8"/><circle cx="674.7" cy="392.5" r="1.8" fill="#cecece"/><circle cx="678.9" cy="394.1" r="1.6" fill="#d4d4d4"/><circle cx="688.8" cy="398.6" r="1.9" fill="#c1c1c1"/><circle cx="697.4" cy="395.5" r="1.6" fill="#c0c0c0"/><circle cx="698.4" cy="397.8" r="1.8" fill="#d1d1d1"/><circle cx="707.6" cy="394.2" r="1.7" fill="#c4c4c4"/><circle cx="717.1" cy="397.2" r="1.4" fill="#cacaca"/><circle cx="722.4" cy="392.0" r="2.0" fill="#c8c8c8"/><circle cx="727.0" cy="396.1" r="1.7" fill="#c1c1c1"/><circle cx="740.0" cy="393.2" r="1.8" fill="#c8c8c8"/><circle cx="744.4" cy="393.7" r="1.9" fill="#c0c0c0"/><circle cx="749.9" cy="398.8" r="1.8" fill="#d4d4d4"/><circle cx="756.7" cy="398.7" r="1.8" fill="#c8c8c8"/><circle cx="763.3" cy="397.8" r="1.7" fill="#c1c1c1"/><circle cx="773.6" cy="394.4" r="1.5" fill="#d0d0d0"/><circle cx="780.7" cy="392.4" r="1.6" fill="#d0d0d0"/><circle cx="391.2" cy="401.2" r="1.4" fill="#c9c9c9"/><circle cx="403.8" cy="404.4" r="1.6" fill="#c5c5c5"/><circle cx="405.9" cy="405.2" r="1.7" fill="#d3d3d3"/><circle cx="413.2" cy="402.1" r="1.5" fill="#c8c8c8"/><circle cx="420.5" cy="401.2" r="1.9" fill="#cfcfcf"/><circle cx="426.9" cy="400.4" r="1.9" fill="#cecece"/><circle cx="435.5" cy="401.9" r="1.5" fill="#cacaca"/><circle cx="439.3" cy="401.0" r="1.7" fill="#d1d1d1"/><circle cx="451.9" cy="401.9" r="1.4" fill="#cccccc"/><circle cx="455.5" cy="405.4" r="1.7" fill="#c9c9c9"/><circle cx="466.0" cy="399.8" r="1.7" fill="#c0c0c0"/><circle cx="467.3" cy="404.8" r="1.7" fill="#cbcbcb"/><circle cx="478.2" cy="401.5" r="2.0" fill="#c2c2c2"/><circle cx="487.1" cy="399.7" r="1.8" fill="#cdcdcd"/><circle cx="493.8" cy="404.0" r="2.0" fill="#c5c5c5"/><circle cx="499.5" cy="405.8" r="1.8" fill="#c3c3c3"/><circle cx="507.4" cy="401.8" r="2.0" fill="#cacaca"/><circle cx="511.8" cy="402.5" r="1.6" fill="#c5c5c5"/><circle cx="521.0" cy="400.0" r="1.8" fill="#cdcdcd"/><circle cx="527.7" cy="405.3" r="1.5" fill="#cacaca"/><circle cx="534.8" cy="405.5" r="1.4" fill="#c0c0c0"/><circle cx="543.0" cy="403.7" r="1.7" fill="#cccccc"/><circle cx="545.5" cy="404.1" r="1.9" fill="#c4c4c4"/><circle cx="552.1" cy="403.7" r="1.9" fill="#d0d0d0"/><circle cx="558.9" cy="401.0" r="1.4" fill="#d4d4d4"/><circle cx="567.7" cy="401.0" r="1.8" fill="#cccccc"/><circle cx="576.3" cy="400.9" r="1.4" fill="#d3d3d3"/><circle cx="583.2" cy="402.6" r="1.8" fill="#c7c7c7"/><circle cx="588.2" cy="401.5" r="1.7" fill="#c2c2c2"/><circle cx="595.5" cy="403.9" r="1.4" fill="#cacaca"/><circle cx="601.5" cy="402.2" r="1.9" fill="#cecece"/><circle cx="608.9" cy="399.4" r="1.7" fill="#d1d1d1"/><circle cx="618.2" cy="399.2" r="1.7" fill="#cecece"/><circle cx="621.8" cy="400.6" r="1.8" fill="#cacaca"/><circle cx="634.8" cy="402.7" r="1.5" fill="#d1d1d1"/><circle cx="640.6" cy="400.5" r="1.9" fill="#d2d2d2"/><circle cx="645.8" cy="399.2" r="1.9" fill="#c0c0c0"/><circle cx="654.7" cy="400.9" r="1.6" fill="#d4d4d4"/><circle cx="657.9" cy="399.6" r="1.5" fill="#cccccc"/><circle cx="666.6" cy="403.1" r="1.5" fill="#c1c1c1"/><circle cx="675.6" cy="405.7" r="1.6" fill="#c8c8c8"/><circle cx="677.5" cy="402.3" r="1.5" fill="#cecece"/><circle cx="690.8" cy="405.2" r="1.8" fill="#c6c6c6"/><circle cx="693.4" cy="400.3" r="1.6" fill="#c9c9c9"/><circle cx="703.3" cy="399.5" r="1.9" fill="#c0c0c0"/><circle cx="708.1" cy="400.4" r="1.8" fill="#c6c6c6"/><circle cx="717.4" cy="400.4" r="1.9" fill="#c9c9c9"/><circle cx="724.2" cy="405.6" r="2.0" fill="#d3d3d3"/><circle cx="731.0" cy="399.4" r="1.5" fill="#c0c0c0"/><circle cx="738.8" cy="403.5" r="1.8" fill="#d1d1d1"/><circle cx="741.8" cy="401.5" r="1.5" fill="#d4d4d4"/><circle cx="749.2" cy="401.5" r="1.5" fill="#c5c5c5"/><circle cx="758.8" cy="401.9" r="1.4" fill="#cecece"/><circle cx="766.4" cy="401.4" r="1.9" fill="#cbcbcb"/><circle cx="773.4" cy="402.3" r="2.0" fill="#cacaca"/><circle cx="780.6" cy="402.3" r="1.9" fill="#c4c4c4"/><circle cx="395.9" cy="409.7" r="1.6" fill="#cccccc"/><circle cx="398.5" cy="407.8" r="1.4" fill="#c6c6c6"/><circle cx="409.0" cy="412.6" r="2.0" fill="#cdcdcd"/><circle cx="416.4" cy="411.1" r="1.5" fill="#cdcdcd"/><circle cx="418.9" cy="406.1" r="1.5" fill="#d2d2d2"/><circle cx="428.7" cy="406.2" r="1.9" fill="#c2c2c2"/><circle cx="435.2" cy="406.3" r="1.9" fill="#d1d1d1"/><circle cx="445.4" cy="412.0" r="1.6" fill="#d1d1d1"/><circle cx="452.2" cy="409.4" r="1.8" fill="#c6c6c6"/><circle cx="453.1" cy="407.4" r="1.6" fill="#c3c3c3"/><circle cx="460.7" cy="412.1" r="2.0" fill="#cecece"/><circle cx="470.2" cy="410.1" r="1.8" fill="#cecece"/><circle cx="479.3" cy="410.0" r="1.8" fill="#cfcfcf"/><circle cx="482.2" cy="410.6" r="1.9" fill="#c7c7c7"/><circle cx="493.0" cy="409.3" r="1.9" fill="#d3d3d3"/><circle cx="496.0" cy="412.4" r="1.8" fill="#c2c2c2"/><circle cx="506.9" cy="411.6" r="1.9" fill="#c0c0c0"/><circle cx="511.7" cy="411.5" r="1.9" fill="#d4d4d4"/><circle cx="521.2" cy="410.5" r="1.5" fill="#c6c6c6"/><circle cx="528.6" cy="406.3" r="1.4" fill="#c7c7c7"/><circle cx="536.6" cy="412.7" r="1.9" fill="#c1c1c1"/><circle cx="543.5" cy="410.5" r="2.0" fill="#c8c8c8"/><circle cx="544.3" cy="409.3" r="1.7" fill="#c3c3c3"/><circle cx="556.3" cy="412.2" r="1.5" fill="#c4c4c4"/><circle cx="563.6" cy="407.1" r="1.7" fill="#c3c3c3"/><circle cx="568.6" cy="412.7" r="1.6" fill="#c0c0c0"/><circle cx="572.5" cy="406.2" r="1.8" fill="#c2c2c2"/><circle cx="582.5" cy="410.3" r="1.8" fill="#d1d1d1"/><circle cx="586.5" cy="406.4" r="1.7" fill="#c9c9c9"/><circle cx="596.2" cy="410.7" r="1.7" fill="#c6c6c6"/><circle cx="600.2" cy="411.8" r="1.9" fill="#cecece"/><circle cx="608.5" cy="411.0" r="1.8" fill="#cdcdcd"/><circle cx="620.9" cy="410.3" r="1.5" fill="#d0d0d0"/><circle cx="623.5" cy="406.7" r="1.8" fill="#c3c3c3"/><circle cx="628.6" cy="407.9" r="1.6" fill="#c9c9c9"/><circle cx="636.0" cy="410.2" r="2.0" fill="#c6c6c6"/><circle cx="642.0" cy="406.5" r="1.5" fill="#d3d3d3"/><circle cx="650.5" cy="408.7" r="2.0" fill="#d3d3d3"/><circle cx="660.0" cy="407.5" r="1.9" fill="#c2c2c2"/><circle cx="669.4" cy="411.9" r="1.8" fill="#c0c0c0"/><circle cx="674.7" cy="406.9" r="1.9" fill="#c1c1c1"/><circle cx="678.3" cy="412.6" r="1.7" fill="#c4c4c4"/><circle cx="685.8" cy="408.1" r="1.6" fill="#cacaca"/><circle cx="693.7" cy="407.1" r="1.5" fill="#d4d4d4"/><circle cx="702.6" cy="409.3" r="1.8" fill="#cacaca"/><circle cx="706.9" cy="407.7" r="1.6" fill="#c0c0c0"/><circle cx="714.4" cy="409.8" r="1.6" fill="#cacaca"/><circle cx="719.0" cy="411.4" r="1.5" fill="#cacaca"/><circle cx="731.6" cy="409.7" r="1.5" fill="#cacaca"/><circle cx="736.0" cy="408.4" r="1.4" fill="#c3c3c3"/><circle cx="746.8" cy="407.1" r="1.7" fill="#d4d4d4"/><circle cx="751.6" cy="407.7" r="2.0" fill="#d0d0d0"/><circle cx="758.8" cy="412.8" r="1.5" fill="#c6c6c6"/><circle cx="762.5" cy="411.3" r="1.9" fill="#c8c8c8"/><circle cx="771.0" cy="406.8" r="2.0" fill="#d3d3d3"/><circle cx="778.1" cy="410.8" r="1.8" fill="#c9c9c9"/><circle cx="395.3" cy="414.7" r="1.6" fill="#c0c0c0"/><circle cx="397.6" cy="419.1" r="1.8" fill="#d3d3d3"/><circle cx="410.8" cy="417.5" r="1.8" fill="#d4d4d4"/><circle cx="411.5" cy="413.5" r="1.6" fill="#c2c2c2"/><circle cx="418.4" cy="413.5" r="1.4" fill="#cbcbcb"/><circle cx="425.5" cy="416.9" r="1.8" fill="#d4d4d4"/><circle cx="438.8" cy="417.8" r="1.6" fill="#cecece"/><circle cx="440.2" cy="413.7" r="1.6" fill="#cdcdcd"/><circle cx="450.9" cy="414.2" r="2.0" fill="#c3c3c3"/><circle cx="459.0" cy="416.2" r="1.6" fill="#c6c6c6"/><circle cx="460.2" cy="418.8" r="1.5" fill="#c6c6c6"/><circle cx="472.6" cy="417.7" r="1.6" fill="#c0c0c0"/><circle cx="479.9" cy="413.5" r="1.5" fill="#d2d2d2"/><circle cx="483.2" cy="414.8" r="1.4" fill="#cfcfcf"/><circle cx="488.7" cy="419.9" r="1.6" fill="#d4d4d4"/><circle cx="495.6" cy="417.1" r="1.4" fill="#c9c9c9"/><circle cx="502.1" cy="419.0" r="1.5" fill="#cbcbcb"/><circle cx="511.5" cy="418.1" r="1.5" fill="#c8c8c8"/><circle cx="518.6" cy="414.2" r="1.8" fill="#c7c7c7"/><circle cx="529.4" cy="414.2" r="1.9" fill="#c0c0c0"/><circle cx="531.6" cy="414.4" r="1.5" fill="#cccccc"/><circle cx="543.0" cy="414.7" r="1.9" fill="#c8c8c8"/><circle cx="550.1" cy="413.4" r="1.8" fill="#cbcbcb"/><circle cx="552.6" cy="413.2" r="1.7" fill="#c3c3c3"/><circle cx="558.8" cy="416.9" r="1.7" fill="#cccccc"/><circle cx="565.8" cy="416.4" r="1.5" fill="#c7c7c7"/><circle cx="575.0" cy="413.4" r="1.5" fill="#c8c8c8"/><circle cx="581.5" cy="416.3" r="2.0" fill="#d1d1d1"/><circle cx="586.4" cy="416.6" r="1.7" fill="#c6c6c6"/><circle cx="596.9" cy="419.1" r="2.0" fill="#cccccc"/><circle cx="600.8" cy="419.6" r="1.7" fill="#c7c7c7"/><circle cx="610.7" cy="416.6" r="1.6" fill="#c3c3c3"/><circle cx="614.6" cy="414.9" r="2.0" fill="#cecece"/><circle cx="626.5" cy="413.9" r="1.9" fill="#d4d4d4"/><circle cx="630.2" cy="414.4" r="1.8" fill="#cbcbcb"/><circle cx="635.5" cy="417.9" r="1.7" fill="#c8c8c8"/><circle cx="643.3" cy="413.1" r="1.8" fill="#d0d0d0"/><circle cx="655.3" cy="417.5" r="1.8" fill="#c1c1c1"/><circle cx="659.8" cy="414.6" r="1.7" fill="#d3d3d3"/><circle cx="664.0" cy="415.6" r="1.6" fill="#cacaca"/><circle cx="675.2" cy="419.0" r="1.6" fill="#d4d4d4"/><circle cx="678.3" cy="414.6" r="1.8" fill="#c2c2c2"/><circle cx="687.1" cy="419.0" r="1.6" fill="#c4c4c4"/><circle cx="696.9" cy="415.1" r="1.6" fill="#c6c6c6"/><circle cx="704.6" cy="415.8" r="1.8" fill="#c0c0c0"/><circle cx="707.5" cy="416.4" r="1.4" fill="#cbcbcb"/><circle cx="715.6" cy="419.6" r="1.7" fill="#c6c6c6"/><circle cx="723.3" cy="414.5" r="1.9" fill="#c6c6c6"/><circle cx="728.2" cy="418.5" r="1.6" fill="#cacaca"/><circle cx="733.2" cy="414.2" r="1.6" fill="#c0c0c0"/><circle cx="744.0" cy="418.4" r="1.5" fill="#c0c0c0"/><circle cx="748.1" cy="418.7" r="1.8" fill="#cfcfcf"/><circle cx="757.9" cy="418.0" r="1.5" fill="#c7c7c7"/><circle cx="764.9" cy="414.9" r="1.6" fill="#c4c4c4"/><circle cx="775.0" cy="413.9" r="1.6" fill="#c1c1c1"/><circle cx="776.2" cy="416.0" r="1.4" fill="#cecece"/><circle cx="395.5" cy="421.8" r="1.7" fill="#c7c7c7"/><circle cx="403.0" cy="426.7" r="1.6" fill="#cdcdcd"/><circle cx="404.7" cy="423.0" r="1.9" fill="#c0c0c0"/><circle cx="417.3" cy="420.5" r="1.9" fill="#c5c5c5"/><circle cx="424.1" cy="422.9" r="1.7" fill="#c9c9c9"/><circle cx="430.6" cy="424.6" r="1.7" fill="#c3c3c3"/><circle cx="435.1" cy="423.5" r="1.7" fill="#cbcbcb"/><circle cx="445.3" cy="426.7" r="1.5" fill="#c2c2c2"/><circle cx="450.1" cy="421.8" r="1.6" fill="#c8c8c8"/><circle cx="457.5" cy="422.9" r="2.0" fill="#c8c8c8"/><circle cx="464.7" cy="420.5" r="1.8" fill="#d3d3d3"/><circle cx="471.8" cy="421.5" r="1.6" fill="#c0c0c0"/><circle cx="477.1" cy="422.4" r="1.9" fill="#d4d4d4"/><circle cx="487.2" cy="423.3" r="1.6" fill="#c7c7c7"/><circle cx="494.8" cy="420.6" r="2.0" fill="#d1d1d1"/><circle cx="497.9" cy="426.7" r="1.9" fill="#c7c7c7"/><circle cx="504.6" cy="425.0" r="1.6" fill="#cfcfcf"/><circle cx="514.4" cy="420.9" r="1.5" fill="#c6c6c6"/><circle cx="522.2" cy="420.8" r="1.7" fill="#cccccc"/><circle cx="527.3" cy="424.5" r="1.7" fill="#cecece"/><circle cx="536.6" cy="424.0" r="1.6" fill="#cdcdcd"/><circle cx="539.2" cy="425.7" r="1.8" fill="#c5c5c5"/><circle cx="546.8" cy="420.8" r="1.8" fill="#c9c9c9"/><circle cx="556.8" cy="424.5" r="1.8" fill="#d2d2d2"/><circle cx="564.8" cy="421.4" r="1.9" fill="#c9c9c9"/><circle cx="569.5" cy="421.1" r="1.4" fill="#cecece"/><circle cx="577.9" cy="426.1" r="1.8" fill="#c6c6c6"/><circle cx="585.3" cy="424.2" r="1.6" fill="#d1d1d1"/><circle cx="587.9" cy="420.5" r="1.4" fill="#c5c5c5"/><circle cx="593.6" cy="421.7" r="1.5" fill="#c5c5c5"/><circle cx="601.9" cy="425.0" r="2.0" fill="#c0c0c0"/><circle cx="607.2" cy="420.6" r="1.5" fill="#c6c6c6"/><circle cx="615.0" cy="422.3" r="1.7" fill="#cacaca"/><circle cx="623.0" cy="425.2" r="1.9" fill="#cacaca"/><circle cx="628.4" cy="420.6" r="1.5" fill="#c2c2c2"/><circle cx="635.4" cy="420.4" r="2.0" fill="#c4c4c4"/><circle cx="647.5" cy="425.1" r="1.6" fill="#cfcfcf"/><circle cx="650.0" cy="424.2" r="2.0" fill="#c1c1c1"/><circle cx="661.3" cy="425.9" r="1.7" fill="#c9c9c9"/><circle cx="668.0" cy="421.6" r="1.9" fill="#cfcfcf"/><circle cx="670.7" cy="424.1" r="1.5" fill="#cecece"/><circle cx="682.6" cy="425.5" r="1.5" fill="#c2c2c2"/><circle cx="689.8" cy="423.3" r="1.7" fill="#c0c0c0"/><circle cx="692.3" cy="424.1" r="1.5" fill="#d4d4d4"/><circle cx="701.2" cy="425.3" r="1.7" fill="#d0d0d0"/><circle cx="708.7" cy="425.1" r="1.4" fill="#c0c0c0"/><circle cx="713.5" cy="422.0" r="1.8" fill="#cecece"/><circle cx="723.3" cy="426.3" r="1.5" fill="#c9c9c9"/><circle cx="733.0" cy="426.3" r="1.5" fill="#c1c1c1"/><circle cx="734.6" cy="425.4" r="1.9" fill="#c9c9c9"/><circle cx="742.8" cy="423.7" r="1.6" fill="#d3d3d3"/><circle cx="749.2" cy="422.1" r="1.6" fill="#c7c7c7"/><circle cx="755.1" cy="426.5" r="1.9" fill="#cecece"/><circle cx="761.2" cy="422.2" r="1.9" fill="#d0d0d0"/><circle cx="774.1" cy="424.8" r="1.7" fill="#c9c9c9"/><circle cx="780.4" cy="420.7" r="1.4" fill="#cccccc"/><circle cx="393.1" cy="427.5" r="1.9" fill="#d0d0d0"/><circle cx="398.6" cy="429.2" r="1.7" fill="#cdcdcd"/><circle cx="409.4" cy="429.6" r="1.7" fill="#cacaca"/><circle cx="415.3" cy="427.7" r="1.7" fill="#d4d4d4"/><circle cx="424.5" cy="427.9" r="1.9" fill="#d1d1d1"/><circle cx="425.9" cy="430.3" r="1.8" fill="#c9c9c9"/><circle cx="436.6" cy="433.0" r="1.8" fill="#cacaca"/><circle cx="442.1" cy="427.6" r="1.6" fill="#c3c3c3"/><circle cx="451.0" cy="432.2" r="1.4" fill="#c4c4c4"/><circle cx="456.7" cy="431.9" r="1.6" fill="#d1d1d1"/><circle cx="464.2" cy="429.8" r="1.5" fill="#cccccc"/><circle cx="472.4" cy="430.0" r="1.6" fill="#c3c3c3"/><circle cx="480.2" cy="430.2" r="1.7" fill="#c2c2c2"/><circle cx="482.8" cy="432.2" r="1.9" fill="#cccccc"/><circle cx="491.3" cy="433.7" r="1.8" fill="#c9c9c9"/><circle cx="500.3" cy="429.8" r="1.5" fill="#c4c4c4"/><circle cx="507.2" cy="433.4" r="1.7" fill="#d0d0d0"/><circle cx="511.4" cy="428.7" r="1.6" fill="#cfcfcf"/><circle cx="521.7" cy="431.9" r="2.0" fill="#d3d3d3"/><circle cx="525.2" cy="428.2" r="1.8" fill="#cacaca"/><circle cx="534.8" cy="431.6" r="1.4" fill="#c0c0c0"/><circle cx="543.0" cy="431.0" r="1.4" fill="#c8c8c8"/><circle cx="548.2" cy="433.3" r="2.0" fill="#cacaca"/><circle cx="552.6" cy="429.2" r="1.9" fill="#cbcbcb"/><circle cx="560.1" cy="431.3" r="1.6" fill="#c9c9c9"/><circle cx="565.8" cy="428.6" r="1.9" fill="#cdcdcd"/><circle cx="577.3" cy="432.4" r="1.7" fill="#c7c7c7"/><circle cx="584.7" cy="431.5" r="1.4" fill="#c5c5c5"/><circle cx="591.3" cy="432.7" r="1.6" fill="#d4d4d4"/><circle cx="595.3" cy="430.1" r="1.6" fill="#c7c7c7"/><circle cx="603.8" cy="429.4" r="1.9" fill="#cbcbcb"/><circle cx="613.3" cy="428.2" r="1.6" fill="#c4c4c4"/><circle cx="620.0" cy="433.7" r="1.9" fill="#d1d1d1"/><circle cx="625.6" cy="427.3" r="1.9" fill="#d1d1d1"/><circle cx="634.9" cy="433.6" r="1.7" fill="#cecece"/><circle cx="640.5" cy="433.1" r="1.5" fill="#cacaca"/><circle cx="644.5" cy="427.4" r="1.5" fill="#c0c0c0"/><circle cx="655.3" cy="427.2" r="1.6" fill="#d3d3d3"/><circle cx="656.5" cy="432.2" r="1.5" fill="#cecece"/><circle cx="667.5" cy="429.2" r="1.7" fill="#cccccc"/><circle cx="672.2" cy="431.4" r="1.9" fill="#cfcfcf"/><circle cx="679.2" cy="429.4" r="1.9" fill="#cbcbcb"/><circle cx="688.0" cy="427.7" r="1.8" fill="#d0d0d0"/><circle cx="691.5" cy="430.1" r="1.4" fill="#c7c7c7"/><circle cx="699.5" cy="429.5" r="1.6" fill="#c3c3c3"/><circle cx="709.6" cy="431.0" r="1.7" fill="#d2d2d2"/><circle cx="715.0" cy="432.0" r="1.7" fill="#c2c2c2"/><circle cx="720.3" cy="429.0" r="1.7" fill="#cbcbcb"/><circle cx="726.7" cy="432.6" r="1.8" fill="#c1c1c1"/><circle cx="734.5" cy="433.2" r="2.0" fill="#cdcdcd"/><circle cx="741.1" cy="431.5" r="1.4" fill="#cdcdcd"/><circle cx="748.4" cy="429.1" r="1.6" fill="#c5c5c5"/><circle cx="757.4" cy="432.3" r="1.4" fill="#c4c4c4"/><circle cx="765.2" cy="429.6" r="1.9" fill="#c5c5c5"/><circle cx="769.3" cy="433.4" r="1.7" fill="#c3c3c3"/><circle cx="781.1" cy="429.5" r="2.0" fill="#c6c6c6"/><circle cx="393.5" cy="440.3" r="1.9" fill="#c6c6c6"/><circle cx="400.6" cy="440.5" r="1.7" fill="#c4c4c4"/><circle cx="405.1" cy="437.1" r="1.4" fill="#c4c4c4"/><circle cx="415.2" cy="435.8" r="1.6" fill="#cdcdcd"/><circle cx="419.5" cy="438.4" r="1.4" fill="#c0c0c0"/><circle cx="430.6" cy="440.3" r="1.5" fill="#c7c7c7"/><circle cx="435.8" cy="435.6" r="1.9" fill="#c7c7c7"/><circle cx="443.2" cy="440.3" r="1.5" fill="#d2d2d2"/><circle cx="451.1" cy="434.8" r="1.7" fill="#d3d3d3"/><circle cx="458.0" cy="435.9" r="1.9" fill="#d0d0d0"/><circle cx="460.4" cy="440.6" r="1.7" fill="#c2c2c2"/><circle cx="473.1" cy="440.3" r="1.7" fill="#cdcdcd"/><circle cx="475.0" cy="437.2" r="1.8" fill="#d1d1d1"/><circle cx="483.4" cy="439.4" r="1.5" fill="#c6c6c6"/><circle cx="489.6" cy="440.1" r="1.6" fill="#cdcdcd"/><circle cx="497.1" cy="435.1" r="1.5" fill="#c2c2c2"/><circle cx="503.0" cy="438.1" r="1.5" fill="#c9c9c9"/><circle cx="510.3" cy="437.4" r="1.7" fill="#d2d2d2"/><circle cx="519.4" cy="440.6" r="1.7" fill="#c6c6c6"/><circle cx="526.3" cy="437.6" r="1.7" fill="#c7c7c7"/><circle cx="530.5" cy="438.9" r="2.0" fill="#cccccc"/><circle cx="537.7" cy="439.1" r="1.6" fill="#cccccc"/><circle cx="548.5" cy="437.3" r="1.9" fill="#d1d1d1"/><circle cx="551.0" cy="439.9" r="1.8" fill="#cbcbcb"/><circle cx="561.6" cy="439.0" r="1.8" fill="#cdcdcd"/><circle cx="569.3" cy="435.1" r="1.8" fill="#c0c0c0"/><circle cx="578.6" cy="435.0" r="1.6" fill="#cccccc"/><circle cx="584.5" cy="438.1" r="1.8" fill="#cacaca"/><circle cx="591.6" cy="435.1" r="1.7" fill="#d4d4d4"/><circle cx="594.3" cy="434.8" r="1.9" fill="#c0c0c0"/><circle cx="604.3" cy="439.6" r="1.7" fill="#c8c8c8"/><circle cx="609.5" cy="440.3" r="1.6" fill="#d1d1d1"/><circle cx="619.5" cy="436.3" r="2.0" fill="#c3c3c3"/><circle cx="623.3" cy="436.7" r="1.8" fill="#c8c8c8"/><circle cx="628.1" cy="439.6" r="1.4" fill="#d4d4d4"/><circle cx="638.8" cy="435.9" r="1.6" fill="#cfcfcf"/><circle cx="643.1" cy="438.8" r="1.4" fill="#c6c6c6"/><circle cx="650.5" cy="439.2" r="1.5" fill="#c9c9c9"/><circle cx="657.6" cy="434.4" r="1.6" fill="#c3c3c3"/><circle cx="669.6" cy="437.9" r="2.0" fill="#c2c2c2"/><circle cx="675.4" cy="435.0" r="1.9" fill="#c1c1c1"/><circle cx="682.2" cy="440.0" r="1.6" fill="#c2c2c2"/><circle cx="688.4" cy="439.0" r="1.5" fill="#c4c4c4"/><circle cx="697.8" cy="434.3" r="1.4" fill="#c3c3c3"/><circle cx="698.3" cy="436.3" r="1.8" fill="#c5c5c5"/><circle cx="705.8" cy="435.1" r="1.5" fill="#d3d3d3"/><circle cx="714.5" cy="440.6" r="1.5" fill="#c3c3c3"/><circle cx="725.9" cy="437.0" r="1.6" fill="#c8c8c8"/><circle cx="729.1" cy="437.4" r="1.4" fill="#c5c5c5"/><circle cx="734.2" cy="440.2" r="1.9" fill="#d4d4d4"/><circle cx="745.2" cy="434.4" r="1.7" fill="#c1c1c1"/><circle cx="752.5" cy="437.8" r="1.9" fill="#c0c0c0"/><circle cx="757.2" cy="440.2" r="1.8" fill="#cacaca"/><circle cx="765.6" cy="437.6" r="1.5" fill="#c1c1c1"/><circle cx="774.4" cy="437.9" r="1.5" fill="#c5c5c5"/><circle cx="779.8" cy="435.1" r="1.8" fill="#d0d0d0"/><circle cx="395.6" cy="446.5" r="1.7" fill="#c0c0c0"/><circle cx="402.9" cy="443.5" r="1.8" fill="#c6c6c6"/><circle cx="408.0" cy="446.1" r="1.6" fill="#cfcfcf"/><circle cx="417.7" cy="447.5" r="1.8" fill="#cacaca"/><circle cx="424.3" cy="442.3" r="2.0" fill="#c6c6c6"/><circle cx="430.5" cy="446.5" r="1.9" fill="#d2d2d2"/><circle cx="436.8" cy="443.2" r="1.9" fill="#c8c8c8"/><circle cx="444.6" cy="443.4" r="1.7" fill="#d1d1d1"/><circle cx="449.4" cy="442.9" r="2.0" fill="#c2c2c2"/><circle cx="456.4" cy="446.8" r="1.4" fill="#cdcdcd"/><circle cx="465.3" cy="445.0" r="1.9" fill="#d2d2d2"/><circle cx="470.6" cy="445.9" r="1.4" fill="#d2d2d2"/><circle cx="479.4" cy="441.7" r="1.6" fill="#c3c3c3"/><circle cx="485.2" cy="444.0" r="1.9" fill="#c8c8c8"/><circle cx="488.6" cy="444.1" r="1.6" fill="#c1c1c1"/><circle cx="498.5" cy="446.1" r="1.5" fill="#d4d4d4"/><circle cx="503.8" cy="446.5" r="1.5" fill="#d0d0d0"/><circle cx="515.6" cy="448.0" r="1.7" fill="#d2d2d2"/><circle cx="520.8" cy="445.5" r="1.6" fill="#d4d4d4"/><circle cx="529.0" cy="443.8" r="2.0" fill="#cfcfcf"/><circle cx="536.7" cy="441.3" r="1.9" fill="#c9c9c9"/><circle cx="537.4" cy="447.9" r="1.7" fill="#c4c4c4"/><circle cx="546.5" cy="447.0" r="1.9" fill="#c8c8c8"/><circle cx="556.7" cy="441.2" r="1.7" fill="#c2c2c2"/><circle cx="558.6" cy="446.5" r="1.9" fill="#c6c6c6"/><circle cx="568.3" cy="444.3" r="1.8" fill="#c9c9c9"/><circle cx="574.4" cy="447.5" r="1.5" fill="#c4c4c4"/><circle cx="583.5" cy="446.3" r="1.8" fill="#d0d0d0"/><circle cx="587.8" cy="442.1" r="1.9" fill="#c7c7c7"/><circle cx="596.3" cy="446.5" r="1.6" fill="#c1c1c1"/><circle cx="601.5" cy="447.3" r="1.8" fill="#c2c2c2"/><circle cx="611.4" cy="444.7" r="1.9" fill="#cecece"/><circle cx="615.5" cy="443.9" r="1.7" fill="#cacaca"/><circle cx="625.8" cy="446.2" r="1.5" fill="#cecece"/><circle cx="631.4" cy="444.7" r="1.5" fill="#c8c8c8"/><circle cx="636.1" cy="445.8" r="1.7" fill="#cccccc"/><circle cx="648.2" cy="447.4" r="1.9" fill="#cfcfcf"/><circle cx="652.5" cy="442.9" r="1.6" fill="#d1d1d1"/><circle cx="659.5" cy="447.8" r="1.6" fill="#cacaca"/><circle cx="669.2" cy="443.6" r="2.0" fill="#c4c4c4"/><circle cx="673.5" cy="443.0" r="1.6" fill="#d2d2d2"/><circle cx="680.8" cy="443.2" r="1.4" fill="#c6c6c6"/><circle cx="687.2" cy="447.7" r="1.7" fill="#cbcbcb"/><circle cx="694.9" cy="447.6" r="1.8" fill="#cbcbcb"/><circle cx="701.4" cy="447.5" r="1.5" fill="#c5c5c5"/><circle cx="707.5" cy="445.2" r="1.6" fill="#c7c7c7"/><circle cx="717.0" cy="445.1" r="1.7" fill="#c6c6c6"/><circle cx="722.9" cy="442.4" r="1.7" fill="#c3c3c3"/><circle cx="731.3" cy="442.7" r="1.5" fill="#c9c9c9"/><circle cx="739.5" cy="447.9" r="1.8" fill="#c0c0c0"/><circle cx="741.9" cy="447.8" r="1.5" fill="#c8c8c8"/><circle cx="749.2" cy="445.0" r="1.4" fill="#cdcdcd"/><circle cx="756.5" cy="446.0" r="1.7" fill="#c5c5c5"/><circle cx="761.1" cy="442.4" r="1.5" fill="#c7c7c7"/><circle cx="768.7" cy="447.5" r="1.6" fill="#d0d0d0"/><circle cx="781.7" cy="445.7" r="1.6" fill="#c0c0c0"/><circle cx="390.5" cy="453.8" r="2.0" fill="#c3c3c3"/><circle cx="402.8" cy="454.2" r="1.7" fill="#cdcdcd"/><circle cx="406.5" cy="452.6" r="2.0" fill="#c1c1c1"/><circle cx="418.0" cy="452.4" r="1.8" fill="#c5c5c5"/><circle cx="420.6" cy="450.6" r="1.5" fill="#cbcbcb"/><circle cx="426.8" cy="449.0" r="1.5" fill="#c4c4c4"/><circle cx="432.8" cy="453.6" r="1.5" fill="#c9c9c9"/><circle cx="442.5" cy="452.0" r="1.7" fill="#cdcdcd"/><circle cx="449.2" cy="453.3" r="1.8" fill="#c7c7c7"/><circle cx="456.0" cy="449.7" r="1.9" fill="#c7c7c7"/><circle cx="466.3" cy="450.5" r="1.9" fill="#cfcfcf"/><circle cx="471.1" cy="451.0" r="1.7" fill="#c1c1c1"/><circle cx="475.6" cy="452.7" r="1.9" fill="#cecece"/><circle cx="487.9" cy="449.7" r="1.4" fill="#c5c5c5"/><circle cx="489.4" cy="449.8" r="1.9" fill="#c2c2c2"/><circle cx="497.4" cy="448.6" r="1.9" fill="#c2c2c2"/><circle cx="505.6" cy="454.6" r="1.5" fill="#c4c4c4"/><circle cx="510.2" cy="451.0" r="2.0" fill="#c3c3c3"/><circle cx="520.9" cy="451.0" r="1.5" fill="#c1c1c1"/><circle cx="526.5" cy="454.9" r="1.8" fill="#c5c5c5"/><circle cx="535.7" cy="453.5" r="1.6" fill="#c1c1c1"/><circle cx="539.3" cy="448.7" r="1.8" fill="#c6c6c6"/><circle cx="547.6" cy="449.2" r="1.8" fill="#cdcdcd"/><circle cx="552.8" cy="451.2" r="1.5" fill="#cecece"/><circle cx="558.0" cy="449.6" r="1.6" fill="#c6c6c6"/><circle cx="567.9" cy="451.8" r="1.6" fill="#cbcbcb"/><circle cx="574.3" cy="449.9" r="1.8" fill="#c7c7c7"/><circle cx="579.3" cy="450.9" r="1.9" fill="#c2c2c2"/><circle cx="587.1" cy="448.5" r="1.7" fill="#c8c8c8"/><circle cx="599.4" cy="448.7" r="1.7" fill="#cfcfcf"/><circle cx="601.8" cy="448.7" r="2.0" fill="#d2d2d2"/><circle cx="612.7" cy="450.0" r="2.0" fill="#cfcfcf"/><circle cx="614.9" cy="448.5" r="1.7" fill="#c0c0c0"/><circle cx="625.9" cy="452.0" r="2.0" fill="#c1c1c1"/><circle cx="633.5" cy="453.5" r="1.4" fill="#cacaca"/><circle cx="636.7" cy="449.5" r="2.0" fill="#c8c8c8"/><circle cx="644.4" cy="452.9" r="1.6" fill="#c8c8c8"/><circle cx="650.1" cy="451.1" r="1.5" fill="#c4c4c4"/><circle cx="656.6" cy="453.1" r="1.9" fill="#d4d4d4"/><circle cx="669.4" cy="452.6" r="1.6" fill="#c3c3c3"/><circle cx="670.8" cy="450.7" r="1.8" fill="#c0c0c0"/><circle cx="678.1" cy="454.1" r="1.5" fill="#c9c9c9"/><circle cx="691.0" cy="450.2" r="1.9" fill="#d1d1d1"/><circle cx="697.1" cy="452.1" r="2.0" fill="#d4d4d4"/><circle cx="703.5" cy="453.9" r="1.7" fill="#c9c9c9"/><circle cx="708.6" cy="451.4" r="1.6" fill="#cbcbcb"/><circle cx="714.5" cy="451.9" r="2.0" fill="#d3d3d3"/><circle cx="720.9" cy="451.5" r="1.7" fill="#cdcdcd"/><circle cx="729.0" cy="452.2" r="1.4" fill="#c9c9c9"/><circle cx="734.9" cy="453.4" r="1.8" fill="#cbcbcb"/><circle cx="743.6" cy="449.7" r="2.0" fill="#d0d0d0"/><circle cx="750.8" cy="451.8" r="1.6" fill="#c1c1c1"/><circle cx="759.7" cy="451.4" r="1.8" fill="#c6c6c6"/><circle cx="766.1" cy="454.0" r="1.8" fill="#cecece"/><circle cx="770.5" cy="453.3" r="1.8" fill="#c6c6c6"/><circle cx="780.8" cy="454.9" r="1.7" fill="#c8c8c8"/><circle cx="394.4" cy="459.9" r="1.6" fill="#c1c1c1"/><circle cx="399.4" cy="457.9" r="1.7" fill="#d3d3d3"/><circle cx="407.7" cy="459.7" r="2.0" fill="#c7c7c7"/><circle cx="413.4" cy="458.3" r="1.8" fill="#c5c5c5"/><circle cx="421.4" cy="457.6" r="1.6" fill="#cfcfcf"/><circle cx="425.3" cy="455.9" r="1.6" fill="#cdcdcd"/><circle cx="438.1" cy="458.1" r="1.7" fill="#cacaca"/><circle cx="440.1" cy="459.5" r="1.8" fill="#cbcbcb"/><circle cx="448.0" cy="461.5" r="1.9" fill="#cacaca"/><circle cx="453.3" cy="456.2" r="1.4" fill="#cdcdcd"/><circle cx="461.3" cy="460.4" r="1.6" fill="#c3c3c3"/><circle cx="467.8" cy="456.9" r="1.7" fill="#d3d3d3"/><circle cx="480.9" cy="461.9" r="1.6" fill="#c5c5c5"/><circle cx="483.7" cy="455.1" r="1.6" fill="#cacaca"/><circle cx="490.3" cy="459.8" r="1.8" fill="#c6c6c6"/><circle cx="496.4" cy="459.1" r="1.7" fill="#c7c7c7"/><circle cx="504.1" cy="456.4" r="1.9" fill="#c7c7c7"/><circle cx="510.6" cy="459.1" r="1.7" fill="#cacaca"/><circle cx="516.8" cy="459.0" r="1.7" fill="#d3d3d3"/><circle cx="523.6" cy="458.2" r="1.5" fill="#cecece"/><circle cx="532.2" cy="457.9" r="1.6" fill="#c7c7c7"/><circle cx="537.8" cy="461.9" r="1.5" fill="#cdcdcd"/><circle cx="545.7" cy="459.1" r="1.6" fill="#c1c1c1"/><circle cx="554.6" cy="458.9" r="1.6" fill="#cfcfcf"/><circle cx="563.4" cy="458.4" r="2.0" fill="#c1c1c1"/><circle cx="569.6" cy="458.2" r="1.8" fill="#c5c5c5"/><circle cx="577.4" cy="460.9" r="1.7" fill="#cccccc"/><circle cx="580.1" cy="461.7" r="2.0" fill="#cecece"/><circle cx="592.6" cy="461.1" r="1.6" fill="#c6c6c6"/><circle cx="597.9" cy="455.5" r="1.9" fill="#c5c5c5"/><circle cx="602.6" cy="458.0" r="1.7" fill="#c9c9c9"/><circle cx="613.4" cy="457.4" r="1.6" fill="#c5c5c5"/><circle cx="614.7" cy="458.7" r="1.5" fill="#c9c9c9"/><circle cx="627.0" cy="456.5" r="1.9" fill="#cbcbcb"/><circle cx="633.9" cy="459.2" r="1.7" fill="#c8c8c8"/><circle cx="637.0" cy="455.6" r="2.0" fill="#cbcbcb"/><circle cx="647.9" cy="457.6" r="2.0" fill="#d4d4d4"/><circle cx="651.3" cy="457.3" r="1.9" fill="#cacaca"/><circle cx="657.1" cy="455.2" r="1.9" fill="#c7c7c7"/><circle cx="665.8" cy="456.1" r="1.8" fill="#d1d1d1"/><circle cx="673.1" cy="457.8" r="1.5" fill="#cecece"/><circle cx="678.2" cy="461.4" r="1.9" fill="#c1c1c1"/><circle cx="684.2" cy="456.5" r="2.0" fill="#cccccc"/><circle cx="695.7" cy="458.5" r="1.7" fill="#c6c6c6"/><circle cx="701.8" cy="455.5" r="1.5" fill="#c5c5c5"/><circle cx="706.8" cy="459.5" r="1.5" fill="#d3d3d3"/><circle cx="717.4" cy="459.6" r="1.9" fill="#c9c9c9"/><circle cx="722.9" cy="455.9" r="1.7" fill="#d3d3d3"/><circle cx="726.8" cy="456.9" r="1.6" fill="#c6c6c6"/><circle cx="736.8" cy="459.3" r="1.9" fill="#d2d2d2"/><circle cx="745.8" cy="459.7" r="1.8" fill="#cacaca"/><circle cx="751.0" cy="460.3" r="1.6" fill="#cecece"/><circle cx="757.8" cy="456.1" r="1.4" fill="#c3c3c3"/><circle cx="761.6" cy="459.4" r="1.8" fill="#d0d0d0"/><circle cx="773.1" cy="456.9" r="1.9" fill="#c5c5c5"/><circle cx="781.3" cy="461.6" r="1.4" fill="#d3d3d3"/><circle cx="396.2" cy="465.1" r="1.9" fill="#cecece"/><circle cx="400.7" cy="468.0" r="1.5" fill="#d4d4d4"/><circle cx="406.4" cy="462.2" r="1.6" fill="#c2c2c2"/><circle cx="417.4" cy="462.2" r="1.8" fill="#c1c1c1"/><circle cx="419.1" cy="464.0" r="1.6" fill="#c2c2c2"/><circle cx="431.1" cy="468.9" r="1.7" fill="#c8c8c8"/><circle cx="435.9" cy="462.0" r="1.4" fill="#c9c9c9"/><circle cx="440.6" cy="462.6" r="2.0" fill="#d1d1d1"/><circle cx="449.4" cy="466.2" r="1.9" fill="#cccccc"/><circle cx="457.9" cy="465.2" r="1.9" fill="#cecece"/><circle cx="465.8" cy="468.6" r="1.5" fill="#c8c8c8"/><circle cx="472.2" cy="467.8" r="1.5" fill="#c9c9c9"/><circle cx="476.8" cy="463.6" r="1.5" fill="#cbcbcb"/><circle cx="484.2" cy="464.4" r="1.7" fill="#d3d3d3"/><circle cx="493.3" cy="467.2" r="1.9" fill="#cbcbcb"/><circle cx="497.8" cy="463.1" r="1.7" fill="#cccccc"/><circle cx="503.1" cy="467.4" r="1.7" fill="#c5c5c5"/><circle cx="512.3" cy="465.5" r="1.9" fill="#c6c6c6"/><circle cx="520.6" cy="463.7" r="1.7" fill="#c3c3c3"/><circle cx="524.8" cy="464.4" r="1.5" fill="#c9c9c9"/><circle cx="532.6" cy="466.1" r="1.5" fill="#cdcdcd"/><circle cx="542.7" cy="468.1" r="1.6" fill="#c4c4c4"/><circle cx="547.9" cy="466.2" r="1.8" fill="#c4c4c4"/><circle cx="555.9" cy="463.2" r="1.8" fill="#c3c3c3"/><circle cx="563.5" cy="466.7" r="1.9" fill="#cdcdcd"/><circle cx="570.8" cy="467.0" r="1.7" fill="#c3c3c3"/><circle cx="573.1" cy="463.2" r="1.9" fill="#cacaca"/><circle cx="580.5" cy="468.1" r="1.6" fill="#c4c4c4"/><circle cx="586.7" cy="467.1" r="1.9" fill="#c5c5c5"/><circle cx="596.3" cy="465.8" r="1.7" fill="#d0d0d0"/><circle cx="603.4" cy="462.7" r="2.0" fill="#c6c6c6"/><circle cx="610.1" cy="468.2" r="1.8" fill="#c3c3c3"/><circle cx="617.8" cy="463.5" r="1.9" fill="#c9c9c9"/><circle cx="625.4" cy="466.2" r="2.0" fill="#c5c5c5"/><circle cx="632.5" cy="464.6" r="1.7" fill="#c2c2c2"/><circle cx="641.9" cy="463.1" r="1.6" fill="#c8c8c8"/><circle cx="645.9" cy="467.1" r="1.5" fill="#d2d2d2"/><circle cx="655.1" cy="462.4" r="1.5" fill="#c2c2c2"/><circle cx="657.8" cy="467.8" r="1.6" fill="#c5c5c5"/><circle cx="664.8" cy="464.1" r="1.7" fill="#cbcbcb"/><circle cx="671.7" cy="468.1" r="1.6" fill="#c7c7c7"/><circle cx="683.0" cy="462.8" r="1.8" fill="#cecece"/><circle cx="688.9" cy="467.5" r="2.0" fill="#c6c6c6"/><circle cx="693.5" cy="464.2" r="1.6" fill="#d4d4d4"/><circle cx="704.5" cy="464.7" r="1.6" fill="#c2c2c2"/><circle cx="709.3" cy="467.7" r="1.8" fill="#cdcdcd"/><circle cx="716.1" cy="465.7" r="1.9" fill="#c8c8c8"/><circle cx="720.2" cy="464.8" r="1.9" fill="#cdcdcd"/><circle cx="727.5" cy="462.3" r="1.5" fill="#d2d2d2"/><circle cx="739.3" cy="469.0" r="1.7" fill="#c3c3c3"/><circle cx="740.6" cy="464.6" r="1.9" fill="#c0c0c0"/><circle cx="747.1" cy="466.4" r="1.8" fill="#c6c6c6"/><circle cx="757.3" cy="462.9" r="1.6" fill="#d4d4d4"/><circle cx="766.1" cy="463.4" r="1.8" fill="#c0c0c0"/><circle cx="772.6" cy="462.2" r="1.7" fill="#cacaca"/><circle cx="778.6" cy="463.6" r="1.4" fill="#c1c1c1"/><circle cx="394.7" cy="471.0" r="1.9" fill="#c9c9c9"/><circle cx="402.6" cy="473.8" r="1.5" fill="#c2c2c2"/><circle cx="409.1" cy="469.5" r="2.0" fill="#c0c0c0"/><circle cx="416.5" cy="475.4" r="1.8" fill="#d3d3d3"/><circle cx="420.8" cy="472.5" r="1.6" fill="#c3c3c3"/><circle cx="425.8" cy="472.2" r="1.7" fill="#cecece"/><circle cx="434.7" cy="472.0" r="1.5" fill="#c6c6c6"/><circle cx="441.3" cy="473.5" r="1.9" fill="#cccccc"/><circle cx="449.6" cy="472.9" r="1.9" fill="#d2d2d2"/><circle cx="453.3" cy="472.1" r="1.9" fill="#c6c6c6"/><circle cx="461.1" cy="471.7" r="1.8" fill="#cbcbcb"/><circle cx="468.1" cy="472.6" r="1.7" fill="#c8c8c8"/><circle cx="480.3" cy="470.7" r="1.7" fill="#cdcdcd"/><circle cx="481.6" cy="473.3" r="1.8" fill="#c9c9c9"/><circle cx="494.4" cy="472.1" r="1.9" fill="#c3c3c3"/><circle cx="501.5" cy="469.8" r="1.6" fill="#c0c0c0"/><circle cx="507.7" cy="471.5" r="1.9" fill="#c2c2c2"/><circle cx="509.1" cy="470.1" r="1.5" fill="#c2c2c2"/><circle cx="521.7" cy="472.9" r="1.8" fill="#c2c2c2"/><circle cx="524.0" cy="474.7" r="1.7" fill="#c8c8c8"/><circle cx="534.1" cy="471.2" r="2.0" fill="#d2d2d2"/><circle cx="542.2" cy="469.7" r="2.0" fill="#cdcdcd"/><circle cx="546.1" cy="469.4" r="1.5" fill="#cdcdcd"/><circle cx="551.4" cy="473.9" r="1.8" fill="#c8c8c8"/><circle cx="562.7" cy="471.0" r="1.7" fill="#c0c0c0"/><circle cx="567.0" cy="473.1" r="1.6" fill="#c8c8c8"/><circle cx="576.5" cy="472.6" r="1.5" fill="#d0d0d0"/><circle cx="582.5" cy="470.6" r="1.5" fill="#d0d0d0"/><circle cx="591.8" cy="471.0" r="1.6" fill="#c7c7c7"/><circle cx="595.9" cy="475.2" r="1.6" fill="#d3d3d3"/><circle cx="606.2" cy="475.9" r="2.0" fill="#c8c8c8"/><circle cx="613.6" cy="475.0" r="1.9" fill="#c4c4c4"/><circle cx="621.0" cy="473.5" r="1.9" fill="#d1d1d1"/><circle cx="621.1" cy="470.8" r="1.8" fill="#cbcbcb"/><circle cx="629.8" cy="473.3" r="1.5" fill="#cecece"/><circle cx="636.2" cy="473.6" r="1.6" fill="#c3c3c3"/><circle cx="643.3" cy="473.5" r="1.7" fill="#cdcdcd"/><circle cx="649.3" cy="470.3" r="2.0" fill="#cccccc"/><circle cx="660.8" cy="470.4" r="1.8" fill="#d1d1d1"/><circle cx="668.2" cy="473.6" r="1.6" fill="#d2d2d2"/><circle cx="672.8" cy="471.8" r="1.6" fill="#c4c4c4"/><circle cx="683.8" cy="474.4" r="2.0" fill="#cecece"/><circle cx="684.3" cy="469.6" r="1.8" fill="#c2c2c2"/><circle cx="696.0" cy="475.6" r="1.9" fill="#c8c8c8"/><circle cx="704.2" cy="472.2" r="1.6" fill="#d3d3d3"/><circle cx="707.6" cy="474.6" r="1.9" fill="#d1d1d1"/><circle cx="716.7" cy="470.2" r="1.5" fill="#d2d2d2"/><circle cx="722.7" cy="472.3" r="1.9" fill="#d0d0d0"/><circle cx="727.1" cy="474.0" r="1.5" fill="#cacaca"/><circle cx="739.8" cy="471.0" r="1.4" fill="#c6c6c6"/><circle cx="742.8" cy="469.1" r="1.7" fill="#cccccc"/><circle cx="750.3" cy="472.1" r="1.8" fill="#c0c0c0"/><circle cx="754.7" cy="475.6" r="1.6" fill="#c7c7c7"/><circle cx="761.2" cy="469.7" r="1.8" fill="#d2d2d2"/><circle cx="772.7" cy="469.6" r="1.7" fill="#c6c6c6"/><circle cx="781.8" cy="471.6" r="2.0" fill="#c3c3c3"/><circle cx="395.4" cy="480.1" r="1.8" fill="#d2d2d2"/><circle cx="402.7" cy="480.9" r="1.7" fill="#cccccc"/><circle cx="405.1" cy="479.8" r="1.6" fill="#cccccc"/><circle cx="412.1" cy="476.6" r="2.0" fill="#d4d4d4"/><circle cx="420.4" cy="479.0" r="1.5" fill="#c9c9c9"/><circle cx="429.0" cy="478.3" r="2.0" fill="#cbcbcb"/><circle cx="435.5" cy="476.3" r="1.6" fill="#d4d4d4"/><circle cx="440.8" cy="477.9" r="1.7" fill="#d0d0d0"/><circle cx="449.1" cy="479.2" r="1.9" fill="#cacaca"/><circle cx="459.4" cy="480.8" r="1.5" fill="#c3c3c3"/><circle cx="461.7" cy="480.8" r="1.9" fill="#c4c4c4"/><circle cx="468.5" cy="477.5" r="1.8" fill="#c6c6c6"/><circle cx="480.6" cy="483.0" r="1.7" fill="#c1c1c1"/><circle cx="485.4" cy="477.2" r="2.0" fill="#c5c5c5"/><circle cx="491.1" cy="476.5" r="1.4" fill="#cfcfcf"/><circle cx="500.2" cy="479.5" r="1.5" fill="#c7c7c7"/><circle cx="507.9" cy="481.5" r="1.8" fill="#c7c7c7"/><circle cx="511.4" cy="480.4" r="1.6" fill="#c1c1c1"/><circle cx="520.5" cy="479.5" r="1.6" fill="#d3d3d3"/><circle cx="528.5" cy="479.0" r="1.5" fill="#c0c0c0"/><circle cx="530.2" cy="481.9" r="1.9" fill="#cfcfcf"/><circle cx="541.9" cy="482.8" r="1.9" fill="#d2d2d2"/><circle cx="546.6" cy="478.2" r="2.0" fill="#d4d4d4"/><circle cx="552.8" cy="480.3" r="1.4" fill="#d1d1d1"/><circle cx="561.7" cy="476.7" r="1.5" fill="#c3c3c3"/><circle cx="568.5" cy="479.0" r="1.7" fill="#c0c0c0"/><circle cx="572.8" cy="480.2" r="1.9" fill="#c9c9c9"/><circle cx="579.3" cy="482.1" r="1.8" fill="#c8c8c8"/><circle cx="590.7" cy="476.0" r="1.7" fill="#c7c7c7"/><circle cx="595.5" cy="479.3" r="1.5" fill="#d4d4d4"/><circle cx="605.3" cy="480.3" r="1.6" fill="#d1d1d1"/><circle cx="608.6" cy="481.8" r="1.6" fill="#d2d2d2"/><circle cx="619.6" cy="480.6" r="1.7" fill="#d1d1d1"/><circle cx="625.4" cy="480.1" r="1.5" fill="#cfcfcf"/><circle cx="630.1" cy="482.3" r="1.4" fill="#c9c9c9"/><circle cx="641.6" cy="476.1" r="1.6" fill="#c1c1c1"/><circle cx="647.4" cy="477.7" r="1.9" fill="#c5c5c5"/><circle cx="654.6" cy="477.7" r="1.6" fill="#c7c7c7"/><circle cx="661.2" cy="481.0" r="2.0" fill="#cacaca"/><circle cx="667.3" cy="477.0" r="1.9" fill="#c3c3c3"/><circle cx="671.7" cy="479.6" r="1.6" fill="#cbcbcb"/><circle cx="678.1" cy="479.1" r="1.9" fill="#c9c9c9"/><circle cx="690.5" cy="476.1" r="1.6" fill="#cfcfcf"/><circle cx="691.4" cy="476.9" r="1.9" fill="#c0c0c0"/><circle cx="700.8" cy="479.8" r="2.0" fill="#c2c2c2"/><circle cx="707.3" cy="476.5" r="1.6" fill="#c9c9c9"/><circle cx="715.8" cy="476.3" r="1.9" fill="#cecece"/><circle cx="722.6" cy="477.0" r="1.9" fill="#c3c3c3"/><circle cx="727.5" cy="482.6" r="1.9" fill="#c7c7c7"/><circle cx="739.3" cy="476.4" r="1.9" fill="#c8c8c8"/><circle cx="740.7" cy="481.4" r="1.9" fill="#d4d4d4"/><circle cx="750.7" cy="481.6" r="2.0" fill="#c4c4c4"/><circle cx="760.4" cy="478.2" r="1.8" fill="#c4c4c4"/><circle cx="766.9" cy="480.0" r="1.6" fill="#c8c8c8"/><circle cx="772.2" cy="477.3" r="1.8" fill="#cbcbcb"/><circle cx="781.2" cy="477.7" r="1.8" fill="#c3c3c3"/><circle cx="391.4" cy="485.1" r="1.4" fill="#cacaca"/><circle cx="397.7" cy="485.0" r="1.9" fill="#cecece"/><circle cx="409.6" cy="486.8" r="1.7" fill="#c2c2c2"/><circle cx="413.4" cy="489.2" r="1.5" fill="#c2c2c2"/><circle cx="424.5" cy="483.0" r="1.9" fill="#cccccc"/><circle cx="425.6" cy="484.7" r="1.8" fill="#cdcdcd"/><circle cx="436.4" cy="483.8" r="1.6" fill="#c6c6c6"/><circle cx="440.7" cy="488.5" r="1.8" fill="#cecece"/><circle cx="449.7" cy="487.9" r="1.5" fill="#cccccc"/><circle cx="453.5" cy="485.9" r="1.6" fill="#c3c3c3"/><circle cx="461.5" cy="485.3" r="1.6" fill="#d4d4d4"/><circle cx="472.6" cy="485.1" r="1.8" fill="#c2c2c2"/><circle cx="480.6" cy="486.1" r="1.7" fill="#cdcdcd"/><circle cx="482.8" cy="484.8" r="1.5" fill="#d0d0d0"/><circle cx="492.9" cy="487.5" r="1.7" fill="#c6c6c6"/><circle cx="501.9" cy="486.4" r="1.6" fill="#cacaca"/><circle cx="504.6" cy="483.9" r="1.8" fill="#c2c2c2"/><circle cx="515.5" cy="487.6" r="1.6" fill="#d0d0d0"/><circle cx="516.9" cy="485.3" r="1.9" fill="#c9c9c9"/><circle cx="529.4" cy="489.3" r="2.0" fill="#cfcfcf"/><circle cx="534.3" cy="487.3" r="1.5" fill="#c8c8c8"/><circle cx="541.5" cy="489.1" r="1.6" fill="#c0c0c0"/><circle cx="545.9" cy="486.8" r="1.7" fill="#c6c6c6"/><circle cx="554.0" cy="483.1" r="2.0" fill="#c6c6c6"/><circle cx="562.9" cy="487.8" r="1.5" fill="#d4d4d4"/><circle cx="571.8" cy="484.5" r="1.6" fill="#cdcdcd"/><circle cx="574.6" cy="487.6" r="1.8" fill="#cecece"/><circle cx="583.4" cy="485.6" r="1.5" fill="#c2c2c2"/><circle cx="588.2" cy="483.8" r="1.8" fill="#cdcdcd"/><circle cx="597.6" cy="487.0" r="1.8" fill="#c7c7c7"/><circle cx="606.6" cy="487.1" r="1.7" fill="#cdcdcd"/><circle cx="609.3" cy="485.7" r="2.0" fill="#cecece"/><circle cx="614.3" cy="486.5" r="1.7" fill="#c1c1c1"/><circle cx="626.7" cy="483.4" r="1.6" fill="#c2c2c2"/><circle cx="634.2" cy="484.7" r="1.9" fill="#cecece"/><circle cx="641.3" cy="485.9" r="1.4" fill="#c2c2c2"/><circle cx="643.2" cy="484.4" r="1.5" fill="#c4c4c4"/><circle cx="655.4" cy="488.7" r="1.6" fill="#c2c2c2"/><circle cx="657.0" cy="485.3" r="1.7" fill="#c3c3c3"/><circle cx="663.3" cy="486.4" r="1.4" fill="#cccccc"/><circle cx="674.4" cy="485.0" r="1.7" fill="#c7c7c7"/><circle cx="678.9" cy="486.3" r="1.5" fill="#cecece"/><circle cx="690.6" cy="489.3" r="1.9" fill="#c4c4c4"/><circle cx="695.2" cy="487.6" r="1.6" fill="#d1d1d1"/><circle cx="698.5" cy="485.1" r="1.6" fill="#c8c8c8"/><circle cx="708.7" cy="487.5" r="1.5" fill="#cacaca"/><circle cx="714.7" cy="487.3" r="1.6" fill="#c0c0c0"/><circle cx="722.1" cy="489.1" r="1.9" fill="#cbcbcb"/><circle cx="728.1" cy="484.6" r="1.8" fill="#c9c9c9"/><circle cx="734.5" cy="487.4" r="1.7" fill="#cfcfcf"/><circle cx="744.0" cy="488.7" r="2.0" fill="#cccccc"/><circle cx="747.6" cy="489.1" r="1.7" fill="#c0c0c0"/><circle cx="758.1" cy="487.8" r="1.8" fill="#d4d4d4"/><circle cx="763.2" cy="484.5" r="1.9" fill="#d1d1d1"/><circle cx="772.2" cy="484.5" r="2.0" fill="#cfcfcf"/><circle cx="780.4" cy="484.5" r="1.7" fill="#c0c0c0"/><circle cx="394.9" cy="492.0" r="1.8" fill="#c4c4c4"/><circle cx="401.5" cy="493.1" r="1.8" fill="#c6c6c6"/><circle cx="406.0" cy="493.4" r="1.5" fill="#c6c6c6"/><circle cx="417.9" cy="492.8" r="1.4" fill="#c9c9c9"/><circle cx="420.4" cy="495.1" r="1.7" fill="#c5c5c5"/><circle cx="427.9" cy="492.0" r="1.6" fill="#d2d2d2"/><circle cx="433.0" cy="490.7" r="1.6" fill="#d0d0d0"/><circle cx="441.9" cy="494.5" r="1.7" fill="#c9c9c9"/><circle cx="451.4" cy="494.8" r="2.0" fill="#cacaca"/><circle cx="454.8" cy="496.6" r="2.0" fill="#c0c0c0"/><circle cx="461.6" cy="491.6" r="1.9" fill="#cdcdcd"/><circle cx="468.8" cy="492.4" r="1.8" fill="#d4d4d4"/><circle cx="476.2" cy="490.1" r="1.9" fill="#c8c8c8"/><circle cx="482.0" cy="492.6" r="1.8" fill="#cacaca"/><circle cx="488.8" cy="491.3" r="1.6" fill="#d2d2d2"/><circle cx="501.5" cy="493.5" r="1.6" fill="#d0d0d0"/><circle cx="507.4" cy="495.1" r="1.6" fill="#d3d3d3"/><circle cx="514.5" cy="493.9" r="1.7" fill="#cacaca"/><circle cx="522.4" cy="491.7" r="1.6" fill="#c3c3c3"/><circle cx="524.6" cy="491.7" r="1.5" fill="#c6c6c6"/><circle cx="534.9" cy="491.7" r="1.7" fill="#cfcfcf"/><circle cx="539.5" cy="493.5" r="1.8" fill="#c6c6c6"/><circle cx="548.7" cy="491.6" r="1.7" fill="#cfcfcf"/><circle cx="552.3" cy="495.0" r="1.4" fill="#c8c8c8"/><circle cx="560.4" cy="493.4" r="1.7" fill="#c5c5c5"/><circle cx="571.7" cy="494.4" r="1.7" fill="#c4c4c4"/><circle cx="578.0" cy="490.9" r="1.5" fill="#cacaca"/><circle cx="582.3" cy="496.5" r="1.6" fill="#cccccc"/><circle cx="587.5" cy="495.4" r="1.4" fill="#cfcfcf"/><circle cx="599.2" cy="491.4" r="1.7" fill="#c3c3c3"/><circle cx="604.8" cy="493.2" r="2.0" fill="#c7c7c7"/><circle cx="611.2" cy="490.7" r="2.0" fill="#c3c3c3"/><circle cx="615.3" cy="493.9" r="1.8" fill="#cbcbcb"/><circle cx="625.8" cy="492.9" r="1.9" fill="#c1c1c1"/><circle cx="630.1" cy="494.4" r="1.9" fill="#cecece"/><circle cx="638.3" cy="495.7" r="1.6" fill="#d1d1d1"/><circle cx="647.8" cy="491.3" r="1.5" fill="#c6c6c6"/><circle cx="655.0" cy="494.7" r="1.7" fill="#c2c2c2"/><circle cx="662.7" cy="490.6" r="1.8" fill="#c1c1c1"/><circle cx="667.2" cy="490.1" r="2.0" fill="#cecece"/><circle cx="676.6" cy="494.6" r="1.6" fill="#c0c0c0"/><circle cx="679.9" cy="494.0" r="1.7" fill="#c8c8c8"/><circle cx="685.0" cy="497.0" r="1.8" fill="#c6c6c6"/><circle cx="692.7" cy="490.2" r="1.8" fill="#d2d2d2"/><circle cx="699.9" cy="493.4" r="1.6" fill="#c0c0c0"/><circle cx="708.0" cy="494.9" r="1.7" fill="#c3c3c3"/><circle cx="715.5" cy="494.1" r="1.9" fill="#c1c1c1"/><circle cx="721.8" cy="491.0" r="1.9" fill="#c5c5c5"/><circle cx="727.0" cy="493.6" r="1.9" fill="#c4c4c4"/><circle cx="736.5" cy="496.5" r="1.6" fill="#c2c2c2"/><circle cx="741.7" cy="493.2" r="1.8" fill="#d2d2d2"/><circle cx="747.7" cy="496.0" r="1.7" fill="#c5c5c5"/><circle cx="760.9" cy="491.5" r="1.4" fill="#cacaca"/><circle cx="762.6" cy="491.6" r="1.4" fill="#c5c5c5"/><circle cx="768.2" cy="496.4" r="1.7" fill="#c6c6c6"/><circle cx="780.3" cy="492.1" r="1.8" fill="#c6c6c6"/><circle cx="391.0" cy="501.8" r="1.7" fill="#cfcfcf"/><circle cx="398.2" cy="499.4" r="1.9" fill="#cacaca"/><circle cx="410.8" cy="497.8" r="1.5" fill="#c3c3c3"/><circle cx="411.8" cy="502.2" r="1.6" fill="#d0d0d0"/><circle cx="423.5" cy="500.6" r="1.7" fill="#d4d4d4"/><circle cx="425.3" cy="498.9" r="1.4" fill="#d2d2d2"/><circle cx="437.3" cy="501.0" r="1.5" fill="#cdcdcd"/><circle cx="443.4" cy="497.5" r="1.5" fill="#d0d0d0"/><circle cx="448.5" cy="499.7" r="1.7" fill="#cbcbcb"/><circle cx="455.1" cy="501.3" r="1.7" fill="#cacaca"/><circle cx="465.1" cy="499.8" r="1.7" fill="#d2d2d2"/><circle cx="467.8" cy="497.3" r="1.7" fill="#c4c4c4"/><circle cx="480.1" cy="503.6" r="1.6" fill="#cecece"/><circle cx="485.7" cy="503.4" r="1.9" fill="#c7c7c7"/><circle cx="493.9" cy="498.7" r="1.6" fill="#cfcfcf"/><circle cx="498.1" cy="497.8" r="1.5" fill="#cbcbcb"/><circle cx="502.8" cy="501.2" r="2.0" fill="#cecece"/><circle cx="515.4" cy="503.8" r="1.7" fill="#c6c6c6"/><circle cx="516.5" cy="502.7" r="1.8" fill="#cfcfcf"/><circle cx="528.5" cy="503.6" r="1.9" fill="#c4c4c4"/><circle cx="530.7" cy="501.1" r="1.7" fill="#c7c7c7"/><circle cx="540.5" cy="502.0" r="2.0" fill="#d2d2d2"/><circle cx="545.6" cy="499.4" r="1.7" fill="#cacaca"/><circle cx="551.6" cy="501.3" r="1.9" fill="#d0d0d0"/><circle cx="560.3" cy="503.6" r="2.0" fill="#cacaca"/><circle cx="571.1" cy="497.1" r="1.6" fill="#d3d3d3"/><circle cx="573.2" cy="500.5" r="1.9" fill="#cecece"/><circle cx="579.9" cy="500.9" r="1.5" fill="#c9c9c9"/><circle cx="589.8" cy="498.0" r="2.0" fill="#c8c8c8"/><circle cx="594.8" cy="501.1" r="1.6" fill="#c4c4c4"/><circle cx="602.1" cy="501.9" r="1.5" fill="#d3d3d3"/><circle cx="608.2" cy="498.3" r="1.5" fill="#c6c6c6"/><circle cx="619.1" cy="498.2" r="1.9" fill="#c9c9c9"/><circle cx="623.8" cy="500.3" r="1.6" fill="#cbcbcb"/><circle cx="634.3" cy="500.0" r="2.0" fill="#c8c8c8"/><circle cx="636.2" cy="503.4" r="1.6" fill="#c6c6c6"/><circle cx="644.7" cy="498.9" r="1.5" fill="#cbcbcb"/><circle cx="656.0" cy="502.7" r="1.7" fill="#d3d3d3"/><circle cx="657.4" cy="498.2" r="1.6" fill="#d1d1d1"/><circle cx="664.9" cy="501.7" r="1.8" fill="#c5c5c5"/><circle cx="670.5" cy="498.8" r="1.5" fill="#c9c9c9"/><circle cx="680.9" cy="499.3" r="1.5" fill="#c9c9c9"/><circle cx="689.8" cy="502.5" r="1.8" fill="#c1c1c1"/><circle cx="695.9" cy="503.2" r="1.8" fill="#c3c3c3"/><circle cx="702.0" cy="497.2" r="1.7" fill="#d0d0d0"/><circle cx="705.5" cy="501.4" r="1.9" fill="#c6c6c6"/><circle cx="713.7" cy="503.9" r="1.9" fill="#cacaca"/><circle cx="722.2" cy="502.9" r="1.6" fill="#c3c3c3"/><circle cx="728.8" cy="502.5" r="1.9" fill="#d1d1d1"/><circle cx="735.1" cy="497.7" r="1.5" fill="#d3d3d3"/><circle cx="744.5" cy="501.8" r="1.6" fill="#c8c8c8"/><circle cx="751.3" cy="498.6" r="1.9" fill="#c2c2c2"/><circle cx="758.3" cy="499.4" r="1.5" fill="#cdcdcd"/><circle cx="763.4" cy="498.9" r="1.8" fill="#d4d4d4"/><circle cx="774.7" cy="500.6" r="1.6" fill="#d2d2d2"/><circle cx="781.1" cy="497.8" r="1.5" fill="#c7c7c7"/><circle cx="392.6" cy="507.6" r="1.5" fill="#cdcdcd"/><circle cx="403.3" cy="507.3" r="1.4" fill="#c2c2c2"/><circle cx="404.1" cy="506.2" r="1.5" fill="#d3d3d3"/><circle cx="411.4" cy="505.3" r="1.6" fill="#c3c3c3"/><circle cx="421.5" cy="505.1" r="1.9" fill="#d4d4d4"/><circle cx="426.1" cy="508.6" r="1.6" fill="#c4c4c4"/><circle cx="435.1" cy="507.1" r="1.5" fill="#c9c9c9"/><circle cx="441.7" cy="507.9" r="1.7" fill="#cccccc"/><circle cx="448.6" cy="509.5" r="1.7" fill="#d3d3d3"/><circle cx="459.5" cy="510.1" r="2.0" fill="#d1d1d1"/><circle cx="463.9" cy="508.4" r="1.9" fill="#d2d2d2"/><circle cx="468.8" cy="504.7" r="1.9" fill="#cacaca"/><circle cx="480.0" cy="504.1" r="1.5" fill="#c5c5c5"/><circle cx="485.9" cy="509.6" r="1.9" fill="#c8c8c8"/><circle cx="490.2" cy="505.0" r="1.9" fill="#c3c3c3"/><circle cx="497.6" cy="506.4" r="1.5" fill="#cecece"/><circle cx="505.2" cy="509.7" r="1.6" fill="#cacaca"/><circle cx="514.0" cy="504.7" r="1.6" fill="#c1c1c1"/><circle cx="518.5" cy="508.9" r="1.6" fill="#cbcbcb"/><circle cx="528.3" cy="507.9" r="1.6" fill="#c8c8c8"/><circle cx="531.0" cy="504.5" r="1.9" fill="#d4d4d4"/><circle cx="537.6" cy="505.4" r="2.0" fill="#c1c1c1"/><circle cx="544.3" cy="510.5" r="1.6" fill="#d1d1d1"/><circle cx="552.3" cy="510.4" r="1.7" fill="#c4c4c4"/><circle cx="564.4" cy="504.7" r="1.5" fill="#cecece"/><circle cx="569.5" cy="509.6" r="1.8" fill="#c7c7c7"/><circle cx="572.4" cy="504.1" r="1.5" fill="#c4c4c4"/><circle cx="581.6" cy="510.2" r="1.5" fill="#d0d0d0"/><circle cx="592.0" cy="509.3" r="1.7" fill="#cfcfcf"/><circle cx="598.7" cy="504.0" r="1.9" fill="#c7c7c7"/><circle cx="604.8" cy="506.1" r="1.8" fill="#cfcfcf"/><circle cx="613.5" cy="504.2" r="1.7" fill="#c4c4c4"/><circle cx="618.8" cy="507.2" r="1.7" fill="#d0d0d0"/><circle cx="623.3" cy="508.6" r="1.8" fill="#cfcfcf"/><circle cx="631.9" cy="507.9" r="1.4" fill="#cfcfcf"/><circle cx="640.0" cy="509.8" r="1.6" fill="#c0c0c0"/><circle cx="646.5" cy="504.3" r="1.5" fill="#c2c2c2"/><circle cx="649.6" cy="506.8" r="1.5" fill="#d4d4d4"/><circle cx="659.1" cy="504.5" r="1.9" fill="#d1d1d1"/><circle cx="669.5" cy="508.1" r="1.7" fill="#d1d1d1"/><circle cx="672.4" cy="510.8" r="2.0" fill="#c6c6c6"/><circle cx="682.8" cy="504.5" r="1.5" fill="#cbcbcb"/><circle cx="689.0" cy="507.8" r="2.0" fill="#c6c6c6"/><circle cx="697.7" cy="505.6" r="1.5" fill="#c0c0c0"/><circle cx="700.8" cy="506.0" r="1.4" fill="#cdcdcd"/><circle cx="707.1" cy="508.7" r="1.7" fill="#d3d3d3"/><circle cx="717.1" cy="509.3" r="1.7" fill="#d4d4d4"/><circle cx="724.0" cy="507.3" r="1.7" fill="#c9c9c9"/><circle cx="728.8" cy="504.7" r="2.0" fill="#cacaca"/><circle cx="734.3" cy="510.0" r="1.9" fill="#cfcfcf"/><circle cx="746.1" cy="505.6" r="1.6" fill="#d3d3d3"/><circle cx="753.9" cy="504.8" r="1.4" fill="#cbcbcb"/><circle cx="760.4" cy="506.7" r="1.9" fill="#cacaca"/><circle cx="763.3" cy="509.0" r="1.9" fill="#c4c4c4"/><circle cx="769.2" cy="510.8" r="1.8" fill="#c2c2c2"/><circle cx="778.2" cy="510.9" r="1.6" fill="#c7c7c7"/><circle cx="396.6" cy="511.7" r="1.6" fill="#cdcdcd"/><circle cx="400.7" cy="517.7" r="1.6" fill="#c0c0c0"/><circle cx="404.5" cy="514.7" r="1.8" fill="#d4d4d4"/><circle cx="413.5" cy="515.0" r="2.0" fill="#cccccc"/><circle cx="424.1" cy="512.8" r="1.9" fill="#c0c0c0"/><circle cx="427.4" cy="511.2" r="1.6" fill="#c0c0c0"/><circle cx="434.6" cy="515.1" r="1.5" fill="#d0d0d0"/><circle cx="443.6" cy="511.7" r="2.0" fill="#c2c2c2"/><circle cx="449.7" cy="512.8" r="1.5" fill="#c2c2c2"/><circle cx="458.2" cy="516.5" r="1.9" fill="#cecece"/><circle cx="465.6" cy="517.8" r="2.0" fill="#d1d1d1"/><circle cx="472.7" cy="517.5" r="1.6" fill="#cfcfcf"/><circle cx="478.7" cy="516.9" r="1.6" fill="#d1d1d1"/><circle cx="485.0" cy="516.7" r="1.5" fill="#c0c0c0"/><circle cx="491.8" cy="517.0" r="1.4" fill="#cecece"/><circle cx="497.4" cy="513.9" r="1.9" fill="#c9c9c9"/><circle cx="505.0" cy="511.0" r="1.5" fill="#d1d1d1"/><circle cx="509.9" cy="512.8" r="1.9" fill="#c5c5c5"/><circle cx="521.0" cy="517.9" r="1.4" fill="#cbcbcb"/><circle cx="525.2" cy="511.4" r="1.6" fill="#c7c7c7"/><circle cx="534.1" cy="517.9" r="1.5" fill="#c2c2c2"/><circle cx="541.5" cy="512.6" r="1.5" fill="#c3c3c3"/><circle cx="547.1" cy="517.9" r="1.6" fill="#cacaca"/><circle cx="558.0" cy="517.5" r="1.9" fill="#cfcfcf"/><circle cx="562.9" cy="513.3" r="1.9" fill="#c5c5c5"/><circle cx="568.7" cy="515.8" r="1.5" fill="#d1d1d1"/><circle cx="578.4" cy="511.7" r="1.8" fill="#cbcbcb"/><circle cx="585.0" cy="511.6" r="1.8" fill="#cdcdcd"/><circle cx="589.3" cy="514.3" r="1.8" fill="#d3d3d3"/><circle cx="599.1" cy="514.5" r="2.0" fill="#c9c9c9"/><circle cx="603.8" cy="517.3" r="2.0" fill="#d1d1d1"/><circle cx="608.1" cy="513.6" r="1.8" fill="#c7c7c7"/><circle cx="615.7" cy="515.8" r="2.0" fill="#cccccc"/><circle cx="624.5" cy="514.5" r="1.7" fill="#c4c4c4"/><circle cx="629.4" cy="513.4" r="2.0" fill="#c2c2c2"/><circle cx="635.5" cy="511.8" r="1.5" fill="#cecece"/><circle cx="646.4" cy="517.5" r="1.8" fill="#c0c0c0"/><circle cx="651.8" cy="515.1" r="1.7" fill="#c6c6c6"/><circle cx="656.2" cy="514.7" r="1.8" fill="#c6c6c6"/><circle cx="668.3" cy="513.4" r="1.6" fill="#c6c6c6"/><circle cx="672.5" cy="515.3" r="1.7" fill="#c8c8c8"/><circle cx="678.4" cy="517.3" r="2.0" fill="#cacaca"/><circle cx="689.2" cy="516.9" r="1.4" fill="#c9c9c9"/><circle cx="691.1" cy="516.0" r="2.0" fill="#c0c0c0"/><circle cx="703.5" cy="513.7" r="1.7" fill="#cdcdcd"/><circle cx="710.2" cy="513.5" r="1.9" fill="#c0c0c0"/><circle cx="718.4" cy="516.2" r="1.8" fill="#c4c4c4"/><circle cx="723.1" cy="512.1" r="1.9" fill="#d4d4d4"/><circle cx="729.3" cy="515.0" r="1.9" fill="#d1d1d1"/><circle cx="736.3" cy="513.0" r="1.9" fill="#c0c0c0"/><circle cx="740.5" cy="517.8" r="1.9" fill="#c0c0c0"/><circle cx="750.7" cy="517.0" r="1.9" fill="#cfcfcf"/><circle cx="759.7" cy="516.5" r="1.9" fill="#c3c3c3"/><circle cx="762.9" cy="513.7" r="1.9" fill="#d1d1d1"/><circle cx="773.8" cy="514.6" r="1.5" fill="#c7c7c7"/><circle cx="775.8" cy="513.3" r="1.4" fill="#d0d0d0"/><circle cx="392.9" cy="523.4" r="1.9" fill="#d2d2d2"/><circle cx="398.2" cy="521.7" r="1.8" fill="#d4d4d4"/><circle cx="410.7" cy="518.6" r="1.9" fill="#c7c7c7"/><circle cx="412.2" cy="525.0" r="1.6" fill="#c1c1c1"/><circle cx="420.4" cy="522.7" r="1.7" fill="#cfcfcf"/><circle cx="426.4" cy="520.1" r="1.4" fill="#c6c6c6"/><circle cx="434.4" cy="520.9" r="1.8" fill="#c7c7c7"/><circle cx="441.2" cy="523.9" r="1.8" fill="#d2d2d2"/><circle cx="447.6" cy="524.5" r="1.6" fill="#c2c2c2"/><circle cx="453.7" cy="520.2" r="1.5" fill="#c1c1c1"/><circle cx="466.0" cy="518.6" r="1.8" fill="#c1c1c1"/><circle cx="468.4" cy="523.1" r="1.9" fill="#d3d3d3"/><circle cx="477.7" cy="522.3" r="1.7" fill="#c7c7c7"/><circle cx="482.9" cy="519.0" r="1.9" fill="#d4d4d4"/><circle cx="491.2" cy="525.0" r="1.7" fill="#d0d0d0"/><circle cx="498.3" cy="524.0" r="1.5" fill="#c7c7c7"/><circle cx="505.4" cy="524.4" r="1.7" fill="#d4d4d4"/><circle cx="513.1" cy="523.5" r="1.7" fill="#d4d4d4"/><circle cx="516.0" cy="524.9" r="1.9" fill="#c4c4c4"/><circle cx="523.5" cy="524.9" r="1.8" fill="#d4d4d4"/><circle cx="530.9" cy="518.1" r="1.7" fill="#c0c0c0"/><circle cx="540.8" cy="520.6" r="1.9" fill="#cfcfcf"/><circle cx="544.0" cy="519.8" r="1.5" fill="#cacaca"/><circle cx="551.9" cy="519.8" r="1.6" fill="#c4c4c4"/><circle cx="558.1" cy="523.9" r="1.8" fill="#cfcfcf"/><circle cx="569.6" cy="522.6" r="1.4" fill="#cfcfcf"/><circle cx="575.2" cy="519.4" r="1.9" fill="#c4c4c4"/><circle cx="579.9" cy="521.5" r="1.7" fill="#c3c3c3"/><circle cx="586.0" cy="519.3" r="1.7" fill="#c6c6c6"/><circle cx="597.4" cy="522.3" r="1.6" fill="#c2c2c2"/><circle cx="604.6" cy="519.4" r="1.7" fill="#c9c9c9"/><circle cx="607.5" cy="523.4" r="1.5" fill="#cbcbcb"/><circle cx="614.8" cy="521.9" r="2.0" fill="#cccccc"/><circle cx="622.9" cy="519.4" r="1.6" fill="#c3c3c3"/><circle cx="632.7" cy="519.6" r="1.6" fill="#c3c3c3"/><circle cx="638.0" cy="521.7" r="1.5" fill="#c8c8c8"/><circle cx="643.1" cy="522.6" r="1.5" fill="#c6c6c6"/><circle cx="652.5" cy="524.7" r="1.5" fill="#c5c5c5"/><circle cx="657.0" cy="518.5" r="1.6" fill="#cacaca"/><circle cx="667.6" cy="518.6" r="1.5" fill="#d2d2d2"/><circle cx="676.5" cy="518.1" r="1.8" fill="#d2d2d2"/><circle cx="681.0" cy="522.2" r="1.4" fill="#cbcbcb"/><circle cx="685.7" cy="522.1" r="1.7" fill="#cacaca"/><circle cx="693.6" cy="523.1" r="1.7" fill="#d1d1d1"/><circle cx="701.8" cy="523.9" r="2.0" fill="#d1d1d1"/><circle cx="711.4" cy="523.6" r="2.0" fill="#c1c1c1"/><circle cx="718.8" cy="523.3" r="1.5" fill="#d2d2d2"/><circle cx="721.8" cy="524.4" r="1.7" fill="#cfcfcf"/><circle cx="727.5" cy="523.0" r="1.7" fill="#cdcdcd"/><circle cx="735.9" cy="519.9" r="1.6" fill="#cdcdcd"/><circle cx="745.6" cy="519.8" r="1.8" fill="#cfcfcf"/><circle cx="751.9" cy="518.3" r="1.7" fill="#d0d0d0"/><circle cx="754.2" cy="521.3" r="1.7" fill="#c9c9c9"/><circle cx="763.1" cy="521.4" r="1.4" fill="#c5c5c5"/><circle cx="771.1" cy="524.8" r="1.7" fill="#c8c8c8"/><circle cx="778.7" cy="520.7" r="1.5" fill="#c0c0c0"/><circle cx="394.4" cy="525.6" r="1.6" fill="#c4c4c4"/><circle cx="399.5" cy="527.2" r="1.8" fill="#cfcfcf"/><circle cx="408.2" cy="530.7" r="1.5" fill="#c6c6c6"/><circle cx="417.3" cy="526.6" r="1.6" fill="#c4c4c4"/><circle cx="424.8" cy="528.1" r="1.7" fill="#c1c1c1"/><circle cx="429.5" cy="529.2" r="1.9" fill="#cacaca"/><circle cx="436.8" cy="530.0" r="1.5" fill="#d2d2d2"/><circle cx="443.0" cy="531.3" r="1.6" fill="#cdcdcd"/><circle cx="450.5" cy="527.0" r="2.0" fill="#cbcbcb"/><circle cx="454.4" cy="528.6" r="1.5" fill="#cfcfcf"/><circle cx="461.9" cy="528.4" r="2.0" fill="#c3c3c3"/><circle cx="473.6" cy="528.3" r="1.9" fill="#cdcdcd"/><circle cx="477.5" cy="529.8" r="1.6" fill="#c2c2c2"/><circle cx="481.8" cy="531.2" r="1.6" fill="#c7c7c7"/><circle cx="491.3" cy="531.2" r="1.7" fill="#c8c8c8"/><circle cx="501.0" cy="531.4" r="1.5" fill="#c5c5c5"/><circle cx="506.9" cy="526.4" r="1.7" fill="#d3d3d3"/><circle cx="510.1" cy="528.4" r="1.7" fill="#c3c3c3"/><circle cx="518.8" cy="530.1" r="1.8" fill="#c7c7c7"/><circle cx="526.6" cy="529.3" r="1.9" fill="#c9c9c9"/><circle cx="534.2" cy="525.4" r="1.9" fill="#c5c5c5"/><circle cx="543.4" cy="529.5" r="1.8" fill="#d2d2d2"/><circle cx="550.7" cy="525.9" r="1.4" fill="#c6c6c6"/><circle cx="556.0" cy="528.8" r="1.6" fill="#c1c1c1"/><circle cx="564.5" cy="531.9" r="1.4" fill="#cccccc"/><circle cx="566.8" cy="526.1" r="1.9" fill="#c3c3c3"/><circle cx="573.0" cy="528.5" r="2.0" fill="#cecece"/><circle cx="580.2" cy="527.2" r="1.6" fill="#cccccc"/><circle cx="591.5" cy="526.3" r="1.6" fill="#cccccc"/><circle cx="593.1" cy="529.3" r="1.5" fill="#c2c2c2"/><circle cx="603.0" cy="531.5" r="1.5" fill="#c3c3c3"/><circle cx="608.6" cy="525.3" r="1.5" fill="#c2c2c2"/><circle cx="619.4" cy="531.8" r="1.7" fill="#c3c3c3"/><circle cx="626.0" cy="525.2" r="1.7" fill="#d1d1d1"/><circle cx="631.6" cy="528.3" r="1.8" fill="#cacaca"/><circle cx="635.7" cy="527.3" r="1.5" fill="#cccccc"/><circle cx="642.7" cy="525.4" r="1.6" fill="#d4d4d4"/><circle cx="652.9" cy="525.3" r="1.6" fill="#cbcbcb"/><circle cx="656.9" cy="530.5" r="1.9" fill="#cfcfcf"/><circle cx="669.7" cy="526.7" r="1.7" fill="#c6c6c6"/><circle cx="671.5" cy="525.9" r="1.8" fill="#d3d3d3"/><circle cx="682.4" cy="529.8" r="2.0" fill="#c2c2c2"/><circle cx="690.8" cy="526.8" r="1.6" fill="#c3c3c3"/><circle cx="691.7" cy="527.4" r="1.5" fill="#d3d3d3"/><circle cx="703.8" cy="526.3" r="1.5" fill="#cdcdcd"/><circle cx="710.4" cy="528.6" r="1.5" fill="#c7c7c7"/><circle cx="713.2" cy="525.3" r="1.8" fill="#c9c9c9"/><circle cx="720.8" cy="530.6" r="1.7" fill="#cbcbcb"/><circle cx="729.3" cy="525.2" r="1.9" fill="#c2c2c2"/><circle cx="737.0" cy="531.0" r="1.6" fill="#cdcdcd"/><circle cx="743.2" cy="527.7" r="1.8" fill="#cdcdcd"/><circle cx="748.3" cy="529.1" r="1.6" fill="#cfcfcf"/><circle cx="754.1" cy="526.1" r="1.9" fill="#c8c8c8"/><circle cx="763.2" cy="529.2" r="1.9" fill="#cecece"/><circle cx="774.4" cy="525.6" r="1.5" fill="#c4c4c4"/><circle cx="778.6" cy="528.7" r="1.5" fill="#cfcfcf"/><circle cx="391.7" cy="534.3" r="1.5" fill="#c9c9c9"/><circle cx="403.3" cy="538.6" r="1.5" fill="#c2c2c2"/><circle cx="408.1" cy="536.4" r="1.4" fill="#c9c9c9"/><circle cx="413.4" cy="535.1" r="1.8" fill="#c5c5c5"/><circle cx="420.6" cy="533.6" r="1.5" fill="#cecece"/><circle cx="429.1" cy="532.7" r="1.5" fill="#c8c8c8"/><circle cx="438.0" cy="534.1" r="1.8" fill="#cfcfcf"/><circle cx="445.5" cy="535.9" r="2.0" fill="#cfcfcf"/><circle cx="446.1" cy="534.5" r="1.4" fill="#c1c1c1"/><circle cx="459.6" cy="535.4" r="1.4" fill="#cbcbcb"/><circle cx="466.7" cy="532.6" r="1.4" fill="#d1d1d1"/><circle cx="470.3" cy="538.5" r="1.9" fill="#c2c2c2"/><circle cx="476.7" cy="534.6" r="1.6" fill="#c3c3c3"/><circle cx="485.6" cy="535.5" r="1.4" fill="#cecece"/><circle cx="491.6" cy="532.1" r="1.5" fill="#cbcbcb"/><circle cx="495.9" cy="538.3" r="1.7" fill="#c5c5c5"/><circle cx="503.3" cy="537.9" r="2.0" fill="#d4d4d4"/><circle cx="515.7" cy="538.8" r="1.6" fill="#cdcdcd"/><circle cx="518.4" cy="533.0" r="1.9" fill="#cbcbcb"/><circle cx="523.1" cy="532.4" r="1.7" fill="#d3d3d3"/><circle cx="533.1" cy="538.6" r="1.8" fill="#cacaca"/><circle cx="538.3" cy="534.3" r="1.5" fill="#cecece"/><circle cx="549.0" cy="538.3" r="1.9" fill="#c6c6c6"/><circle cx="557.3" cy="537.4" r="1.4" fill="#d2d2d2"/><circle cx="561.8" cy="538.6" r="1.7" fill="#c2c2c2"/><circle cx="567.2" cy="538.3" r="1.9" fill="#d1d1d1"/><circle cx="577.1" cy="533.0" r="1.7" fill="#c8c8c8"/><circle cx="583.6" cy="537.0" r="1.7" fill="#c8c8c8"/><circle cx="592.4" cy="534.1" r="1.7" fill="#c5c5c5"/><circle cx="594.1" cy="535.4" r="1.8" fill="#c2c2c2"/><circle cx="605.3" cy="535.3" r="1.4" fill="#d4d4d4"/><circle cx="609.1" cy="532.6" r="1.7" fill="#cacaca"/><circle cx="614.3" cy="536.9" r="1.8" fill="#cfcfcf"/><circle cx="626.6" cy="533.5" r="1.8" fill="#c2c2c2"/><circle cx="632.9" cy="532.9" r="1.6" fill="#c3c3c3"/><circle cx="639.0" cy="535.6" r="1.8" fill="#cfcfcf"/><circle cx="642.9" cy="538.6" r="1.8" fill="#cbcbcb"/><circle cx="651.7" cy="533.8" r="1.7" fill="#c2c2c2"/><circle cx="660.6" cy="533.1" r="1.9" fill="#c9c9c9"/><circle cx="666.1" cy="532.8" r="1.5" fill="#d4d4d4"/><circle cx="671.9" cy="537.8" r="1.7" fill="#c7c7c7"/><circle cx="678.8" cy="534.9" r="1.6" fill="#c2c2c2"/><circle cx="689.3" cy="536.0" r="1.6" fill="#cdcdcd"/><circle cx="694.8" cy="538.2" r="1.4" fill="#cbcbcb"/><circle cx="698.5" cy="533.0" r="1.4" fill="#c8c8c8"/><circle cx="710.9" cy="537.6" r="1.4" fill="#c0c0c0"/><circle cx="718.6" cy="538.3" r="2.0" fill="#c8c8c8"/><circle cx="723.2" cy="533.4" r="1.5" fill="#c9c9c9"/><circle cx="726.5" cy="535.5" r="2.0" fill="#c7c7c7"/><circle cx="735.5" cy="533.9" r="2.0" fill="#c1c1c1"/><circle cx="745.0" cy="536.2" r="1.5" fill="#d4d4d4"/><circle cx="748.5" cy="538.9" r="1.6" fill="#cbcbcb"/><circle cx="757.7" cy="538.1" r="1.9" fill="#cacaca"/><circle cx="762.5" cy="537.5" r="1.7" fill="#d4d4d4"/><circle cx="772.1" cy="535.4" r="1.5" fill="#cbcbcb"/><circle cx="778.5" cy="539.0" r="1.4" fill="#d2d2d2"/><circle cx="394.4" cy="539.4" r="1.7" fill="#d0d0d0"/><circle cx="398.1" cy="544.3" r="2.0" fill="#c4c4c4"/><circle cx="410.6" cy="544.0" r="1.7" fill="#d4d4d4"/><circle cx="416.5" cy="542.9" r="1.9" fill="#c2c2c2"/><circle cx="420.3" cy="545.0" r="1.9" fill="#c9c9c9"/><circle cx="428.4" cy="542.8" r="1.4" fill="#cecece"/><circle cx="434.3" cy="539.5" r="2.0" fill="#cbcbcb"/><circle cx="445.9" cy="541.6" r="1.4" fill="#c6c6c6"/><circle cx="450.4" cy="542.1" r="1.7" fill="#d1d1d1"/><circle cx="454.9" cy="542.7" r="1.7" fill="#c4c4c4"/><circle cx="461.4" cy="542.7" r="1.5" fill="#cccccc"/><circle cx="470.0" cy="539.4" r="2.0" fill="#c4c4c4"/><circle cx="480.0" cy="543.9" r="2.0" fill="#d1d1d1"/><circle cx="482.0" cy="540.8" r="1.7" fill="#cecece"/><circle cx="491.0" cy="541.9" r="1.6" fill="#d0d0d0"/><circle cx="501.0" cy="539.4" r="1.7" fill="#c4c4c4"/><circle cx="507.5" cy="545.5" r="1.5" fill="#cbcbcb"/><circle cx="509.3" cy="543.7" r="1.6" fill="#c9c9c9"/><circle cx="522.4" cy="540.5" r="1.7" fill="#c3c3c3"/><circle cx="525.0" cy="543.7" r="1.6" fill="#cacaca"/><circle cx="532.0" cy="542.2" r="1.7" fill="#d3d3d3"/><circle cx="541.6" cy="542.0" r="1.5" fill="#c3c3c3"/><circle cx="547.4" cy="541.4" r="1.8" fill="#cacaca"/><circle cx="552.6" cy="544.9" r="1.9" fill="#c5c5c5"/><circle cx="561.2" cy="543.9" r="1.8" fill="#c8c8c8"/><circle cx="565.6" cy="539.5" r="1.7" fill="#d3d3d3"/><circle cx="577.4" cy="542.8" r="1.8" fill="#cbcbcb"/><circle cx="582.3" cy="545.5" r="1.5" fill="#c2c2c2"/><circle cx="586.6" cy="544.4" r="1.9" fill="#cbcbcb"/><circle cx="595.2" cy="546.0" r="2.0" fill="#c0c0c0"/><circle cx="601.5" cy="539.9" r="1.8" fill="#d0d0d0"/><circle cx="608.7" cy="541.6" r="2.0" fill="#cecece"/><circle cx="620.6" cy="544.9" r="1.4" fill="#c4c4c4"/><circle cx="622.3" cy="541.6" r="1.6" fill="#c8c8c8"/><circle cx="632.3" cy="542.1" r="1.7" fill="#c4c4c4"/><circle cx="639.7" cy="542.5" r="1.5" fill="#c8c8c8"/><circle cx="648.1" cy="543.0" r="1.9" fill="#c9c9c9"/><circle cx="654.8" cy="543.6" r="1.4" fill="#c2c2c2"/><circle cx="657.5" cy="543.5" r="1.7" fill="#cacaca"/><circle cx="663.4" cy="540.1" r="2.0" fill="#d4d4d4"/><circle cx="671.4" cy="540.3" r="1.6" fill="#c1c1c1"/><circle cx="678.6" cy="543.4" r="1.4" fill="#c2c2c2"/><circle cx="690.9" cy="542.8" r="1.6" fill="#d0d0d0"/><circle cx="694.3" cy="545.6" r="1.6" fill="#d1d1d1"/><circle cx="698.3" cy="543.8" r="1.7" fill="#cccccc"/><circle cx="711.2" cy="543.1" r="1.6" fill="#c9c9c9"/><circle cx="718.6" cy="544.4" r="1.8" fill="#cccccc"/><circle cx="725.5" cy="539.4" r="1.8" fill="#d1d1d1"/><circle cx="726.2" cy="544.1" r="1.5" fill="#d2d2d2"/><circle cx="736.5" cy="541.7" r="1.9" fill="#c7c7c7"/><circle cx="744.6" cy="543.3" r="2.0" fill="#cdcdcd"/><circle cx="750.7" cy="539.1" r="2.0" fill="#cfcfcf"/><circle cx="760.1" cy="545.9" r="1.5" fill="#cfcfcf"/><circle cx="761.6" cy="539.9" r="1.9" fill="#d2d2d2"/><circle cx="772.1" cy="540.5" r="1.8" fill="#c5c5c5"/><circle cx="777.7" cy="542.4" r="1.4" fill="#cdcdcd"/></g></g>
<path d="M 408 285.8 L 491.8 287.5 C 526 289 539 312 539.4 341 L 543 432 C 545 470 563 484.2 589 484.2 C 616 484.2 643 468 643 430 L 645 341 C 645 310 661 289 694.7 287.5 L 760 285.8" fill="none" stroke="#444" stroke-width="2.5"/>
<line x1="491.8" y1="287.5" x2="586" y2="287.5" stroke="#666" stroke-width="1.8"/>
<line x1="490" y1="189.2" x2="586" y2="189.2" stroke="#555" stroke-width="2"/>
<rect x="585" y="189.2" width="25.8" height="258.8" rx="1.5" fill="#fff" stroke="#3c3c3c" stroke-width="2.6"/>
<line x1="585" y1="287.5" x2="611" y2="287.5" stroke="#666" stroke-width="1.8"/>
<circle cx="594.9" cy="207.8" r="3.8" fill="#333"/><circle cx="594.9" cy="273" r="3.8" fill="#333"/>
</g>
<ellipse cx="582.2" cy="353.4" rx="187" ry="185.6" fill="none" stroke="#808080" stroke-width="2.4"/>
<line x1="584.5" y1="457.5" x2="484.3" y2="670.4" stroke="#404040" stroke-width="3.2"/>
<text x="349.40" y="737.6" font-family="Liberation Sans" font-size="70.0" font-weight="normal" fill="#404040" textLength="265.35" lengthAdjust="spacingAndGlyphs" stroke="#fff" stroke-width="1.8" paint-order="fill">Remplissage</text>
<text x="327.28" y="800.7" font-family="Liberation Sans" font-size="70.0" font-weight="normal" fill="#404040" textLength="310.08" lengthAdjust="spacingAndGlyphs" stroke="#fff" stroke-width="1.8" paint-order="fill">terre ou béton</text>
<text x="338.88" y="886.6" font-family="Liberation Sans" font-size="70.0" font-weight="normal" fill="#404040" textLength="286.15" lengthAdjust="spacingAndGlyphs" stroke="#fff" stroke-width="1.8" paint-order="fill">Befüllung mit</text>
<text x="305.76" y="949.6" font-family="Liberation Sans" font-size="70.0" font-weight="normal" fill="#404040" textLength="353.45" lengthAdjust="spacingAndGlyphs" stroke="#fff" stroke-width="1.8" paint-order="fill">Erde oder Beton</text>
<polygon points="796.5,815.7 1130,702 1680,832 1665,838 1283,978.7" fill="url(#hatch1)"/>
<polygon points="1129,144.2 1642.6,216.4 1643,848.8 1446.6,789 1130,702" fill="#a5a5a7" stroke="#5e5e60" stroke-width="3.4" stroke-linejoin="miter"/>
<polygon points="866,669 1158.3,596.8 1158.3,632.2 937,690.4 880,672" fill="url(#railg)" stroke="#5e5e60" stroke-width="3.6" stroke-linejoin="round"/>
<polygon points="1158.3,596.8 1192.8,606.1 1192.8,644.3 1158.3,632.2" fill="#e6e6e7" stroke="#5e5e60" stroke-width="3.4"/>
<line x1="1164.8" y1="610.5" x2="1164.8" y2="630" stroke="#444" stroke-width="1.8" stroke-linecap="round"/>
<line x1="1172.7" y1="610.5" x2="1172.7" y2="630" stroke="#444" stroke-width="1.8" stroke-linecap="round"/>
<line x1="1180.7" y1="610.5" x2="1180.7" y2="630" stroke="#444" stroke-width="1.8" stroke-linecap="round"/>
<ellipse cx="1164.4" cy="737.8" rx="26" ry="18" fill="#dadadb" stroke="#5e5e60" stroke-width="3.4"/>
<rect x="1152.6" y="633.5" width="20.7" height="108.4" fill="#dcdcdd" stroke="#5e5e60" stroke-width="3.4"/><line x1="1163.4" y1="633.5" x2="1163.4" y2="741.9" stroke="#5e5e60" stroke-width="2.6"/>
<ellipse cx="1575.5" cy="847" rx="25" ry="18" fill="#dadadb" stroke="#5e5e60" stroke-width="3.4"/>
<rect x="1568.5" y="757.0" width="10.1" height="96.0" fill="#dcdcdd" stroke="#5e5e60" stroke-width="3.4"/>
<ellipse cx="874.5" cy="800.5" rx="24" ry="18" fill="#dadadb" stroke="#5e5e60" stroke-width="3.4"/>
<rect x="865.4" y="704.0" width="19.4" height="101.5" fill="#dcdcdd" stroke="#5e5e60" stroke-width="3.4"/><line x1="873.4" y1="704.0" x2="873.4" y2="805.5" stroke="#5e5e60" stroke-width="2.6"/>
<polygon points="866,669 1249,791.4 1249,827.9 866,704.5" fill="url(#railg)" stroke="#5e5e60" stroke-width="3.6" stroke-linejoin="round"/>
<polygon points="1535.1,709 1578.6,720.7 1535.1,729.2" fill="#f0f0f1" stroke="#5e5e60" stroke-width="3.4" stroke-linejoin="round"/>
<polygon points="1249,791.4 1578.6,720.7 1578.6,757.3 1249,827.9" fill="url(#railg)" stroke="#5e5e60" stroke-width="3.6" stroke-linejoin="round"/>
<circle cx="1052.4" cy="748.5" r="4.3" fill="#5a5a5a"/>
<ellipse cx="1249" cy="937.3" rx="26.8" ry="19.5" fill="#dadadb" stroke="#5e5e60" stroke-width="3.4"/>
<rect x="1239.3" y="827.9" width="21.8" height="111.9" fill="#dcdcdd" stroke="#5e5e60" stroke-width="3.4"/><line x1="1249.0" y1="827.9" x2="1249.0" y2="939.8" stroke="#5e5e60" stroke-width="2.6"/>
<polygon points="743.5,449.5 1087.2,681.4 1091.3,666.5 1144.3,737.3 1057.4,712.9 1069.0,703.8 728.7,470.5" fill="#c9402f" stroke="#c9402f" stroke-width="3" stroke-linejoin="round"/>
<ellipse cx="555.5" cy="1410.6" rx="185.5" ry="182.5" fill="#fff" stroke="#9a9a9a" stroke-width="2.4"/>
<rect x="435.6" y="1422.2" width="237" height="118" fill="#9e9e9f" stroke="#8c8c8c" stroke-width="2"/>
<rect x="537.4" y="1424.5" width="25.6" height="4.4" rx="2.2" fill="#f2f2f2" stroke="#8a8a8a" stroke-width="0.7"/><rect x="537.7" y="1430.2" width="25.0" height="4.4" rx="2.2" fill="#f2f2f2" stroke="#8a8a8a" stroke-width="0.7"/><rect x="538.0" y="1435.9" width="24.5" height="4.4" rx="2.2" fill="#f2f2f2" stroke="#8a8a8a" stroke-width="0.7"/><rect x="538.2" y="1441.6" width="23.9" height="4.4" rx="2.2" fill="#f2f2f2" stroke="#8a8a8a" stroke-width="0.7"/><rect x="538.5" y="1447.3" width="23.4" height="4.4" rx="2.2" fill="#f2f2f2" stroke="#8a8a8a" stroke-width="0.7"/><rect x="538.8" y="1453.0" width="22.8" height="4.4" rx="2.2" fill="#f2f2f2" stroke="#8a8a8a" stroke-width="0.7"/><rect x="539.1" y="1458.7" width="22.2" height="4.4" rx="2.2" fill="#f2f2f2" stroke="#8a8a8a" stroke-width="0.7"/><rect x="539.4" y="1464.4" width="21.7" height="4.4" rx="2.2" fill="#f2f2f2" stroke="#8a8a8a" stroke-width="0.7"/><rect x="539.6" y="1470.1" width="21.1" height="4.4" rx="2.2" fill="#f2f2f2" stroke="#8a8a8a" stroke-width="0.7"/><rect x="539.9" y="1475.8" width="20.6" height="4.4" rx="2.2" fill="#f2f2f2" stroke="#8a8a8a" stroke-width="0.7"/><rect x="540.2" y="1481.5" width="20.0" height="4.4" rx="2.2" fill="#f2f2f2" stroke="#8a8a8a" stroke-width="0.7"/><rect x="540.5" y="1487.2" width="19.4" height="4.4" rx="2.2" fill="#f2f2f2" stroke="#8a8a8a" stroke-width="0.7"/><rect x="540.8" y="1492.9" width="18.9" height="4.4" rx="2.2" fill="#f2f2f2" stroke="#8a8a8a" stroke-width="0.7"/><rect x="541.0" y="1498.6" width="18.3" height="4.4" rx="2.2" fill="#f2f2f2" stroke="#8a8a8a" stroke-width="0.7"/><rect x="541.3" y="1504.3" width="17.8" height="4.4" rx="2.2" fill="#f2f2f2" stroke="#8a8a8a" stroke-width="0.7"/>
<path d="M 580 1277 L 580 1256 L 518.9 1256 L 518.9 1417 L 580 1417 L 580 1401" fill="none" stroke="#222" stroke-width="4.6"/>
<rect x="541" y="1345.5" width="20" height="4" rx="2" fill="#222"/>
<path d="M 546.3 1348 L 555.8 1348 L 555 1401 L 547.2 1401 Z" fill="#222"/>
<rect x="538.5" y="1402.5" width="24" height="15" fill="#fff" stroke="#222" stroke-width="3"/>
<line x1="555.6" y1="1427.5" x2="785.5" y2="1427.5" stroke="#404040" stroke-width="3"/>
<text x="762.44" y="1298.2" font-family="Liberation Sans" font-size="70.0" font-weight="normal" fill="#404040" textLength="364.07" lengthAdjust="spacingAndGlyphs" stroke="#fff" stroke-width="1.8" paint-order="fill">Fixation par cheville à</text>
<text x="768.96" y="1361.3" font-family="Liberation Sans" font-size="70.0" font-weight="normal" fill="#404040" textLength="353.07" lengthAdjust="spacingAndGlyphs" stroke="#fff" stroke-width="1.8" paint-order="fill">l’intérieur de la serre</text>
<text x="814.23" y="1442.1" font-family="Liberation Sans" font-size="70.0" font-weight="normal" fill="#404040" textLength="261.49" lengthAdjust="spacingAndGlyphs" stroke="#fff" stroke-width="1.8" paint-order="fill">Befestigung mit</text>
<text x="785.21" y="1505.2" font-family="Liberation Sans" font-size="70.0" font-weight="normal" fill="#404040" textLength="319.16" lengthAdjust="spacingAndGlyphs" stroke="#fff" stroke-width="1.8" paint-order="fill">Dübeln im Inneren</text>
<text x="832.17" y="1567.3" font-family="Liberation Sans" font-size="70.0" font-weight="normal" fill="#404040" textLength="227.26" lengthAdjust="spacingAndGlyphs" stroke="#fff" stroke-width="1.8" paint-order="fill">des Rahmens</text>
<polygon points="1138.5,1166.9 1587.7,1230.2 1587.4,1792.8 1550.4,1781.3 1140,1683" fill="#a5a5a7" stroke="#5e5e60" stroke-width="3.4"/>
<path d="M798.5 1800.6 L787.6 1813.7 M819.6 1795.1 L801.9 1816.3 M840.7 1789.6 L816.2 1818.9 M854.1 1793.3 L828.2 1824.3 M866.6 1798.1 L840.7 1829.1 M879.0 1803.0 L853.2 1834.0 M891.5 1807.8 L865.7 1838.8 M904.0 1812.7 L878.1 1843.7 M916.4 1817.5 L890.6 1848.5 M928.9 1822.3 L903.1 1853.3 M941.4 1827.2 L915.5 1858.2 M953.8 1832.0 L928.0 1863.0 M966.3 1836.8 L940.5 1867.8 M978.8 1841.7 L952.9 1872.7 M991.2 1846.5 L965.4 1877.5 M1003.7 1851.4 L977.9 1882.4 M1016.2 1856.2 L990.3 1887.2 M1028.6 1861.0 L1002.8 1892.0 M1041.1 1865.9 L1015.3 1896.9 M1053.6 1870.7 L1027.7 1901.7 M1066.0 1875.5 L1040.2 1906.5 M1078.5 1880.4 L1052.7 1911.4 M1091.0 1885.2 L1065.2 1916.2 M1103.5 1890.1 L1077.6 1921.1 M1115.9 1894.9 L1090.1 1925.9 M1128.4 1899.7 L1102.6 1930.7 M1140.9 1904.6 L1115.0 1935.6 M1153.3 1909.4 L1127.5 1940.4 M1165.8 1914.2 L1140.0 1945.2 M1178.3 1919.1 L1152.4 1950.1 M1190.7 1923.9 L1164.9 1954.9 M1203.2 1928.8 L1177.4 1959.8 M1222.0 1925.9 L1194.9 1958.5 M1247.3 1915.4 L1218.0 1950.7 M1272.6 1904.9 L1241.0 1942.9 M1297.9 1894.3 L1264.0 1935.0 M1323.2 1883.8 L1287.0 1927.2 M1348.5 1873.2 L1311.8 1917.2 M1373.8 1862.7 L1337.1 1906.7 M1399.1 1852.1 L1362.4 1896.1 M1424.3 1841.6 L1387.7 1885.6 M1449.6 1831.0 L1413.0 1875.0 M1474.9 1820.5 L1438.3 1864.5 M1500.2 1809.9 L1463.5 1853.9 M1525.5 1799.4 L1488.8 1843.4 M1553.6 1785.5 L1516.9 1829.5 M1566.7 1789.6 L1530.0 1833.6 M1579.8 1793.6 L1543.2 1837.6 M1592.9 1797.7 L1561.2 1835.8 M1606.0 1801.7 L1581.2 1831.5 M1619.2 1805.8 L1601.3 1827.3 M1632.3 1809.9 L1621.3 1823.0" stroke="#8e8e8f" stroke-width="2.3" stroke-linecap="round" fill="none"/>
<polygon points="843,1755.1 1185.8,1676.6 1546.3,1758.4 1208,1887.6" fill="#a4a4a6" stroke="#5e5e60" stroke-width="3.6" stroke-linejoin="round"/>
<polygon points="843,1755.1 1208,1887.6 1208,1928.6 843,1785.8" fill="#a6a6a8" stroke="#5e5e60" stroke-width="3.6" stroke-linejoin="round"/>
<polygon points="1208,1887.6 1546.3,1758.4 1546.3,1789.4 1208,1928.6" fill="#a6a6a8" stroke="#5e5e60" stroke-width="3.6" stroke-linejoin="round"/>
<polygon points="844.9,1636.4 1175.4,1553.2 1175.4,1586.8 909.4,1654.9 853.5,1637.3" fill="url(#railg)" stroke="#5e5e60" stroke-width="3.6" stroke-linejoin="round"/>
<polygon points="1175.4,1553.2 1205,1560 1205,1595 1175.4,1586.8" fill="#ececed" stroke="#5e5e60" stroke-width="3.4"/>
<circle cx="1190.7" cy="1577.4" r="3.6" fill="#555"/>
<polygon points="844.9,1636.4 853.5,1637.3 1191.5,1749.4 1191.5,1787.7 844.9,1676.6" fill="url(#railg)" stroke="#5e5e60" stroke-width="3.6" stroke-linejoin="round"/>
<polygon points="1488.5,1644 1530.5,1653.6 1488.5,1661.5" fill="#f0f0f1" stroke="#5e5e60" stroke-width="3.4" stroke-linejoin="round"/>
<polygon points="1191.5,1749.4 1530.5,1653.6 1530.5,1694.5 1191.5,1787.7" fill="url(#railg)" stroke="#5e5e60" stroke-width="3.6" stroke-linejoin="round"/>
<circle cx="1039.8" cy="1715" r="4" fill="#555"/>
<polygon points="844.8,1677.7 854.8,1677.7 854.8,1722.2 862.5,1722.2 849.8,1756.4 837.0,1722.2 844.8,1722.2" fill="#c9402f"/>
<polygon points="1166.8,1591.5 1177.8,1591.5 1177.8,1642.0 1185.8,1642.0 1172.3,1678.5 1158.8,1642.0 1166.8,1642.0" fill="#c9402f"/>
<polygon points="1523.5,1697.5 1532.0,1697.5 1532.0,1731.0 1538.3,1731.0 1527.8,1761.5 1517.3,1731.0 1523.5,1731.0" fill="#c9402f"/>
<polygon points="1191.0,1793.3 1201.5,1793.3 1201.5,1842.0 1210.5,1842.0 1196.2,1880.2 1182.0,1842.0 1191.0,1842.0" fill="#c9402f"/>
<polygon points="84.1,1870 24,1973 144,1973" fill="#f5d312" stroke="#f5d312" stroke-width="9" stroke-linejoin="round"/>
<polygon points="84.1,1877.5 30.5,1969 137.7,1969" fill="#f5d312" stroke="#0a0a0a" stroke-width="5.6" stroke-linejoin="round"/>
<path d="M 84.1 1901.6 C 89 1901.6 92.2 1904 91.9 1908.5 L 86.2 1942.5 L 82 1942.5 L 76.3 1908.5 C 76 1904 79.2 1901.6 84.1 1901.6 Z" fill="#0a0a0a"/>
<circle cx="84.1" cy="1950.8" r="7.2" fill="#0a0a0a"/>
<text x="343.19" y="1915.5" font-family="Liberation Sans" font-size="68.0" font-weight="normal" fill="#c8412f" textLength="646.23" lengthAdjust="spacingAndGlyphs" stroke="#fff" stroke-width="1.8" paint-order="fill">Visseries et chevilles de fixation non fournies.</text>
<text x="159.48" y="1978.9" font-family="Liberation Sans" font-size="68.0" font-weight="normal" fill="#c8412f" textLength="1014.04" lengthAdjust="spacingAndGlyphs" stroke="#fff" stroke-width="1.8" paint-order="fill">Dübel und Schrauben zur Befestigung nicht im Lieferumfang enthalten.</text></svg>
</body></html>
